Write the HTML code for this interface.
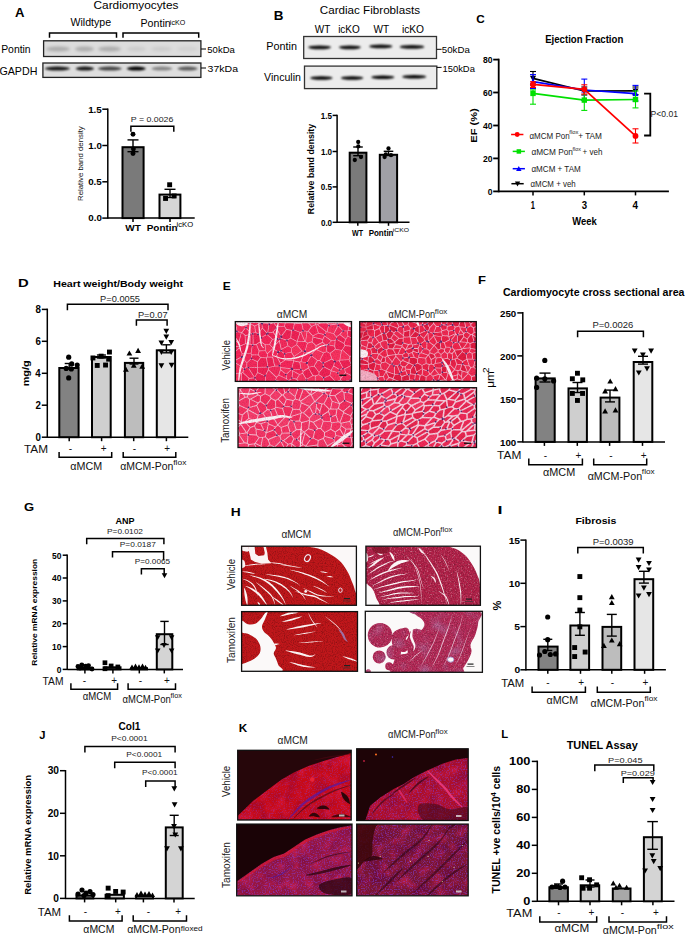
<!DOCTYPE html>
<html><head><meta charset="utf-8"><style>
html,body{margin:0;padding:0;background:#fff;}
svg{display:block;}
text{font-family:"Liberation Sans", sans-serif;}
</style></head><body>
<svg width="685" height="936" viewBox="0 0 685 936">
<defs>
<filter id="blur1" x="-20%" y="-50%" width="140%" height="200%"><feGaussianBlur stdDeviation="0.9"/></filter>
<filter id="blur2" x="-20%" y="-50%" width="140%" height="200%"><feGaussianBlur stdDeviation="1.4"/></filter>
</defs>
<rect width="685" height="936" fill="#fff"/>

<text x="15.07" y="17.0" font-size="12.5" font-weight="bold" fill="#000" textLength="9.47" lengthAdjust="spacingAndGlyphs" >A</text>
<text x="93.50" y="9.1" font-size="10.6" font-weight="normal" fill="#000" textLength="84.93" lengthAdjust="spacingAndGlyphs" >Cardiomyocytes</text>
<text x="70.45" y="26.3" font-size="10" font-weight="normal" fill="#000" textLength="40.62" lengthAdjust="spacingAndGlyphs" >Wildtype</text>
<text x="140.53" y="27.3" font-size="10" font-weight="normal" fill="#000" textLength="30.16" lengthAdjust="spacingAndGlyphs" >Pontin</text>
<text x="169.82" y="24.5" font-size="6.3" font-weight="normal" fill="#000" textLength="15.42" lengthAdjust="spacingAndGlyphs" >icKO</text>
<polyline points="49.5,37.8 49.5,33.1 116.5,33.1 116.5,37.8" fill="none" stroke="#000" stroke-width="1.5"/>
<polyline points="123.0,37.8 123.0,33.1 198.7,33.1 198.7,37.8" fill="none" stroke="#000" stroke-width="1.5"/>
<rect x="43.6" y="40.8" width="157.3" height="15.7" fill="#dcdcdc" stroke="#222" stroke-width="1.3"/>
<g filter="url(#blur2)">
<ellipse cx="58.0" cy="49" rx="12.0" ry="2.6" fill="#000" opacity="0.22"/>
<ellipse cx="84.5" cy="49" rx="9.5" ry="2.6" fill="#000" opacity="0.22"/>
<ellipse cx="109.5" cy="49" rx="11.5" ry="2.6" fill="#000" opacity="0.22"/>
<ellipse cx="136.5" cy="49" rx="9.5" ry="2.6" fill="#000" opacity="0.07"/>
<ellipse cx="161.5" cy="49" rx="10.5" ry="2.6" fill="#000" opacity="0.07"/>
<ellipse cx="187.5" cy="49" rx="10.5" ry="2.6" fill="#000" opacity="0.05"/>
</g>
<rect x="42.9" y="63.0" width="158.0" height="14.4" fill="#dedede" stroke="#222" stroke-width="1.3"/>
<g filter="url(#blur1)">
<ellipse cx="57.4" cy="68.6" rx="12.6" ry="2.0" fill="#000" opacity="0.9"/>
<ellipse cx="84.9" cy="68.6" rx="9.3" ry="2.0" fill="#000" opacity="0.9"/>
<ellipse cx="109.8" cy="68.6" rx="12.1" ry="2.0" fill="#000" opacity="0.7"/>
<ellipse cx="136.3" cy="68.6" rx="9.6" ry="2.0" fill="#000" opacity="1.0"/>
<ellipse cx="161.9" cy="68.6" rx="10.6" ry="2.0" fill="#000" opacity="0.4"/>
<ellipse cx="187.6" cy="68.6" rx="10.2" ry="2.0" fill="#000" opacity="0.6"/>
</g>
<text x="1.15" y="52.6" font-size="10" font-weight="normal" fill="#000" textLength="29.53" lengthAdjust="spacingAndGlyphs" >Pontin</text>
<text x="-0.54" y="74.5" font-size="10.5" font-weight="normal" fill="#000" textLength="37.91" lengthAdjust="spacingAndGlyphs" >GAPDH</text>
<line x1="201.0" y1="49.0" x2="206.0" y2="49.0" stroke="#000" stroke-width="1"/>
<text x="207.32" y="52.5" font-size="9.5" font-weight="normal" fill="#000" textLength="27.58" lengthAdjust="spacingAndGlyphs" >50kDa</text>
<line x1="201.0" y1="68.0" x2="206.0" y2="68.0" stroke="#000" stroke-width="1"/>
<text x="207.60" y="71.5" font-size="9.5" font-weight="normal" fill="#000" textLength="30.40" lengthAdjust="spacingAndGlyphs" >37kDa</text>
<line x1="107.8" y1="108.5" x2="107.8" y2="218.8" stroke="#000" stroke-width="1.5"/>
<line x1="102.3" y1="109.2" x2="107.8" y2="109.2" stroke="#000" stroke-width="1.5"/>
<text x="88.18" y="112.5" font-size="8.6" font-weight="bold" fill="#000" textLength="13.59" lengthAdjust="spacingAndGlyphs" >1.5</text>
<line x1="102.3" y1="145.5" x2="107.8" y2="145.5" stroke="#000" stroke-width="1.5"/>
<text x="88.31" y="148.8" font-size="8.6" font-weight="bold" fill="#000" textLength="13.59" lengthAdjust="spacingAndGlyphs" >1.0</text>
<line x1="102.3" y1="181.8" x2="107.8" y2="181.8" stroke="#000" stroke-width="1.5"/>
<text x="88.18" y="185.1" font-size="8.6" font-weight="bold" fill="#000" textLength="13.59" lengthAdjust="spacingAndGlyphs" >0.5</text>
<line x1="102.3" y1="218.1" x2="107.8" y2="218.1" stroke="#000" stroke-width="1.5"/>
<text x="88.31" y="221.4" font-size="8.6" font-weight="bold" fill="#000" textLength="13.59" lengthAdjust="spacingAndGlyphs" >0.0</text>
<line x1="107.8" y1="218.1" x2="194.7" y2="218.1" stroke="#000" stroke-width="1.5"/>
<line x1="133.0" y1="218.1" x2="133.0" y2="222.1" stroke="#000" stroke-width="1.5"/>
<line x1="170.0" y1="218.1" x2="170.0" y2="222.1" stroke="#000" stroke-width="1.5"/>
<rect x="122.5" y="147.2" width="21.1" height="70.9" fill="#7a7a7a" stroke="#000" stroke-width="2"/>
<rect x="159.5" y="194.6" width="20.9" height="23.5" fill="#d6d6d6" stroke="#000" stroke-width="2"/>
<line x1="133.0" y1="139.9" x2="133.0" y2="151.7" stroke="#000" stroke-width="1.4"/>
<line x1="127.5" y1="139.9" x2="138.5" y2="139.9" stroke="#000" stroke-width="1.4"/>
<line x1="127.5" y1="151.7" x2="138.5" y2="151.7" stroke="#000" stroke-width="1.4"/>
<line x1="170.0" y1="189.3" x2="170.0" y2="197.5" stroke="#000" stroke-width="1.4"/>
<line x1="164.5" y1="189.3" x2="175.5" y2="189.3" stroke="#000" stroke-width="1.4"/>
<line x1="164.5" y1="197.5" x2="175.5" y2="197.5" stroke="#000" stroke-width="1.4"/>
<circle cx="133.0" cy="134.3" r="2.4640000000000004" fill="#000"/>
<circle cx="133.4" cy="149.0" r="2.4640000000000004" fill="#000"/>
<circle cx="133.0" cy="153.5" r="2.4640000000000004" fill="#000"/>
<rect x="167.2" y="182.3" width="4.9" height="4.9" fill="#000"/>
<rect x="163.1" y="196.0" width="4.9" height="4.9" fill="#000"/>
<rect x="171.7" y="193.5" width="4.9" height="4.9" fill="#000"/>
<polyline points="130.9,131.7 130.9,126.2 173.8,126.2 173.8,131.7" fill="none" stroke="#000" stroke-width="1.5"/>
<text x="130.78" y="121.9" font-size="7.5" font-weight="normal" fill="#222" textLength="42.60" lengthAdjust="spacingAndGlyphs" >P = 0.0026</text>
<text transform="translate(83.2,200.94) rotate(-90)" x="0" y="0" font-size="8.1" font-weight="normal" fill="#111" textLength="74.66" lengthAdjust="spacingAndGlyphs">Relative band density</text>
<text x="125.39" y="231.1" font-size="9.3" font-weight="bold" fill="#000" textLength="15.62" lengthAdjust="spacingAndGlyphs" >WT</text>
<text x="146.73" y="231.1" font-size="9.3" font-weight="bold" fill="#000" textLength="30.98" lengthAdjust="spacingAndGlyphs" >Pontin</text>
<text x="176.59" y="227.0" font-size="6.5" font-weight="normal" fill="#000" textLength="16.58" lengthAdjust="spacingAndGlyphs" >icKO</text>
<text x="273.80" y="20.0" font-size="12.8" font-weight="bold" fill="#000" textLength="9.71" lengthAdjust="spacingAndGlyphs" >B</text>
<text x="319.81" y="14.3" font-size="11.4" font-weight="normal" fill="#000" textLength="100.21" lengthAdjust="spacingAndGlyphs" >Cardiac Fibroblasts</text>
<text x="314.86" y="32.7" font-size="10.9" font-weight="normal" fill="#000" textLength="15.57" lengthAdjust="spacingAndGlyphs" >WT</text>
<text x="338.13" y="32.7" font-size="10.9" font-weight="normal" fill="#000" textLength="21.65" lengthAdjust="spacingAndGlyphs" >icKO</text>
<text x="373.56" y="32.7" font-size="10.9" font-weight="normal" fill="#000" textLength="15.57" lengthAdjust="spacingAndGlyphs" >WT</text>
<text x="401.92" y="32.7" font-size="10.9" font-weight="normal" fill="#000" textLength="22.17" lengthAdjust="spacingAndGlyphs" >icKO</text>
<rect x="303.7" y="36.5" width="132.8" height="22.0" fill="#ececec" stroke="#333" stroke-width="1.3"/>
<rect x="304.5" y="66.1" width="132.3" height="22.5" fill="#ececec" stroke="#333" stroke-width="1.3"/>
<g filter="url(#blur1)">
<ellipse cx="319.6" cy="47.3" rx="11.5" ry="1.9" fill="#000" opacity="0.95"/>
<ellipse cx="349.9" cy="47.3" rx="11.0" ry="1.9" fill="#000" opacity="0.95"/>
<ellipse cx="380.8" cy="46.4" rx="11.6" ry="1.9" fill="#000" opacity="0.95"/>
<ellipse cx="412.0" cy="46.9" rx="12.3" ry="1.9" fill="#000" opacity="0.95"/>
<ellipse cx="321.4" cy="78" rx="11.2" ry="1.8" fill="#000" opacity="1"/>
<ellipse cx="352.1" cy="78" rx="11.2" ry="1.8" fill="#000" opacity="1"/>
<ellipse cx="382.8" cy="77.2" rx="11.6" ry="1.8" fill="#000" opacity="1"/>
<ellipse cx="414.2" cy="76.8" rx="12.1" ry="1.8" fill="#000" opacity="1"/>
</g>
<text x="266.32" y="50.2" font-size="10.5" font-weight="normal" fill="#000" textLength="30.59" lengthAdjust="spacingAndGlyphs" >Pontin</text>
<text x="264.05" y="81.0" font-size="10.5" font-weight="normal" fill="#000" textLength="36.93" lengthAdjust="spacingAndGlyphs" >Vinculin</text>
<line x1="436.8" y1="49.3" x2="441.6" y2="49.3" stroke="#000" stroke-width="1"/>
<text x="441.81" y="52.8" font-size="9.6" font-weight="normal" fill="#000" textLength="27.99" lengthAdjust="spacingAndGlyphs" >50kDa</text>
<line x1="436.8" y1="67.4" x2="441.6" y2="67.4" stroke="#000" stroke-width="1"/>
<text x="442.48" y="72.0" font-size="9.6" font-weight="normal" fill="#000" textLength="32.42" lengthAdjust="spacingAndGlyphs" >150kDa</text>
<line x1="337.1" y1="114.7" x2="337.1" y2="223.1" stroke="#000" stroke-width="1.5"/>
<line x1="332.6" y1="115.4" x2="337.1" y2="115.4" stroke="#000" stroke-width="1.5"/>
<text x="320.79" y="118.6" font-size="8.3" font-weight="bold" fill="#000" textLength="11.23" lengthAdjust="spacingAndGlyphs" >1.5</text>
<line x1="332.6" y1="151.5" x2="337.1" y2="151.5" stroke="#000" stroke-width="1.5"/>
<text x="320.90" y="154.7" font-size="8.3" font-weight="bold" fill="#000" textLength="11.23" lengthAdjust="spacingAndGlyphs" >1.0</text>
<line x1="332.6" y1="186.9" x2="337.1" y2="186.9" stroke="#000" stroke-width="1.5"/>
<text x="320.79" y="190.1" font-size="8.3" font-weight="bold" fill="#000" textLength="11.23" lengthAdjust="spacingAndGlyphs" >0.5</text>
<line x1="332.6" y1="222.3" x2="337.1" y2="222.3" stroke="#000" stroke-width="1.5"/>
<text x="320.90" y="225.5" font-size="8.3" font-weight="bold" fill="#000" textLength="11.23" lengthAdjust="spacingAndGlyphs" >0.0</text>
<line x1="337.1" y1="222.3" x2="409.5" y2="222.3" stroke="#000" stroke-width="1.5"/>
<line x1="357.8" y1="222.3" x2="357.8" y2="225.8" stroke="#000" stroke-width="1.5"/>
<line x1="388.5" y1="222.3" x2="388.5" y2="225.8" stroke="#000" stroke-width="1.5"/>
<rect x="349.7" y="152.7" width="16.7" height="69.6" fill="#7a7a7a" stroke="#000" stroke-width="2"/>
<rect x="379.8" y="154.8" width="17.3" height="67.5" fill="#a0a0a6" stroke="#000" stroke-width="2"/>
<line x1="358.0" y1="147.0" x2="358.0" y2="155.7" stroke="#000" stroke-width="1.4"/>
<line x1="353.2" y1="147.0" x2="362.8" y2="147.0" stroke="#000" stroke-width="1.4"/>
<line x1="353.2" y1="155.7" x2="362.8" y2="155.7" stroke="#000" stroke-width="1.4"/>
<line x1="388.5" y1="151.3" x2="388.5" y2="155.5" stroke="#000" stroke-width="1.4"/>
<line x1="383.7" y1="151.3" x2="393.3" y2="151.3" stroke="#000" stroke-width="1.4"/>
<line x1="383.7" y1="155.5" x2="393.3" y2="155.5" stroke="#000" stroke-width="1.4"/>
<circle cx="358.2" cy="142.0" r="2.128" fill="#000"/>
<circle cx="358.3" cy="146.4" r="2.128" fill="#000"/>
<circle cx="361.0" cy="157.0" r="2.128" fill="#000"/>
<circle cx="354.8" cy="160.0" r="2.128" fill="#000"/>
<circle cx="388.5" cy="148.5" r="2.128" fill="#000"/>
<circle cx="385.8" cy="154.3" r="2.128" fill="#000"/>
<circle cx="391.0" cy="155.2" r="2.128" fill="#000"/>
<circle cx="384.6" cy="157.0" r="2.128" fill="#000"/>
<text transform="translate(314.4,214.19) rotate(-90)" x="0" y="0" font-size="9" font-weight="bold" fill="#000" textLength="90.33" lengthAdjust="spacingAndGlyphs">Relative band density</text>
<text x="351.99" y="235.8" font-size="8.3" font-weight="bold" fill="#000" textLength="11.08" lengthAdjust="spacingAndGlyphs" >WT</text>
<text x="368.67" y="235.8" font-size="8.3" font-weight="bold" fill="#000" textLength="24.83" lengthAdjust="spacingAndGlyphs" >Pontin</text>
<text x="392.75" y="231.5" font-size="6" font-weight="normal" fill="#000" textLength="16.18" lengthAdjust="spacingAndGlyphs" >iCKO</text>
<text x="476.32" y="22.9" font-size="11.8" font-weight="bold" fill="#000" textLength="8.51" lengthAdjust="spacingAndGlyphs" >C</text>
<text x="545.16" y="42.8" font-size="10.6" font-weight="bold" fill="#000" textLength="78.14" lengthAdjust="spacingAndGlyphs" >Ejection Fraction</text>
<line x1="498.7" y1="58.7" x2="498.7" y2="192.3" stroke="#000" stroke-width="1.8"/>
<line x1="493.2" y1="59.6" x2="498.7" y2="59.6" stroke="#000" stroke-width="1.8"/>
<text x="483.03" y="63.3" font-size="9.9" font-weight="bold" fill="#000" textLength="9.52" lengthAdjust="spacingAndGlyphs" >80</text>
<line x1="493.2" y1="92.5" x2="498.7" y2="92.5" stroke="#000" stroke-width="1.8"/>
<text x="483.03" y="96.3" font-size="9.9" font-weight="bold" fill="#000" textLength="9.52" lengthAdjust="spacingAndGlyphs" >60</text>
<line x1="493.2" y1="125.5" x2="498.7" y2="125.5" stroke="#000" stroke-width="1.8"/>
<text x="483.03" y="129.2" font-size="9.9" font-weight="bold" fill="#000" textLength="9.52" lengthAdjust="spacingAndGlyphs" >40</text>
<line x1="493.2" y1="158.4" x2="498.7" y2="158.4" stroke="#000" stroke-width="1.8"/>
<text x="483.03" y="162.2" font-size="9.9" font-weight="bold" fill="#000" textLength="9.52" lengthAdjust="spacingAndGlyphs" >20</text>
<line x1="493.2" y1="191.4" x2="498.7" y2="191.4" stroke="#000" stroke-width="1.8"/>
<text x="487.79" y="195.1" font-size="9.9" font-weight="bold" fill="#000" textLength="4.76" lengthAdjust="spacingAndGlyphs" >0</text>
<line x1="498.7" y1="191.4" x2="668.9" y2="191.4" stroke="#000" stroke-width="1.8"/>
<line x1="533.0" y1="191.4" x2="533.0" y2="195.4" stroke="#000" stroke-width="1.5"/>
<line x1="584.3" y1="191.4" x2="584.3" y2="195.4" stroke="#000" stroke-width="1.5"/>
<line x1="635.5" y1="191.4" x2="635.5" y2="195.4" stroke="#000" stroke-width="1.5"/>
<text x="530.63" y="208.7" font-size="10.8" font-weight="bold" fill="#000" textLength="4.18" lengthAdjust="spacingAndGlyphs" >1</text>
<text x="581.68" y="208.7" font-size="10.8" font-weight="bold" fill="#000" textLength="5.37" lengthAdjust="spacingAndGlyphs" >3</text>
<text x="632.55" y="208.7" font-size="10.8" font-weight="bold" fill="#000" textLength="5.50" lengthAdjust="spacingAndGlyphs" >4</text>
<text x="572.29" y="224.8" font-size="11.3" font-weight="bold" fill="#000" textLength="24.50" lengthAdjust="spacingAndGlyphs" >Week</text>
<text transform="translate(476.6,142.64) rotate(-90)" x="0" y="0" font-size="9.8" font-weight="bold" fill="#000" textLength="34.39" lengthAdjust="spacingAndGlyphs">EF (%)</text>
<line x1="533.0" y1="71.5" x2="533.0" y2="85.0" stroke="#000" stroke-width="1.1"/>
<line x1="530.0" y1="71.5" x2="536.0" y2="71.5" stroke="#000" stroke-width="1.1"/>
<line x1="530.0" y1="85.0" x2="536.0" y2="85.0" stroke="#000" stroke-width="1.1"/>
<line x1="584.3" y1="87.0" x2="584.3" y2="95.0" stroke="#000" stroke-width="1.1"/>
<line x1="581.3" y1="87.0" x2="587.3" y2="87.0" stroke="#000" stroke-width="1.1"/>
<line x1="581.3" y1="95.0" x2="587.3" y2="95.0" stroke="#000" stroke-width="1.1"/>
<line x1="635.5" y1="87.0" x2="635.5" y2="94.5" stroke="#000" stroke-width="1.1"/>
<line x1="632.5" y1="87.0" x2="638.5" y2="87.0" stroke="#000" stroke-width="1.1"/>
<line x1="632.5" y1="94.5" x2="638.5" y2="94.5" stroke="#000" stroke-width="1.1"/>
<polyline points="533.0,78.3 584.3,91.0 635.5,90.9" fill="none" stroke="#000" stroke-width="1.7"/>
<polygon points="533.0,81.4 536.1,75.8 529.9,75.8" fill="#000"/>
<polygon points="584.3,94.1 587.4,88.5 581.2,88.5" fill="#000"/>
<polygon points="635.5,94.0 638.6,88.4 632.4,88.4" fill="#000"/>
<line x1="533.0" y1="74.6" x2="533.0" y2="88.5" stroke="#0000ff" stroke-width="1.1"/>
<line x1="530.0" y1="74.6" x2="536.0" y2="74.6" stroke="#0000ff" stroke-width="1.1"/>
<line x1="530.0" y1="88.5" x2="536.0" y2="88.5" stroke="#0000ff" stroke-width="1.1"/>
<line x1="584.3" y1="79.1" x2="584.3" y2="100.5" stroke="#0000ff" stroke-width="1.1"/>
<line x1="581.3" y1="79.1" x2="587.3" y2="79.1" stroke="#0000ff" stroke-width="1.1"/>
<line x1="581.3" y1="100.5" x2="587.3" y2="100.5" stroke="#0000ff" stroke-width="1.1"/>
<line x1="635.5" y1="85.4" x2="635.5" y2="101.0" stroke="#0000ff" stroke-width="1.1"/>
<line x1="632.5" y1="85.4" x2="638.5" y2="85.4" stroke="#0000ff" stroke-width="1.1"/>
<line x1="632.5" y1="101.0" x2="638.5" y2="101.0" stroke="#0000ff" stroke-width="1.1"/>
<polyline points="533.0,81.7 584.3,90.0 635.5,93.6" fill="none" stroke="#0000ff" stroke-width="1.7"/>
<polygon points="533.0,78.6 536.1,84.2 529.9,84.2" fill="#0000ff"/>
<polygon points="584.3,86.9 587.4,92.5 581.2,92.5" fill="#0000ff"/>
<polygon points="635.5,90.5 638.6,96.1 632.4,96.1" fill="#0000ff"/>
<line x1="533.0" y1="89.9" x2="533.0" y2="104.2" stroke="#00e000" stroke-width="1.1"/>
<line x1="530.0" y1="89.9" x2="536.0" y2="89.9" stroke="#00e000" stroke-width="1.1"/>
<line x1="530.0" y1="104.2" x2="536.0" y2="104.2" stroke="#00e000" stroke-width="1.1"/>
<line x1="584.3" y1="89.8" x2="584.3" y2="110.4" stroke="#00e000" stroke-width="1.1"/>
<line x1="581.3" y1="89.8" x2="587.3" y2="89.8" stroke="#00e000" stroke-width="1.1"/>
<line x1="581.3" y1="110.4" x2="587.3" y2="110.4" stroke="#00e000" stroke-width="1.1"/>
<line x1="635.5" y1="91.0" x2="635.5" y2="107.9" stroke="#00e000" stroke-width="1.1"/>
<line x1="632.5" y1="91.0" x2="638.5" y2="91.0" stroke="#00e000" stroke-width="1.1"/>
<line x1="632.5" y1="107.9" x2="638.5" y2="107.9" stroke="#00e000" stroke-width="1.1"/>
<polyline points="533.0,93.4 584.3,100.1 635.5,99.5" fill="none" stroke="#00e000" stroke-width="1.7"/>
<rect x="530.3" y="90.7" width="5.4" height="5.4" fill="#00e000"/>
<rect x="581.6" y="97.4" width="5.4" height="5.4" fill="#00e000"/>
<rect x="632.8" y="96.8" width="5.4" height="5.4" fill="#00e000"/>
<line x1="533.0" y1="81.7" x2="533.0" y2="87.5" stroke="#ff0000" stroke-width="1.1"/>
<line x1="530.0" y1="81.7" x2="536.0" y2="81.7" stroke="#ff0000" stroke-width="1.1"/>
<line x1="530.0" y1="87.5" x2="536.0" y2="87.5" stroke="#ff0000" stroke-width="1.1"/>
<line x1="584.3" y1="84.8" x2="584.3" y2="94.0" stroke="#ff0000" stroke-width="1.1"/>
<line x1="581.3" y1="84.8" x2="587.3" y2="84.8" stroke="#ff0000" stroke-width="1.1"/>
<line x1="581.3" y1="94.0" x2="587.3" y2="94.0" stroke="#ff0000" stroke-width="1.1"/>
<line x1="635.5" y1="128.8" x2="635.5" y2="143.0" stroke="#ff0000" stroke-width="1.1"/>
<line x1="632.5" y1="128.8" x2="638.5" y2="128.8" stroke="#ff0000" stroke-width="1.1"/>
<line x1="632.5" y1="143.0" x2="638.5" y2="143.0" stroke="#ff0000" stroke-width="1.1"/>
<polyline points="533.0,84.4 584.3,89.3 635.5,135.9" fill="none" stroke="#ff0000" stroke-width="1.7"/>
<circle cx="533.0" cy="84.4" r="2.9120000000000004" fill="#ff0000"/>
<circle cx="584.3" cy="89.3" r="2.9120000000000004" fill="#ff0000"/>
<circle cx="635.5" cy="135.9" r="2.9120000000000004" fill="#ff0000"/>
<polyline points="644.1,93.6 650.3,93.6 650.3,135.5 644.1,135.5" fill="none" stroke="#000" stroke-width="1.8"/>
<text x="650.60" y="117.0" font-size="8.2" font-weight="normal" fill="#222" textLength="27.32" lengthAdjust="spacingAndGlyphs" >P&lt;0.01</text>
<line x1="511.1" y1="134.5" x2="523.4" y2="134.5" stroke="#ff0000" stroke-width="1.5"/>
<circle cx="517.2" cy="134.5" r="2.4640000000000004" fill="#ff0000"/>
<line x1="512.7" y1="151.4" x2="524.9" y2="151.4" stroke="#00e000" stroke-width="1.5"/>
<rect x="516.6" y="149.2" width="4.5" height="4.5" fill="#00e000"/>
<line x1="512.7" y1="168.7" x2="524.9" y2="168.7" stroke="#0000ff" stroke-width="1.5"/>
<polygon points="518.8,166.0 521.5,170.9 516.1,170.9" fill="#0000ff"/>
<line x1="511.4" y1="183.7" x2="523.7" y2="183.7" stroke="#000" stroke-width="1.5"/>
<polygon points="517.5,186.4 520.2,181.5 514.9,181.5" fill="#000"/>
<text x="529.46" y="138.5" font-size="8.5" font-weight="normal" fill="#222" textLength="40.15" lengthAdjust="spacingAndGlyphs" >&#945;MCM Pon</text>
<text x="569.32" y="134.2" font-size="5.5" font-weight="normal" fill="#222" textLength="9.04" lengthAdjust="spacingAndGlyphs" >flox</text>
<text x="578.21" y="138.5" font-size="8.5" font-weight="normal" fill="#222" textLength="23.75" lengthAdjust="spacingAndGlyphs" >+ TAM</text>
<text x="531.45" y="154.9" font-size="8.5" font-weight="normal" fill="#222" textLength="41.48" lengthAdjust="spacingAndGlyphs" >&#945;MCM Pon</text>
<text x="572.62" y="150.6" font-size="5.5" font-weight="normal" fill="#222" textLength="8.33" lengthAdjust="spacingAndGlyphs" >flox</text>
<text x="582.51" y="154.9" font-size="8.5" font-weight="normal" fill="#222" textLength="19.92" lengthAdjust="spacingAndGlyphs" >+ veh</text>
<text x="531.47" y="171.8" font-size="8.5" font-weight="normal" fill="#222" textLength="49.28" lengthAdjust="spacingAndGlyphs" >&#945;MCM + TAM</text>
<text x="530.47" y="187.1" font-size="8.5" font-weight="normal" fill="#222" textLength="45.25" lengthAdjust="spacingAndGlyphs" >&#945;MCM + veh</text>
<text x="17.91" y="287.2" font-size="11.7" font-weight="bold" fill="#000" textLength="10.72" lengthAdjust="spacingAndGlyphs" >D</text>
<text x="53.29" y="287.0" font-size="9.8" font-weight="bold" fill="#000" textLength="129.74" lengthAdjust="spacingAndGlyphs" >Heart weight/Body weight</text>
<line x1="47.3" y1="308.6" x2="47.3" y2="437.9" stroke="#000" stroke-width="1.5"/>
<line x1="41.8" y1="309.4" x2="47.3" y2="309.4" stroke="#000" stroke-width="1.5"/>
<text x="35.39" y="313.2" font-size="10.2" font-weight="bold" fill="#000" textLength="5.41" lengthAdjust="spacingAndGlyphs" >8</text>
<line x1="41.8" y1="341.3" x2="47.3" y2="341.3" stroke="#000" stroke-width="1.5"/>
<text x="35.44" y="345.2" font-size="10.2" font-weight="bold" fill="#000" textLength="5.41" lengthAdjust="spacingAndGlyphs" >6</text>
<line x1="41.8" y1="373.3" x2="47.3" y2="373.3" stroke="#000" stroke-width="1.5"/>
<text x="35.14" y="377.1" font-size="10.2" font-weight="bold" fill="#000" textLength="5.41" lengthAdjust="spacingAndGlyphs" >4</text>
<line x1="41.8" y1="405.2" x2="47.3" y2="405.2" stroke="#000" stroke-width="1.5"/>
<text x="35.48" y="409.1" font-size="10.2" font-weight="bold" fill="#000" textLength="5.41" lengthAdjust="spacingAndGlyphs" >2</text>
<line x1="41.8" y1="437.2" x2="47.3" y2="437.2" stroke="#000" stroke-width="1.5"/>
<text x="35.49" y="441.0" font-size="10.2" font-weight="bold" fill="#000" textLength="5.41" lengthAdjust="spacingAndGlyphs" >0</text>
<line x1="47.3" y1="437.2" x2="188.3" y2="437.2" stroke="#000" stroke-width="1.5"/>
<line x1="69.2" y1="437.2" x2="69.2" y2="441.2" stroke="#000" stroke-width="1.5"/>
<line x1="101.6" y1="437.2" x2="101.6" y2="441.2" stroke="#000" stroke-width="1.5"/>
<line x1="133.7" y1="437.2" x2="133.7" y2="441.2" stroke="#000" stroke-width="1.5"/>
<line x1="166.4" y1="437.2" x2="166.4" y2="441.2" stroke="#000" stroke-width="1.5"/>
<rect x="59.3" y="368.0" width="19.3" height="69.2" fill="#828282" stroke="#000" stroke-width="2"/>
<rect x="92.0" y="357.0" width="18.7" height="80.2" fill="#cfcfcf" stroke="#000" stroke-width="2"/>
<rect x="124.9" y="362.9" width="18.3" height="74.3" fill="#bdbdbd" stroke="#000" stroke-width="2"/>
<rect x="156.8" y="350.3" width="18.3" height="86.9" fill="#e6e6e6" stroke="#000" stroke-width="2"/>
<line x1="69.2" y1="363.5" x2="69.2" y2="369.0" stroke="#000" stroke-width="1.4"/>
<line x1="64.7" y1="363.5" x2="73.7" y2="363.5" stroke="#000" stroke-width="1.4"/>
<line x1="64.7" y1="369.0" x2="73.7" y2="369.0" stroke="#000" stroke-width="1.4"/>
<line x1="101.4" y1="355.0" x2="101.4" y2="358.0" stroke="#000" stroke-width="1.4"/>
<line x1="96.9" y1="355.0" x2="105.9" y2="355.0" stroke="#000" stroke-width="1.4"/>
<line x1="96.9" y1="358.0" x2="105.9" y2="358.0" stroke="#000" stroke-width="1.4"/>
<line x1="134.0" y1="358.2" x2="134.0" y2="364.0" stroke="#000" stroke-width="1.4"/>
<line x1="129.5" y1="358.2" x2="138.5" y2="358.2" stroke="#000" stroke-width="1.4"/>
<line x1="129.5" y1="364.0" x2="138.5" y2="364.0" stroke="#000" stroke-width="1.4"/>
<line x1="166.4" y1="344.8" x2="166.4" y2="352.8" stroke="#000" stroke-width="1.4"/>
<line x1="162.2" y1="344.8" x2="170.6" y2="344.8" stroke="#000" stroke-width="1.4"/>
<line x1="162.2" y1="352.8" x2="170.6" y2="352.8" stroke="#000" stroke-width="1.4"/>
<circle cx="68.7" cy="357.2" r="2.576" fill="#000"/>
<circle cx="71.7" cy="363.9" r="2.576" fill="#000"/>
<circle cx="77.2" cy="365.1" r="2.576" fill="#000"/>
<circle cx="66.2" cy="368.4" r="2.576" fill="#000"/>
<circle cx="71.3" cy="369.0" r="2.576" fill="#000"/>
<circle cx="68.7" cy="377.9" r="2.576" fill="#000"/>
<rect x="107.0" y="349.6" width="4.9" height="4.9" fill="#000"/>
<rect x="90.5" y="355.5" width="4.9" height="4.9" fill="#000"/>
<rect x="98.7" y="353.7" width="4.9" height="4.9" fill="#000"/>
<rect x="106.2" y="356.7" width="4.9" height="4.9" fill="#000"/>
<rect x="94.8" y="363.0" width="4.9" height="4.9" fill="#000"/>
<rect x="103.1" y="362.6" width="4.9" height="4.9" fill="#000"/>
<polygon points="129.4,350.4 132.3,355.6 126.5,355.6" fill="#000"/>
<polygon points="138.1,347.8 141.0,353.0 135.2,353.0" fill="#000"/>
<polygon points="133.8,362.6 136.7,367.8 130.9,367.8" fill="#000"/>
<polygon points="125.9,366.5 128.8,371.7 123.0,371.7" fill="#000"/>
<polygon points="142.2,363.6 145.1,368.8 139.3,368.8" fill="#000"/>
<polygon points="166.3,333.9 169.2,328.7 163.4,328.7" fill="#000"/>
<polygon points="166.3,339.8 169.2,334.6 163.4,334.6" fill="#000"/>
<polygon points="161.4,345.7 164.3,340.5 158.5,340.5" fill="#000"/>
<polygon points="171.2,345.3 174.1,340.1 168.3,340.1" fill="#000"/>
<polygon points="161.4,354.9 164.3,349.7 158.5,349.7" fill="#000"/>
<polygon points="171.2,354.9 174.1,349.7 168.3,349.7" fill="#000"/>
<polygon points="161.4,368.4 164.3,363.2 158.5,363.2" fill="#000"/>
<polygon points="171.6,368.0 174.5,362.8 168.7,362.8" fill="#000"/>
<polyline points="67.4,310.3 67.4,304.2 168.0,304.2 168.0,310.3" fill="none" stroke="#000" stroke-width="1.5"/>
<text x="100.14" y="302.0" font-size="8.5" font-weight="normal" fill="#222" textLength="39.85" lengthAdjust="spacingAndGlyphs" >P=0.0055</text>
<polyline points="136.4,325.7 136.4,319.9 167.1,319.9 167.1,325.7" fill="none" stroke="#000" stroke-width="1.5"/>
<text x="137.94" y="318.2" font-size="8.5" font-weight="normal" fill="#222" textLength="29.63" lengthAdjust="spacingAndGlyphs" >P=0.07</text>
<text transform="translate(29.4,386.32) rotate(-90)" x="0" y="0" font-size="9.8" font-weight="bold" fill="#000" textLength="26.05" lengthAdjust="spacingAndGlyphs">mg/g</text>
<text x="23.94" y="452.9" font-size="10.5" font-weight="normal" fill="#111" textLength="24.09" lengthAdjust="spacingAndGlyphs" >TAM</text>
<text x="70.5" y="452.1" font-size="10.0" text-anchor="middle" fill="#111">-</text>
<text x="103.6" y="452.1" font-size="10.0" text-anchor="middle" fill="#111">+</text>
<text x="134.3" y="452.1" font-size="10.0" text-anchor="middle" fill="#111">-</text>
<text x="167.2" y="452.1" font-size="10.0" text-anchor="middle" fill="#111">+</text>
<polyline points="59.1,452.1 59.1,457.3 111.7,457.3 111.7,452.1" fill="none" stroke="#000" stroke-width="1.5"/>
<polyline points="123.2,452.1 123.2,457.3 175.8,457.3 175.8,452.1" fill="none" stroke="#000" stroke-width="1.5"/>
<text x="70.25" y="469.7" font-size="10.5" font-weight="normal" fill="#111" textLength="31.83" lengthAdjust="spacingAndGlyphs" >&#945;MCM</text>
<text x="120.16" y="469.7" font-size="10.5" font-weight="normal" fill="#111" textLength="53.12" lengthAdjust="spacingAndGlyphs" >&#945;MCM-Pon</text>
<text x="173.28" y="464.7" font-size="7.5" font-weight="normal" fill="#111" textLength="13.11" lengthAdjust="spacingAndGlyphs" >flox</text>
<text x="477.93" y="283.9" font-size="11.7" font-weight="bold" fill="#000" textLength="7.95" lengthAdjust="spacingAndGlyphs" >F</text>
<text x="502.97" y="296.0" font-size="10" font-weight="bold" fill="#000" textLength="181.47" lengthAdjust="spacingAndGlyphs" >Cardiomyocyte cross sectional area</text>
<line x1="522.8" y1="312.1" x2="522.8" y2="442.6" stroke="#000" stroke-width="1.5"/>
<line x1="517.3" y1="312.9" x2="522.8" y2="312.9" stroke="#000" stroke-width="1.5"/>
<text x="500.06" y="316.5" font-size="9.5" font-weight="bold" fill="#000" textLength="16.24" lengthAdjust="spacingAndGlyphs" >250</text>
<line x1="517.3" y1="355.9" x2="522.8" y2="355.9" stroke="#000" stroke-width="1.5"/>
<text x="500.06" y="359.5" font-size="9.5" font-weight="bold" fill="#000" textLength="16.24" lengthAdjust="spacingAndGlyphs" >200</text>
<line x1="517.3" y1="398.9" x2="522.8" y2="398.9" stroke="#000" stroke-width="1.5"/>
<text x="500.06" y="402.5" font-size="9.5" font-weight="bold" fill="#000" textLength="16.24" lengthAdjust="spacingAndGlyphs" >150</text>
<line x1="517.3" y1="441.9" x2="522.8" y2="441.9" stroke="#000" stroke-width="1.5"/>
<text x="500.06" y="445.5" font-size="9.5" font-weight="bold" fill="#000" textLength="16.24" lengthAdjust="spacingAndGlyphs" >100</text>
<line x1="522.8" y1="441.9" x2="665.0" y2="441.9" stroke="#000" stroke-width="1.5"/>
<line x1="544.4" y1="441.9" x2="544.4" y2="445.9" stroke="#000" stroke-width="1.5"/>
<line x1="577.3" y1="441.9" x2="577.3" y2="445.9" stroke="#000" stroke-width="1.5"/>
<line x1="609.6" y1="441.9" x2="609.6" y2="445.9" stroke="#000" stroke-width="1.5"/>
<line x1="642.5" y1="441.9" x2="642.5" y2="445.9" stroke="#000" stroke-width="1.5"/>
<rect x="535.6" y="378.4" width="19.1" height="63.5" fill="#828282" stroke="#000" stroke-width="2"/>
<rect x="568.5" y="388.4" width="18.4" height="53.5" fill="#cfcfcf" stroke="#000" stroke-width="2"/>
<rect x="600.6" y="397.6" width="18.8" height="44.3" fill="#bdbdbd" stroke="#000" stroke-width="2"/>
<rect x="633.7" y="362.0" width="18.6" height="79.9" fill="#e6e6e6" stroke="#000" stroke-width="2"/>
<line x1="545.0" y1="373.1" x2="545.0" y2="382.0" stroke="#000" stroke-width="1.4"/>
<line x1="539.5" y1="373.1" x2="550.5" y2="373.1" stroke="#000" stroke-width="1.4"/>
<line x1="539.5" y1="382.0" x2="550.5" y2="382.0" stroke="#000" stroke-width="1.4"/>
<line x1="577.5" y1="382.5" x2="577.5" y2="392.5" stroke="#000" stroke-width="1.4"/>
<line x1="572.5" y1="382.5" x2="582.5" y2="382.5" stroke="#000" stroke-width="1.4"/>
<line x1="572.5" y1="392.5" x2="582.5" y2="392.5" stroke="#000" stroke-width="1.4"/>
<line x1="610.0" y1="390.1" x2="610.0" y2="401.9" stroke="#000" stroke-width="1.4"/>
<line x1="605.0" y1="390.1" x2="615.0" y2="390.1" stroke="#000" stroke-width="1.4"/>
<line x1="605.0" y1="401.9" x2="615.0" y2="401.9" stroke="#000" stroke-width="1.4"/>
<line x1="643.0" y1="356.3" x2="643.0" y2="364.1" stroke="#000" stroke-width="1.4"/>
<line x1="638.0" y1="356.3" x2="648.0" y2="356.3" stroke="#000" stroke-width="1.4"/>
<line x1="638.0" y1="364.1" x2="648.0" y2="364.1" stroke="#000" stroke-width="1.4"/>
<circle cx="544.8" cy="360.4" r="2.576" fill="#000"/>
<circle cx="536.6" cy="378.2" r="2.576" fill="#000"/>
<circle cx="544.8" cy="378.8" r="2.576" fill="#000"/>
<circle cx="553.6" cy="380.9" r="2.576" fill="#000"/>
<circle cx="536.6" cy="387.4" r="2.576" fill="#000"/>
<rect x="575.0" y="370.8" width="4.9" height="4.9" fill="#000"/>
<rect x="569.9" y="376.3" width="4.9" height="4.9" fill="#000"/>
<rect x="580.3" y="377.4" width="4.9" height="4.9" fill="#000"/>
<rect x="569.9" y="391.0" width="4.9" height="4.9" fill="#000"/>
<rect x="580.1" y="391.0" width="4.9" height="4.9" fill="#000"/>
<rect x="575.0" y="398.0" width="4.9" height="4.9" fill="#000"/>
<polygon points="610.2,378.4 613.1,383.6 607.3,383.6" fill="#000"/>
<polygon points="605.1,388.2 608.0,393.4 602.2,393.4" fill="#000"/>
<polygon points="615.5,386.1 618.4,391.3 612.6,391.3" fill="#000"/>
<polygon points="605.1,408.2 608.0,413.4 602.2,413.4" fill="#000"/>
<polygon points="615.5,407.2 618.4,412.4 612.6,412.4" fill="#000"/>
<polygon points="634.7,353.7 637.6,348.5 631.8,348.5" fill="#000"/>
<polygon points="642.9,357.8 645.8,352.6 640.0,352.6" fill="#000"/>
<polygon points="651.1,353.7 654.0,348.5 648.2,348.5" fill="#000"/>
<polygon points="647.0,371.5 649.9,366.3 644.1,366.3" fill="#000"/>
<polygon points="638.8,375.6 641.7,370.4 635.9,370.4" fill="#000"/>
<polyline points="577.6,337.3 577.6,331.2 643.4,331.2 643.4,337.3" fill="none" stroke="#000" stroke-width="1.5"/>
<text x="592.42" y="327.7" font-size="8.5" font-weight="normal" fill="#222" textLength="40.90" lengthAdjust="spacingAndGlyphs" >P=0.0026</text>
<text transform="translate(494.1,387.69) rotate(-90)" x="0" y="0" font-size="11" font-weight="normal" fill="#000" textLength="16.57" lengthAdjust="spacingAndGlyphs">&#956;m</text>
<text transform="translate(489.2,372.91) rotate(-90)" x="0" y="0" font-size="9.5" font-weight="normal" fill="#000" textLength="5.62" lengthAdjust="spacingAndGlyphs">2</text>
<text x="497.14" y="459.3" font-size="10.5" font-weight="normal" fill="#111" textLength="24.20" lengthAdjust="spacingAndGlyphs" >TAM</text>
<text x="545.5" y="458.5" font-size="10.0" text-anchor="middle" fill="#111">-</text>
<text x="578.5" y="458.5" font-size="10.0" text-anchor="middle" fill="#111">+</text>
<text x="610.8" y="458.5" font-size="10.0" text-anchor="middle" fill="#111">-</text>
<text x="643.6" y="458.5" font-size="10.0" text-anchor="middle" fill="#111">+</text>
<polyline points="528.8,458.4 528.8,464.7 582.4,464.7 582.4,458.4" fill="none" stroke="#000" stroke-width="1.5"/>
<polyline points="593.7,458.4 593.7,464.7 646.7,464.7 646.7,458.4" fill="none" stroke="#000" stroke-width="1.5"/>
<text x="543.04" y="476.4" font-size="10.5" font-weight="normal" fill="#111" textLength="32.14" lengthAdjust="spacingAndGlyphs" >&#945;MCM</text>
<text x="587.65" y="479.8" font-size="10.5" font-weight="normal" fill="#111" textLength="54.45" lengthAdjust="spacingAndGlyphs" >&#945;MCM-Pon</text>
<text x="641.88" y="474.4" font-size="7.5" font-weight="normal" fill="#111" textLength="12.70" lengthAdjust="spacingAndGlyphs" >flox</text>
<text x="23.97" y="510.7" font-size="11.7" font-weight="bold" fill="#000" textLength="10.14" lengthAdjust="spacingAndGlyphs" >G</text>
<text x="115.48" y="523.8" font-size="9.5" font-weight="bold" fill="#000" textLength="19.03" lengthAdjust="spacingAndGlyphs" >ANP</text>
<line x1="67.2" y1="554.5" x2="67.2" y2="670.1" stroke="#000" stroke-width="1.5"/>
<line x1="62.7" y1="555.2" x2="67.2" y2="555.2" stroke="#000" stroke-width="1.5"/>
<text x="52.04" y="558.5" font-size="8.8" font-weight="bold" fill="#000" textLength="9.41" lengthAdjust="spacingAndGlyphs" >50</text>
<line x1="62.7" y1="578.0" x2="67.2" y2="578.0" stroke="#000" stroke-width="1.5"/>
<text x="52.04" y="581.4" font-size="8.8" font-weight="bold" fill="#000" textLength="9.41" lengthAdjust="spacingAndGlyphs" >40</text>
<line x1="62.7" y1="600.9" x2="67.2" y2="600.9" stroke="#000" stroke-width="1.5"/>
<text x="52.04" y="604.2" font-size="8.8" font-weight="bold" fill="#000" textLength="9.41" lengthAdjust="spacingAndGlyphs" >30</text>
<line x1="62.7" y1="623.7" x2="67.2" y2="623.7" stroke="#000" stroke-width="1.5"/>
<text x="52.04" y="627.0" font-size="8.8" font-weight="bold" fill="#000" textLength="9.41" lengthAdjust="spacingAndGlyphs" >20</text>
<line x1="62.7" y1="646.6" x2="67.2" y2="646.6" stroke="#000" stroke-width="1.5"/>
<text x="52.04" y="649.9" font-size="8.8" font-weight="bold" fill="#000" textLength="9.41" lengthAdjust="spacingAndGlyphs" >10</text>
<line x1="62.7" y1="669.4" x2="67.2" y2="669.4" stroke="#000" stroke-width="1.5"/>
<text x="56.74" y="672.7" font-size="8.8" font-weight="bold" fill="#000" textLength="4.70" lengthAdjust="spacingAndGlyphs" >0</text>
<line x1="67.2" y1="669.4" x2="183.0" y2="669.4" stroke="#000" stroke-width="1.5"/>
<line x1="84.9" y1="669.4" x2="84.9" y2="673.4" stroke="#000" stroke-width="1.5"/>
<line x1="112.9" y1="669.4" x2="112.9" y2="673.4" stroke="#000" stroke-width="1.5"/>
<line x1="139.3" y1="669.4" x2="139.3" y2="673.4" stroke="#000" stroke-width="1.5"/>
<line x1="164.3" y1="669.4" x2="164.3" y2="673.4" stroke="#000" stroke-width="1.5"/>
<rect x="77.7" y="667.8" width="13.8" height="1.6" fill="#787878" stroke="#000" stroke-width="2"/>
<rect x="104.5" y="667.3" width="16.0" height="2.1" fill="#cfcfcf" stroke="#000" stroke-width="2"/>
<rect x="131.5" y="668.2" width="15.5" height="1.2" fill="#bdbdbd" stroke="#000" stroke-width="2"/>
<rect x="156.8" y="634.2" width="15.5" height="35.2" fill="#d4d4d4" stroke="#000" stroke-width="2"/>
<line x1="164.5" y1="621.4" x2="164.5" y2="644.5" stroke="#000" stroke-width="1.4"/>
<line x1="160.3" y1="621.4" x2="168.7" y2="621.4" stroke="#000" stroke-width="1.4"/>
<line x1="160.3" y1="644.5" x2="168.7" y2="644.5" stroke="#000" stroke-width="1.4"/>
<circle cx="78.0" cy="666.5" r="2.4640000000000004" fill="#000"/>
<circle cx="81.8" cy="665.0" r="2.4640000000000004" fill="#000"/>
<circle cx="85.6" cy="666.1" r="2.4640000000000004" fill="#000"/>
<circle cx="88.5" cy="665.6" r="2.4640000000000004" fill="#000"/>
<circle cx="92.0" cy="669.0" r="2.4640000000000004" fill="#000"/>
<circle cx="80.0" cy="668.0" r="2.4640000000000004" fill="#000"/>
<rect x="102.6" y="660.4" width="4.7" height="4.7" fill="#000"/>
<rect x="102.6" y="666.4" width="4.7" height="4.7" fill="#000"/>
<rect x="108.8" y="663.6" width="4.7" height="4.7" fill="#000"/>
<rect x="115.5" y="664.6" width="4.7" height="4.7" fill="#000"/>
<polygon points="132.0,664.4 134.6,669.1 129.4,669.1" fill="#000"/>
<polygon points="135.5,663.6 138.1,668.3 132.9,668.3" fill="#000"/>
<polygon points="139.0,664.2 141.6,668.9 136.4,668.9" fill="#000"/>
<polygon points="142.5,663.4 145.1,668.1 139.9,668.1" fill="#000"/>
<polygon points="145.5,664.7 148.1,669.4 142.9,669.4" fill="#000"/>
<polygon points="164.5,578.3 167.3,573.3 161.7,573.3" fill="#000"/>
<polygon points="164.0,647.9 166.8,642.9 161.2,642.9" fill="#000"/>
<polygon points="157.7,640.3 160.5,635.3 154.9,635.3" fill="#000"/>
<polygon points="171.6,640.3 174.4,635.3 168.8,635.3" fill="#000"/>
<polygon points="157.7,653.6 160.5,648.6 154.9,648.6" fill="#000"/>
<polygon points="171.6,653.6 174.4,648.6 168.8,648.6" fill="#000"/>
<polyline points="86.7,544.2 86.7,538.5 163.9,538.5 163.9,544.2" fill="none" stroke="#000" stroke-width="1.5"/>
<text x="107.02" y="533.7" font-size="8" font-weight="normal" fill="#222" textLength="35.90" lengthAdjust="spacingAndGlyphs" >P=0.0102</text>
<polyline points="112.5,557.5 112.5,551.7 163.6,551.7 163.6,560.0" fill="none" stroke="#000" stroke-width="1.5"/>
<text x="119.81" y="546.9" font-size="8" font-weight="normal" fill="#222" textLength="36.01" lengthAdjust="spacingAndGlyphs" >P=0.0187</text>
<polyline points="141.4,574.4 141.4,568.7 164.2,568.7 164.2,574.0" fill="none" stroke="#000" stroke-width="1.5"/>
<text x="134.73" y="563.9" font-size="8" font-weight="normal" fill="#222" textLength="35.42" lengthAdjust="spacingAndGlyphs" >P=0.0065</text>
<text transform="translate(37.1,665.66) rotate(-90)" x="0" y="0" font-size="7.5" font-weight="bold" fill="#000" textLength="106.88" lengthAdjust="spacingAndGlyphs">Relative mRNA expression</text>
<text x="42.58" y="684.6" font-size="10.5" font-weight="normal" fill="#111" textLength="20.94" lengthAdjust="spacingAndGlyphs" >TAM</text>
<text x="84.4" y="683.8" font-size="10.0" text-anchor="middle" fill="#111">-</text>
<text x="114.1" y="683.8" font-size="10.0" text-anchor="middle" fill="#111">+</text>
<text x="140.5" y="683.8" font-size="10.0" text-anchor="middle" fill="#111">-</text>
<text x="167.0" y="683.8" font-size="10.0" text-anchor="middle" fill="#111">+</text>
<polyline points="70.9,683.3 70.9,689.3 117.6,689.3 117.6,683.3" fill="none" stroke="#000" stroke-width="1.5"/>
<polyline points="128.1,683.3 128.1,689.3 175.5,689.3 175.5,683.3" fill="none" stroke="#000" stroke-width="1.5"/>
<text x="82.80" y="700.0" font-size="10.5" font-weight="normal" fill="#111" textLength="28.39" lengthAdjust="spacingAndGlyphs" >&#945;MCM</text>
<text x="122.50" y="702.8" font-size="10" font-weight="normal" fill="#111" textLength="48.22" lengthAdjust="spacingAndGlyphs" >&#945;MCM-Pon</text>
<text x="170.50" y="697.7" font-size="6.5" font-weight="normal" fill="#111" textLength="11.38" lengthAdjust="spacingAndGlyphs" >flox</text>
<text x="497.49" y="513.5" font-size="11.7" font-weight="bold" fill="#000" textLength="5.01" lengthAdjust="spacingAndGlyphs" >I</text>
<text x="575.40" y="524.1" font-size="9.5" font-weight="bold" fill="#000" textLength="40.94" lengthAdjust="spacingAndGlyphs" >Fibrosis</text>
<line x1="525.9" y1="539.4" x2="525.9" y2="670.5" stroke="#000" stroke-width="1.5"/>
<line x1="520.4" y1="540.1" x2="525.9" y2="540.1" stroke="#000" stroke-width="1.5"/>
<text x="508.65" y="543.6" font-size="9.2" font-weight="bold" fill="#000" textLength="11.43" lengthAdjust="spacingAndGlyphs" >15</text>
<line x1="520.4" y1="583.3" x2="525.9" y2="583.3" stroke="#000" stroke-width="1.5"/>
<text x="508.79" y="586.8" font-size="9.2" font-weight="bold" fill="#000" textLength="11.43" lengthAdjust="spacingAndGlyphs" >10</text>
<line x1="520.4" y1="626.6" x2="525.9" y2="626.6" stroke="#000" stroke-width="1.5"/>
<text x="514.37" y="630.0" font-size="9.2" font-weight="bold" fill="#000" textLength="5.72" lengthAdjust="spacingAndGlyphs" >5</text>
<line x1="520.4" y1="669.8" x2="525.9" y2="669.8" stroke="#000" stroke-width="1.5"/>
<text x="514.50" y="673.3" font-size="9.2" font-weight="bold" fill="#000" textLength="5.72" lengthAdjust="spacingAndGlyphs" >0</text>
<line x1="525.9" y1="669.8" x2="665.9" y2="669.8" stroke="#000" stroke-width="1.5"/>
<line x1="547.8" y1="669.8" x2="547.8" y2="673.8" stroke="#000" stroke-width="1.5"/>
<line x1="580.5" y1="669.8" x2="580.5" y2="673.8" stroke="#000" stroke-width="1.5"/>
<line x1="611.8" y1="669.8" x2="611.8" y2="673.8" stroke="#000" stroke-width="1.5"/>
<line x1="644.6" y1="669.8" x2="644.6" y2="673.8" stroke="#000" stroke-width="1.5"/>
<rect x="538.5" y="646.6" width="19.1" height="23.2" fill="#828282" stroke="#000" stroke-width="2"/>
<rect x="570.4" y="625.5" width="18.7" height="44.3" fill="#cfcfcf" stroke="#000" stroke-width="2"/>
<rect x="602.5" y="626.9" width="18.7" height="42.9" fill="#bdbdbd" stroke="#000" stroke-width="2"/>
<rect x="634.5" y="579.2" width="18.7" height="90.6" fill="#e6e6e6" stroke="#000" stroke-width="2"/>
<line x1="547.8" y1="639.3" x2="547.8" y2="650.5" stroke="#000" stroke-width="1.4"/>
<line x1="543.3" y1="639.3" x2="552.3" y2="639.3" stroke="#000" stroke-width="1.4"/>
<line x1="543.3" y1="650.5" x2="552.3" y2="650.5" stroke="#000" stroke-width="1.4"/>
<line x1="579.9" y1="612.5" x2="579.9" y2="635.3" stroke="#000" stroke-width="1.4"/>
<line x1="574.9" y1="612.5" x2="584.9" y2="612.5" stroke="#000" stroke-width="1.4"/>
<line x1="574.9" y1="635.3" x2="584.9" y2="635.3" stroke="#000" stroke-width="1.4"/>
<line x1="611.8" y1="614.4" x2="611.8" y2="636.1" stroke="#000" stroke-width="1.4"/>
<line x1="606.8" y1="614.4" x2="616.8" y2="614.4" stroke="#000" stroke-width="1.4"/>
<line x1="606.8" y1="636.1" x2="616.8" y2="636.1" stroke="#000" stroke-width="1.4"/>
<line x1="643.9" y1="571.3" x2="643.9" y2="583.1" stroke="#000" stroke-width="1.4"/>
<line x1="638.9" y1="571.3" x2="648.9" y2="571.3" stroke="#000" stroke-width="1.4"/>
<line x1="638.9" y1="583.1" x2="648.9" y2="583.1" stroke="#000" stroke-width="1.4"/>
<circle cx="547.7" cy="617.0" r="2.576" fill="#000"/>
<circle cx="547.7" cy="639.7" r="2.576" fill="#000"/>
<circle cx="544.8" cy="651.5" r="2.576" fill="#000"/>
<circle cx="539.5" cy="655.0" r="2.576" fill="#000"/>
<circle cx="550.3" cy="654.5" r="2.576" fill="#000"/>
<circle cx="555.6" cy="653.9" r="2.576" fill="#000"/>
<rect x="577.4" y="574.1" width="4.9" height="4.9" fill="#000"/>
<rect x="577.4" y="595.2" width="4.9" height="4.9" fill="#000"/>
<rect x="577.4" y="607.6" width="4.9" height="4.9" fill="#000"/>
<rect x="577.4" y="624.4" width="4.9" height="4.9" fill="#000"/>
<rect x="572.2" y="645.1" width="4.9" height="4.9" fill="#000"/>
<rect x="582.7" y="649.6" width="4.9" height="4.9" fill="#000"/>
<rect x="572.2" y="654.1" width="4.9" height="4.9" fill="#000"/>
<polygon points="611.8,594.0 614.7,599.2 608.9,599.2" fill="#000"/>
<polygon points="611.8,599.9 614.7,605.1 608.9,605.1" fill="#000"/>
<polygon points="611.8,637.4 614.7,642.6 608.9,642.6" fill="#000"/>
<polygon points="603.9,642.7 606.8,647.9 601.0,647.9" fill="#000"/>
<polygon points="619.7,641.1 622.6,646.3 616.8,646.3" fill="#000"/>
<polygon points="638.6,562.8 641.5,557.6 635.7,557.6" fill="#000"/>
<polygon points="649.0,566.1 651.9,560.9 646.1,560.9" fill="#000"/>
<polygon points="638.6,570.2 641.5,565.0 635.7,565.0" fill="#000"/>
<polygon points="649.0,572.6 651.9,567.4 646.1,567.4" fill="#000"/>
<polygon points="643.9,590.7 646.8,585.5 641.0,585.5" fill="#000"/>
<polygon points="638.6,598.6 641.5,593.4 635.7,593.4" fill="#000"/>
<polygon points="649.0,597.2 651.9,592.0 646.1,592.0" fill="#000"/>
<polyline points="577.8,553.5 577.8,547.4 643.3,547.4 643.3,553.5" fill="none" stroke="#000" stroke-width="1.5"/>
<text x="592.72" y="544.6" font-size="8.5" font-weight="normal" fill="#222" textLength="40.93" lengthAdjust="spacingAndGlyphs" >P=0.0039</text>
<text transform="translate(501.2,610.58) rotate(-90)" x="0" y="0" font-size="10" font-weight="bold" fill="#000" textLength="9.87" lengthAdjust="spacingAndGlyphs">%</text>
<text x="501.15" y="687.1" font-size="10.5" font-weight="normal" fill="#111" textLength="23.04" lengthAdjust="spacingAndGlyphs" >TAM</text>
<text x="548.0" y="686.3" font-size="10.0" text-anchor="middle" fill="#111">-</text>
<text x="581.2" y="686.3" font-size="10.0" text-anchor="middle" fill="#111">+</text>
<text x="612.5" y="686.3" font-size="10.0" text-anchor="middle" fill="#111">-</text>
<text x="645.4" y="686.3" font-size="10.0" text-anchor="middle" fill="#111">+</text>
<polyline points="532.1,686.5 532.1,692.2 585.4,692.2 585.4,686.5" fill="none" stroke="#000" stroke-width="1.5"/>
<polyline points="597.3,686.5 597.3,692.2 650.3,692.2 650.3,686.5" fill="none" stroke="#000" stroke-width="1.5"/>
<text x="546.45" y="704.2" font-size="10.5" font-weight="normal" fill="#111" textLength="31.83" lengthAdjust="spacingAndGlyphs" >&#945;MCM</text>
<text x="590.55" y="707.0" font-size="10.5" font-weight="normal" fill="#111" textLength="53.83" lengthAdjust="spacingAndGlyphs" >&#945;MCM-Pon</text>
<text x="644.48" y="701.3" font-size="7.5" font-weight="normal" fill="#111" textLength="13.01" lengthAdjust="spacingAndGlyphs" >flox</text>
<text x="39.23" y="739.1" font-size="11.7" font-weight="bold" fill="#000" textLength="6.24" lengthAdjust="spacingAndGlyphs" >J</text>
<text x="118.49" y="729.6" font-size="10" font-weight="bold" fill="#000" textLength="21.90" lengthAdjust="spacingAndGlyphs" >Col1</text>
<line x1="65.5" y1="770.0" x2="65.5" y2="899.1" stroke="#000" stroke-width="1.5"/>
<line x1="60.0" y1="770.7" x2="65.5" y2="770.7" stroke="#000" stroke-width="1.5"/>
<text x="47.67" y="774.4" font-size="10" font-weight="bold" fill="#000" textLength="11.35" lengthAdjust="spacingAndGlyphs" >30</text>
<line x1="60.0" y1="813.3" x2="65.5" y2="813.3" stroke="#000" stroke-width="1.5"/>
<text x="47.67" y="817.0" font-size="10" font-weight="bold" fill="#000" textLength="11.35" lengthAdjust="spacingAndGlyphs" >20</text>
<line x1="60.0" y1="855.8" x2="65.5" y2="855.8" stroke="#000" stroke-width="1.5"/>
<text x="47.67" y="859.6" font-size="10" font-weight="bold" fill="#000" textLength="11.35" lengthAdjust="spacingAndGlyphs" >10</text>
<line x1="60.0" y1="898.4" x2="65.5" y2="898.4" stroke="#000" stroke-width="1.5"/>
<text x="53.34" y="902.1" font-size="10" font-weight="bold" fill="#000" textLength="5.68" lengthAdjust="spacingAndGlyphs" >0</text>
<line x1="65.5" y1="898.6" x2="194.7" y2="898.6" stroke="#000" stroke-width="1.5"/>
<line x1="84.6" y1="898.4" x2="84.6" y2="902.4" stroke="#000" stroke-width="1.5"/>
<line x1="115.7" y1="898.4" x2="115.7" y2="902.4" stroke="#000" stroke-width="1.5"/>
<line x1="143.4" y1="898.4" x2="143.4" y2="902.4" stroke="#000" stroke-width="1.5"/>
<line x1="174.0" y1="898.4" x2="174.0" y2="902.4" stroke="#000" stroke-width="1.5"/>
<rect x="76.5" y="895.5" width="16.8" height="2.9" fill="#787878" stroke="#000" stroke-width="2"/>
<rect x="105.6" y="894.8" width="18.3" height="3.6" fill="#cfcfcf" stroke="#000" stroke-width="2"/>
<rect x="136.1" y="896.0" width="16.9" height="2.4" fill="#bdbdbd" stroke="#000" stroke-width="2"/>
<rect x="165.8" y="827.4" width="16.9" height="71.0" fill="#d4d4d4" stroke="#000" stroke-width="2"/>
<line x1="174.2" y1="815.3" x2="174.2" y2="835.5" stroke="#000" stroke-width="1.4"/>
<line x1="169.7" y1="815.3" x2="178.7" y2="815.3" stroke="#000" stroke-width="1.4"/>
<line x1="169.7" y1="835.5" x2="178.7" y2="835.5" stroke="#000" stroke-width="1.4"/>
<circle cx="78.0" cy="894.0" r="2.576" fill="#000"/>
<circle cx="82.0" cy="890.0" r="2.576" fill="#000"/>
<circle cx="86.0" cy="893.0" r="2.576" fill="#000"/>
<circle cx="90.0" cy="891.5" r="2.576" fill="#000"/>
<circle cx="93.0" cy="894.5" r="2.576" fill="#000"/>
<circle cx="84.0" cy="895.5" r="2.576" fill="#000"/>
<rect x="105.7" y="885.7" width="4.9" height="4.9" fill="#000"/>
<rect x="105.7" y="893.2" width="4.9" height="4.9" fill="#000"/>
<rect x="113.2" y="889.0" width="4.9" height="4.9" fill="#000"/>
<rect x="120.7" y="889.6" width="4.9" height="4.9" fill="#000"/>
<polygon points="137.0,891.9 139.6,896.6 134.4,896.6" fill="#000"/>
<polygon points="141.0,890.4 143.6,895.1 138.4,895.1" fill="#000"/>
<polygon points="145.0,891.4 147.6,896.1 142.4,896.1" fill="#000"/>
<polygon points="149.0,890.9 151.6,895.6 146.4,895.6" fill="#000"/>
<polygon points="152.5,892.4 155.1,897.1 149.9,897.1" fill="#000"/>
<polygon points="174.3,791.4 177.2,786.2 171.4,786.2" fill="#000"/>
<polygon points="174.6,807.5 177.5,802.3 171.7,802.3" fill="#000"/>
<polygon points="174.0,829.3 176.9,824.1 171.1,824.1" fill="#000"/>
<polygon points="175.3,837.6 178.2,832.4 172.4,832.4" fill="#000"/>
<polygon points="167.0,851.4 169.9,846.2 164.1,846.2" fill="#000"/>
<polygon points="180.9,851.4 183.8,846.2 178.0,846.2" fill="#000"/>
<polyline points="84.9,752.6 84.9,746.4 175.1,746.4 175.1,752.6" fill="none" stroke="#000" stroke-width="1.5"/>
<text x="111.20" y="741.0" font-size="8" font-weight="normal" fill="#222" textLength="36.61" lengthAdjust="spacingAndGlyphs" >P&lt;0.0001</text>
<polyline points="114.7,768.3 114.7,762.2 175.1,762.2 175.1,768.3" fill="none" stroke="#000" stroke-width="1.5"/>
<text x="126.32" y="757.0" font-size="8" font-weight="normal" fill="#222" textLength="35.89" lengthAdjust="spacingAndGlyphs" >P&lt;0.0001</text>
<polyline points="145.7,787.1 145.7,781.0 175.1,781.0 175.1,787.1" fill="none" stroke="#000" stroke-width="1.5"/>
<text x="142.02" y="775.3" font-size="8" font-weight="normal" fill="#222" textLength="35.58" lengthAdjust="spacingAndGlyphs" >P&lt;0.0001</text>
<text transform="translate(31.3,894.73) rotate(-90)" x="0" y="0" font-size="8.2" font-weight="bold" fill="#000" textLength="119.81" lengthAdjust="spacingAndGlyphs">Relative mRNA expression</text>
<text x="37.75" y="916.0" font-size="10.5" font-weight="normal" fill="#111" textLength="23.36" lengthAdjust="spacingAndGlyphs" >TAM</text>
<text x="85.5" y="915.2" font-size="10.0" text-anchor="middle" fill="#111">-</text>
<text x="117.8" y="915.2" font-size="10.0" text-anchor="middle" fill="#111">+</text>
<text x="148.4" y="915.2" font-size="10.0" text-anchor="middle" fill="#111">-</text>
<text x="178.2" y="915.2" font-size="10.0" text-anchor="middle" fill="#111">+</text>
<polyline points="69.4,915.3 69.4,920.9 122.1,920.9 122.1,915.3" fill="none" stroke="#000" stroke-width="1.5"/>
<polyline points="133.2,915.3 133.2,920.9 186.5,920.9 186.5,915.3" fill="none" stroke="#000" stroke-width="1.5"/>
<text x="83.36" y="932.6" font-size="10.5" font-weight="normal" fill="#111" textLength="31.00" lengthAdjust="spacingAndGlyphs" >&#945;MCM</text>
<text x="127.16" y="933.3" font-size="10.5" font-weight="normal" fill="#111" textLength="53.42" lengthAdjust="spacingAndGlyphs" >&#945;MCM-Pon</text>
<text x="180.78" y="930.6" font-size="7.5" font-weight="normal" fill="#111" textLength="21.84" lengthAdjust="spacingAndGlyphs" >floxed</text>
<text x="501.14" y="737.9" font-size="11.7" font-weight="bold" fill="#000" textLength="6.90" lengthAdjust="spacingAndGlyphs" >L</text>
<text x="566.68" y="749.4" font-size="10" font-weight="bold" fill="#000" textLength="71.08" lengthAdjust="spacingAndGlyphs" >TUNEL Assay</text>
<line x1="537.3" y1="760.6" x2="537.3" y2="902.0" stroke="#000" stroke-width="1.5"/>
<line x1="531.8" y1="761.4" x2="537.3" y2="761.4" stroke="#000" stroke-width="1.5"/>
<text x="509.09" y="765.4" font-size="10.7" font-weight="bold" fill="#000" textLength="21.33" lengthAdjust="spacingAndGlyphs" >100</text>
<line x1="531.8" y1="789.4" x2="537.3" y2="789.4" stroke="#000" stroke-width="1.5"/>
<text x="516.20" y="793.4" font-size="10.7" font-weight="bold" fill="#000" textLength="14.22" lengthAdjust="spacingAndGlyphs" >80</text>
<line x1="531.8" y1="817.4" x2="537.3" y2="817.4" stroke="#000" stroke-width="1.5"/>
<text x="516.20" y="821.3" font-size="10.7" font-weight="bold" fill="#000" textLength="14.22" lengthAdjust="spacingAndGlyphs" >60</text>
<line x1="531.8" y1="845.3" x2="537.3" y2="845.3" stroke="#000" stroke-width="1.5"/>
<text x="516.20" y="849.3" font-size="10.7" font-weight="bold" fill="#000" textLength="14.22" lengthAdjust="spacingAndGlyphs" >40</text>
<line x1="531.8" y1="873.3" x2="537.3" y2="873.3" stroke="#000" stroke-width="1.5"/>
<text x="516.20" y="877.3" font-size="10.7" font-weight="bold" fill="#000" textLength="14.22" lengthAdjust="spacingAndGlyphs" >20</text>
<line x1="531.8" y1="901.3" x2="537.3" y2="901.3" stroke="#000" stroke-width="1.5"/>
<text x="523.31" y="905.3" font-size="10.7" font-weight="bold" fill="#000" textLength="7.11" lengthAdjust="spacingAndGlyphs" >0</text>
<line x1="537.3" y1="901.3" x2="674.5" y2="901.3" stroke="#000" stroke-width="1.5"/>
<line x1="558.5" y1="901.3" x2="558.5" y2="905.3" stroke="#000" stroke-width="1.5"/>
<line x1="590.0" y1="901.3" x2="590.0" y2="905.3" stroke="#000" stroke-width="1.5"/>
<line x1="621.6" y1="901.3" x2="621.6" y2="905.3" stroke="#000" stroke-width="1.5"/>
<line x1="652.9" y1="901.3" x2="652.9" y2="905.3" stroke="#000" stroke-width="1.5"/>
<rect x="549.4" y="887.3" width="18.5" height="14.0" fill="#828282" stroke="#000" stroke-width="2"/>
<rect x="580.7" y="885.3" width="18.5" height="16.0" fill="#cfcfcf" stroke="#000" stroke-width="2"/>
<rect x="612.8" y="888.5" width="17.7" height="12.8" fill="#a8a8a8" stroke="#000" stroke-width="2"/>
<rect x="643.9" y="837.2" width="17.9" height="64.1" fill="#d4d4d4" stroke="#000" stroke-width="2"/>
<line x1="652.6" y1="821.6" x2="652.6" y2="849.3" stroke="#000" stroke-width="1.4"/>
<line x1="647.3" y1="821.6" x2="657.9" y2="821.6" stroke="#000" stroke-width="1.4"/>
<line x1="647.3" y1="849.3" x2="657.9" y2="849.3" stroke="#000" stroke-width="1.4"/>
<line x1="558.5" y1="884.0" x2="558.5" y2="888.0" stroke="#000" stroke-width="1.4"/>
<line x1="554.0" y1="884.0" x2="563.0" y2="884.0" stroke="#000" stroke-width="1.4"/>
<line x1="554.0" y1="888.0" x2="563.0" y2="888.0" stroke="#000" stroke-width="1.4"/>
<line x1="590.0" y1="880.0" x2="590.0" y2="887.0" stroke="#000" stroke-width="1.4"/>
<line x1="585.5" y1="880.0" x2="594.5" y2="880.0" stroke="#000" stroke-width="1.4"/>
<line x1="585.5" y1="887.0" x2="594.5" y2="887.0" stroke="#000" stroke-width="1.4"/>
<circle cx="552.0" cy="887.0" r="2.576" fill="#000"/>
<circle cx="556.0" cy="886.5" r="2.576" fill="#000"/>
<circle cx="562.6" cy="881.2" r="2.576" fill="#000"/>
<circle cx="560.0" cy="887.5" r="2.576" fill="#000"/>
<circle cx="565.0" cy="887.0" r="2.576" fill="#000"/>
<rect x="579.2" y="875.3" width="4.9" height="4.9" fill="#000"/>
<rect x="587.1" y="877.3" width="4.9" height="4.9" fill="#000"/>
<rect x="594.2" y="882.4" width="4.9" height="4.9" fill="#000"/>
<rect x="580.6" y="885.8" width="4.9" height="4.9" fill="#000"/>
<rect x="587.1" y="885.8" width="4.9" height="4.9" fill="#000"/>
<polygon points="613.3,880.4 616.1,885.4 610.5,885.4" fill="#000"/>
<polygon points="619.5,882.7 622.3,887.7 616.7,887.7" fill="#000"/>
<polygon points="626.6,884.7 629.4,889.7 623.8,889.7" fill="#000"/>
<polygon points="616.0,884.7 618.8,889.7 613.2,889.7" fill="#000"/>
<polygon points="652.6,785.1 655.5,779.9 649.7,779.9" fill="#000"/>
<polygon points="652.6,802.1 655.5,796.9 649.7,796.9" fill="#000"/>
<polygon points="652.6,813.1 655.5,807.9 649.7,807.9" fill="#000"/>
<polygon points="652.3,858.5 655.2,853.3 649.4,853.3" fill="#000"/>
<polygon points="653.7,864.2 656.6,859.0 650.8,859.0" fill="#000"/>
<polygon points="645.1,873.6 648.0,868.4 642.2,868.4" fill="#000"/>
<polygon points="660.2,871.3 663.1,866.1 657.3,866.1" fill="#000"/>
<polyline points="594.8,771.3 594.8,765.0 653.8,765.0 653.8,771.3" fill="none" stroke="#000" stroke-width="1.5"/>
<text x="608.05" y="762.6" font-size="8" font-weight="normal" fill="#222" textLength="34.44" lengthAdjust="spacingAndGlyphs" >P=0.045</text>
<polyline points="623.3,783.0 623.3,777.8 653.1,777.8 653.1,783.0" fill="none" stroke="#000" stroke-width="1.5"/>
<text x="620.66" y="775.7" font-size="8" font-weight="normal" fill="#222" textLength="34.07" lengthAdjust="spacingAndGlyphs" >P=0.029</text>
<text transform="translate(500.4,893.5) rotate(-90)" x="0" y="0" font-size="11" font-weight="bold" fill="#000" textLength="127.7" lengthAdjust="spacingAndGlyphs">TUNEL +ve cells/10<tspan dy="-4.5" font-size="7.8">4</tspan><tspan dy="4.5"> cells</tspan></text>
<text x="506.22" y="916.8" font-size="10.5" font-weight="normal" fill="#111" textLength="26.09" lengthAdjust="spacingAndGlyphs" >TAM</text>
<text x="559.0" y="916.0" font-size="10.0" text-anchor="middle" fill="#111">-</text>
<text x="591.5" y="916.0" font-size="10.0" text-anchor="middle" fill="#111">+</text>
<text x="622.5" y="916.0" font-size="10.0" text-anchor="middle" fill="#111">-</text>
<text x="656.0" y="916.0" font-size="10.0" text-anchor="middle" fill="#111">+</text>
<polyline points="539.8,916.3 539.8,921.9 596.7,921.9 596.7,916.3" fill="none" stroke="#000" stroke-width="1.5"/>
<polyline points="609.0,916.3 609.0,921.9 666.5,921.9 666.5,916.3" fill="none" stroke="#000" stroke-width="1.5"/>
<text x="554.41" y="932.4" font-size="10.5" font-weight="normal" fill="#111" textLength="34.75" lengthAdjust="spacingAndGlyphs" >&#945;MCM</text>
<text x="602.85" y="934.0" font-size="10.5" font-weight="normal" fill="#111" textLength="53.83" lengthAdjust="spacingAndGlyphs" >&#945;MCM-Pon</text>
<text x="656.85" y="929.0" font-size="7.5" font-weight="normal" fill="#111" textLength="16.87" lengthAdjust="spacingAndGlyphs" >flox</text>
<defs>
<filter id="nz1" x="0" y="0" width="100%" height="100%"><feTurbulence type="fractalNoise" baseFrequency="0.9" numOctaves="2" seed="4"/><feColorMatrix type="matrix" values="0 0 0 0 0  0 0 0 0 0  0 0 0 0 0  0 0 0 -2.2 1.25"/></filter>
<filter id="nzw" x="0" y="0" width="100%" height="100%"><feTurbulence type="fractalNoise" baseFrequency="0.7" numOctaves="2" seed="9"/><feColorMatrix type="matrix" values="0 0 0 0 1  0 0 0 0 1  0 0 0 0 1  0 0 0 3.2 -1.75"/></filter>
<filter id="nzb" x="0" y="0" width="100%" height="100%"><feTurbulence type="fractalNoise" baseFrequency="0.75" numOctaves="2" seed="7"/><feColorMatrix type="matrix" values="0 0 0 0 0.22  0 0 0 0 0.06  0 0 0 0 0.85  0 0 0 4 -1.9"/></filter>
<filter id="nzr" x="0" y="0" width="100%" height="100%"><feTurbulence type="fractalNoise" baseFrequency="0.5" numOctaves="2" seed="11"/><feColorMatrix type="matrix" values="0 0 0 0 1  0 0 0 0 0.1  0 0 0 0 0.2  0 0 0 3 -1.6"/></filter>
<filter id="nzB" x="0" y="0" width="100%" height="100%"><feTurbulence type="fractalNoise" baseFrequency="0.06" numOctaves="2" seed="2"/><feColorMatrix type="matrix" values="0 0 0 0 0.45  0 0 0 0 0.45  0 0 0 0 0.85  0 0 0 3 -1.5"/></filter>
<filter id="nzR" x="0" y="0" width="100%" height="100%"><feTurbulence type="fractalNoise" baseFrequency="0.09" numOctaves="3" seed="5"/><feColorMatrix type="matrix" values="0 0 0 0 0.85  0 0 0 0 0.02  0 0 0 0 0.1  0 0 0 2.6 -1.15"/></filter>
<filter id="nzD" x="0" y="0" width="100%" height="100%"><feTurbulence type="fractalNoise" baseFrequency="0.07" numOctaves="3" seed="8"/><feColorMatrix type="matrix" values="0 0 0 0 0.1  0 0 0 0 0  0 0 0 0 0.05  0 0 0 2.6 -1.2"/></filter>
</defs>
<text x="222.80" y="290.0" font-size="11.7" font-weight="bold" fill="#000" textLength="7.97" lengthAdjust="spacingAndGlyphs" >E</text>
<text x="276.87" y="318.0" font-size="10.5" font-weight="normal" fill="#222" textLength="30.37" lengthAdjust="spacingAndGlyphs" >&#945;MCM</text>
<text x="388.62" y="317.6" font-size="10.5" font-weight="normal" fill="#222" textLength="46.48" lengthAdjust="spacingAndGlyphs" >&#945;MCM-Pon</text>
<text x="434.89" y="313.5" font-size="6.5" font-weight="normal" fill="#222" textLength="12.50" lengthAdjust="spacingAndGlyphs" >flox</text>
<text transform="translate(229.8,370.54) rotate(-90)" x="0" y="0" font-size="10.5" font-weight="normal" fill="#222" textLength="30.45" lengthAdjust="spacingAndGlyphs">Vehicle</text>
<text transform="translate(229.2,442.82) rotate(-90)" x="0" y="0" font-size="10.5" font-weight="normal" fill="#222" textLength="44.84" lengthAdjust="spacingAndGlyphs">Tamoxifen</text>
<defs><filter id="soft" x="-2%" y="-2%" width="104%" height="104%"><feGaussianBlur stdDeviation="0.5"/></filter></defs>
<clipPath id="c1"><rect x="235.3" y="321.6" width="116.2" height="59.8"/></clipPath>
<g clip-path="url(#c1)"><rect x="235.3" y="321.6" width="116.2" height="59.8" fill="#f3b4ca"/>
<g filter="url(#soft)">
<path fill="#f7305f" d="M241.2 318.6 233.3 318.6 233.2 318.6 233.1 318.6 233.0 318.6 232.9 318.7 232.8 318.7 232.7 318.8 232.7 318.8 232.6 318.9 232.5 319.0 233.1 322.7 235.4 323.3 241.1 320.4ZM266.1 322.7 266.2 318.6 260.0 318.6 261.0 322.6 262.0 323.0ZM269.0 323.7 273.5 322.6 275.1 318.6 266.9 318.6 266.8 322.8ZM337.9 323.0 342.8 320.4 342.1 318.6 336.0 318.6ZM241.8 332.1 245.3 327.6 246.2 324.7 241.4 321.0 235.8 323.8 237.5 331.2 241.4 332.2ZM250.2 324.1 246.8 324.9 246.0 327.7 251.4 333.4 252.9 333.1 255.1 332.0 254.4 326.3ZM329.0 325.5 327.4 331.4 333.5 333.4 337.8 325.6 337.4 324.2ZM303.5 331.2 301.3 332.3 305.1 341.2 305.3 341.3 306.7 331.6ZM324.9 334.7 324.8 335.7 331.6 340.5 335.1 340.0 336.0 339.1 336.0 337.1 333.5 334.1 327.0 331.9 326.7 332.1ZM345.7 338.7 347.6 336.0 347.1 331.3 343.1 331.1 340.4 334.5ZM307.4 331.6 305.9 341.5 307.4 342.7 311.8 341.6 312.7 337.1 312.5 336.0 308.2 331.5ZM334.9 340.7 331.6 341.1 328.4 344.5 334.3 345.7ZM272.6 348.5 272.4 347.8 269.4 344.6 265.5 344.8 265.7 350.7 267.4 353.3ZM296.6 345.1 291.8 348.2 291.6 352.1 294.1 355.9 301.6 350.9ZM305.3 351.3 311.0 354.2 315.5 349.2 315.7 345.8 312.0 342.2 307.6 343.4ZM325.7 345.8 322.4 342.7 316.4 345.9 316.2 349.2 323.7 352.5 326.5 351.5ZM354.5 353.6 354.5 346.0 353.7 346.6 353.7 353.7ZM317.6 360.2 319.5 360.3 323.2 353.0 315.9 349.8 311.5 354.7 311.6 355.2ZM330.4 353.4 332.2 358.8 334.9 360.9 339.0 360.4 339.5 359.9 341.1 350.5 335.5 349.6ZM341.8 350.4 340.2 359.7 348.7 359.4 349.6 356.8 342.3 350.1ZM350.3 356.9 349.3 359.7 351.9 364.8 352.5 365.1 354.5 362.2 354.5 355.3 353.4 354.3 353.4 354.3ZM306.6 363.1 300.9 362.0 300.1 362.3 301.4 369.0 303.2 370.8 308.2 367.7 308.4 367.4ZM233.7 372.9 234.0 373.6 241.2 372.9 242.4 372.2 243.9 369.1 235.0 362.8 234.7 363.0ZM286.1 373.9 291.5 369.0 291.5 369.0 280.9 368.0 280.9 369.5ZM333.7 366.4 331.4 370.5 331.4 370.5 338.0 372.4 339.6 370.0ZM344.5 369.1 343.0 368.5 340.3 370.2 338.5 372.8 340.8 377.9 345.0 372.5ZM354.5 367.2 353.7 375.1 354.5 375.4 354.5 367.2ZM241.0 373.6 233.9 374.2 232.3 376.2 232.3 381.1 234.6 384.0 235.3 384.2 240.6 384.4 241.0 384.1ZM302.5 384.4 302.9 384.4 305.8 380.0 306.0 379.4 302.6 373.8 299.8 374.8 297.0 379.1 300.7 383.6ZM314.8 383.4 315.1 376.2 312.9 375.9 306.6 379.6 306.5 380.0 314.1 383.9ZM317.9 384.4 321.8 384.4 323.3 382.2 323.3 378.2 318.7 375.0 315.8 376.2 315.4 383.4ZM340.4 378.6 337.9 373.1 331.4 371.2 330.1 375.3 335.8 381.4 340.2 379.8ZM232.3 382.2 232.3 383.4 232.3 383.5 232.3 383.6 232.3 383.7 232.4 383.8 232.4 383.9 232.5 384.0 232.5 384.0 232.6 384.1 232.7 384.2 232.7 384.2 232.8 384.3 232.9 384.3 233.0 384.4 233.1 384.4 233.2 384.4 233.3 384.4 234.0 384.4 234.0 384.3ZM256.2 384.4 263.2 384.4 264.8 381.5 257.5 382.0ZM274.8 381.6 268.2 383.0 268.2 383.1 269.1 384.4 276.2 384.4ZM313.6 384.4 306.2 380.6 303.7 384.4 313.6 384.4Z"/><path fill="#f5265a" d="M241.8 320.4 246.7 324.2 249.9 323.4 251.2 318.6 241.9 318.6ZM259.3 318.6 251.9 318.6 250.6 323.5 254.7 325.7 260.4 322.7ZM283.7 318.6 275.8 318.6 274.1 322.8 276.7 326.0 284.2 326.0 285.2 321.8ZM306.0 320.0 306.9 318.6 301.4 318.6 302.8 320.7ZM315.0 324.6 314.2 318.6 307.7 318.6 306.6 320.3 311.7 326.0ZM235.2 323.9 232.8 323.3 232.3 323.5 232.3 333.7 232.9 334.2 236.9 331.4ZM301.4 323.6 294.5 324.2 293.5 329.5 300.1 332.1 300.8 331.8 303.0 330.7ZM317.3 325.1 316.3 325.2 318.6 332.8 324.4 334.2 326.0 332.0ZM326.7 331.4 328.4 325.2 325.4 320.3 318.0 324.8 326.5 331.5ZM338.4 325.5 343.1 330.5 347.3 330.7 347.8 330.2 349.0 322.7 347.1 320.9 343.2 320.9 338.0 323.7 337.9 323.9ZM276.4 328.4 273.5 332.0 277.7 338.2 279.5 338.5 280.4 337.9 280.6 336.8ZM315.6 325.2 315.3 325.1 311.9 326.7 308.7 331.1 312.9 335.5 318.0 332.9ZM318.4 333.4 313.2 336.0 313.3 336.8 322.6 339.1 324.1 335.7 324.2 334.9ZM238.3 343.8 232.3 337.3 232.3 337.4 232.3 346.3 239.3 346.4 239.4 346.2ZM245.9 343.5 249.8 343.7 249.9 335.2 245.4 335.8ZM261.5 337.8 261.0 341.3 265.2 344.2 269.4 344.0 272.1 339.3 266.9 334.7ZM354.2 345.4 352.3 338.8 348.0 336.6 346.0 339.3 344.4 343.4 345.2 345.3 353.3 346.1ZM239.2 347.5 239.2 347.1 232.3 346.9 232.3 354.1ZM251.4 353.2 252.1 354.5 258.1 354.5 258.7 351.0 256.2 344.8 253.2 345.2 252.7 345.3ZM284.4 353.2 290.9 351.9 291.2 348.2 288.0 346.3 281.5 349.7 281.1 350.7ZM297.1 344.6 302.3 350.7 304.5 351.2 304.7 351.1 307.0 343.2 305.4 342.0 304.9 341.9 297.5 342.1ZM241.4 356.6 241.7 353.3 239.4 348.2 232.6 354.7 236.1 359.5ZM265.2 351.1 259.4 351.3 258.7 354.7 260.8 357.3 266.4 357.6 266.9 357.0 267.0 353.9ZM267.6 356.7 272.5 356.7 276.4 355.7 277.8 352.1 273.0 349.0 267.6 353.9ZM293.4 360.4 293.6 356.5 291.1 352.6 284.7 353.8 285.5 359.6ZM306.7 362.4 311.0 355.3 310.8 354.8 304.9 351.8 304.7 351.8 301.3 361.4ZM326.9 352.1 323.9 353.1 320.1 360.5 323.1 362.9 331.5 358.8 329.7 353.5ZM232.3 363.1 232.3 371.5 233.1 372.3 234.0 363.1ZM291.5 368.3 293.3 361.1 285.3 360.3 280.7 363.5 280.0 366.0 280.8 367.3ZM342.6 368.0 338.9 361.0 335.1 361.6 333.9 365.7 340.1 369.5ZM232.3 372.4 232.3 375.2 233.4 373.8 233.1 373.2ZM254.2 377.6 247.7 367.6 246.9 367.3 244.6 369.2 243.1 372.3 249.2 378.1 254.2 377.6ZM300.9 369.5 292.7 369.8 292.9 370.5 299.6 374.2 302.4 373.1 302.8 371.4ZM249.3 378.8 247.2 384.4 255.5 384.4 256.9 381.7 254.3 378.2ZM286.1 378.2 285.8 374.5 280.7 370.2 279.1 374.9ZM323.8 382.8 322.6 384.4 327.2 384.4ZM336.0 382.0 335.1 383.7 335.4 384.4 343.7 384.4 343.1 382.0 340.5 380.4Z"/><path fill="#ee2254" d="M293.5 318.6 284.5 318.6 285.7 321.4 292.9 321.1ZM315.6 324.5 315.9 324.6 317.3 324.5 325.1 319.7 325.2 318.6 314.8 318.6ZM325.8 319.8 328.9 324.8 337.4 323.5 337.4 323.5 335.3 318.6 325.9 318.6ZM346.9 320.2 347.2 318.6 342.8 318.6 343.4 320.2ZM267.2 333.0 267.4 332.8 268.6 324.3 266.4 323.4 262.3 323.6 262.6 327.8ZM268.1 332.6 272.9 331.7 276.1 327.7 276.2 326.5 273.6 323.3 269.3 324.4ZM292.8 329.5 293.9 323.9 292.9 321.8 285.8 322.1 284.8 326.2 286.6 329.1 291.5 330.1ZM348.5 330.1 354.1 331.0 354.5 330.0 354.5 322.2 349.6 322.8ZM237.3 331.9 233.1 334.8 232.7 336.8 238.4 342.9 241.0 332.8ZM245.2 335.1 250.0 334.5 250.9 333.8 245.6 328.3 242.4 332.4ZM252.8 344.6 252.7 333.8 251.5 334.1 250.5 335.0 250.4 343.9 252.5 344.6ZM258.7 334.1 261.3 337.2 266.7 334.1 266.8 333.6 262.3 328.5ZM267.5 333.7 267.3 334.2 272.7 338.9 277.0 338.3 272.9 332.4 267.9 333.3ZM281.1 337.9 286.6 339.8 290.4 338.0 291.1 330.7 286.6 329.8 281.3 336.9ZM296.9 341.1 299.7 332.6 293.1 330.1 291.8 330.7 291.1 338.1ZM347.7 331.2 348.2 335.9 352.5 338.2 354.5 336.0 354.5 331.9 354.2 331.6 348.2 330.7ZM238.9 343.6 239.9 345.8 245.2 343.6 244.7 335.6 241.8 332.8 241.7 332.8ZM255.4 332.6 253.3 333.6 253.5 344.5 256.3 344.1 260.3 341.3 260.9 337.7 258.1 334.4ZM316.1 345.3 322.2 342.1 322.4 339.7 313.3 337.5 312.5 341.8ZM336.7 337.1 336.7 339.0 343.9 343.0 345.3 339.2 339.9 335.0ZM353.0 338.7 354.5 344.2 354.5 337.0ZM240.0 346.5 239.8 346.8 239.8 347.6 242.2 352.9 250.7 352.9 252.1 345.2 250.0 344.4 245.6 344.1ZM278.3 351.6 280.5 350.6 280.9 349.4 279.1 341.5 273.0 347.8 273.2 348.4ZM334.3 346.4 327.8 345.1 326.4 345.8 327.2 351.5 329.9 352.9 335.0 349.1ZM341.4 349.9 342.1 349.5 344.6 345.6 343.8 343.7 336.4 339.6 335.5 340.5 335.0 346.1 335.7 349.0ZM345.1 346.0 342.7 349.7 350.0 356.3 353.0 353.7 353.1 346.7ZM257.5 361.2 260.2 357.6 258.2 355.2 252.2 355.2 251.5 358.4ZM280.6 362.8 284.9 359.8 284.0 353.7 280.7 351.2 278.5 352.2 277.0 355.9ZM267.5 366.8 266.2 358.3 260.7 358.0 258.0 361.8 257.8 366.9ZM274.3 365.9 272.3 357.4 267.4 357.4 266.9 358.0 268.2 367.0 268.4 367.2ZM299.4 362.4 293.9 361.2 292.1 368.6 292.2 369.0 292.4 369.2 300.7 368.9ZM334.4 361.4 331.8 359.4 323.4 363.5 323.9 366.6 330.9 370.0 333.3 365.8ZM343.3 367.9 344.7 368.5 351.2 364.9 348.8 360.0 340.0 360.4 339.5 360.7ZM257.3 372.3 256.9 367.7 248.5 367.6 254.6 376.9ZM257.9 372.2 265.1 375.7 268.0 369.6 268.0 367.7 267.8 367.4 257.6 367.5ZM303.5 371.4 303.1 373.3 306.5 378.9 312.4 375.5 308.4 368.4ZM308.8 367.9 313.1 375.3 315.4 375.6 318.5 374.4 318.8 372.5 314.1 366.4 309.0 367.6ZM323.7 377.6 329.5 375.2 330.8 370.8 330.8 370.7 323.7 367.2 319.4 372.5 319.1 374.4ZM246.6 384.2 248.7 378.5 242.6 372.8 241.7 373.4 241.7 383.9ZM257.4 381.3 265.0 380.9 265.0 376.3 257.7 372.9 254.9 377.6 254.8 377.8ZM328.8 384.4 332.6 384.4 334.5 383.4 335.3 381.8 329.7 375.8 324.0 378.2 324.0 382.1ZM350.8 379.7 353.4 384.4 353.5 384.4 353.6 384.4 353.7 384.4 353.8 384.4 353.9 384.3 354.0 384.3 354.1 384.2 354.1 384.2 354.2 384.1 354.3 384.0 354.3 384.0 354.4 383.9 354.4 383.8 354.5 383.7 354.5 383.6 354.5 383.5 354.5 383.4 354.5 376.1 353.4 375.7 352.6 376.3ZM267.5 382.9 265.5 381.7 263.9 384.4 267.3 384.4 267.5 383.2ZM287.5 382.8 275.6 380.9 275.4 381.2 276.9 384.4 287.6 384.4ZM299.9 383.7 296.4 379.4 292.1 378.5 288.5 381.3 288.1 382.5 288.3 384.4 297.7 384.4ZM268.0 384.0 268.0 384.4 268.3 384.4Z"/><path fill="#f22a5c" d="M300.6 318.6 294.2 318.6 293.5 321.4 294.5 323.5 301.4 322.9 302.3 321.1ZM349.4 322.2 354.5 321.5 354.5 319.6 354.5 319.5 354.5 319.4 354.5 319.3 354.4 319.2 354.4 319.1 354.3 319.0 354.3 319.0 354.2 318.9 354.1 318.8 354.1 318.8 354.0 318.7 353.9 318.7 353.8 318.6 353.7 318.6 353.6 318.6 353.5 318.6 347.9 318.6 347.5 320.5ZM261.7 323.5 260.8 323.2 255.1 326.2 255.8 332.0 258.2 333.7 262.0 327.9ZM286.0 329.4 284.3 326.6 276.8 326.7 276.7 327.7 281.0 336.1ZM311.2 326.5 306.1 320.7 302.9 321.4 302.0 323.3 303.7 330.5 307.1 331.0 308.1 330.8ZM336.4 336.5 339.7 334.3 342.6 330.8 338.2 326.2 334.1 333.8ZM279.0 340.7 279.2 339.1 277.5 338.9 272.7 339.6 270.0 344.3 272.7 347.2ZM279.9 339.1 279.7 340.8 281.5 348.9 287.6 345.8 286.3 340.4 280.8 338.4ZM288.3 345.7 291.5 347.7 296.4 344.5 296.9 341.8 290.7 338.6 287.0 340.4ZM304.4 341.2 300.7 332.6 300.3 332.7 297.5 341.4ZM327.6 344.5 331.0 340.9 324.6 336.3 323.1 339.6 322.8 342.1 326.1 345.3ZM265.0 350.5 264.8 344.7 260.6 341.9 256.8 344.6 259.3 350.6ZM234.8 362.2 235.6 360.0 232.3 355.4 232.3 362.4 234.3 362.4ZM251.6 354.9 250.8 353.6 242.3 353.6 242.0 356.7 246.8 362.5 250.8 358.5ZM299.7 361.7 300.6 361.4 304.1 351.7 302.2 351.3 294.3 356.6 294.0 360.6ZM244.3 368.6 246.4 366.8 246.5 363.1 241.6 357.2 236.3 360.2 235.4 362.3ZM257.3 361.9 251.2 359.0 247.1 363.1 247.1 366.7 248.0 366.9 257.1 367.1 257.1 367.1ZM279.4 365.7 280.1 363.3 276.4 356.3 273.0 357.3 275.0 365.8ZM314.0 365.7 317.0 360.6 311.4 355.9 307.2 362.8 308.9 367.0ZM319.1 371.9 323.2 366.7 322.7 363.5 319.6 360.9 317.7 360.9 314.6 366.0ZM353.0 365.4 354.3 366.6 354.5 366.6 354.5 363.3ZM276.4 376.8 278.4 374.9 280.2 369.6 280.3 367.7 279.4 366.3 274.8 366.5 268.7 367.8 268.6 369.5ZM286.8 378.6 288.2 380.6 291.7 378.0 292.3 370.8 291.9 369.7 291.9 369.6 286.5 374.5ZM353.1 375.1 353.8 367.0 352.4 365.8 351.7 365.4 345.1 369.1 345.7 372.4 352.3 375.6ZM267.9 382.4 274.8 380.9 275.2 380.4 276.1 377.4 268.4 370.2 265.6 376.2 265.7 381.0ZM276.7 377.4 275.9 380.3 287.5 382.1 287.8 381.1 286.3 379.0 278.8 375.5ZM299.1 374.7 292.9 371.3 292.4 377.9 296.4 378.7ZM345.5 373.0 341.0 378.7 340.9 379.9 343.5 381.5 350.2 379.5 351.9 376.2ZM350.2 380.1 343.8 382.1 344.4 384.4 352.7 384.4Z"/><g fill="#5a2870"><circle cx="249.9" cy="323.4" r="0.85"/><circle cx="285.2" cy="321.8" r="0.85"/><circle cx="337.4" cy="323.5" r="0.85"/><circle cx="236.9" cy="331.4" r="0.85"/><circle cx="246.0" cy="327.7" r="0.85"/><circle cx="261.7" cy="323.5" r="0.85"/><circle cx="262.3" cy="323.6" r="0.85"/><circle cx="269.3" cy="324.4" r="0.85"/><circle cx="281.0" cy="336.1" r="0.85"/><circle cx="303.0" cy="330.7" r="0.85"/><circle cx="329.0" cy="325.5" r="0.85"/><circle cx="338.4" cy="325.5" r="0.85"/><circle cx="250.0" cy="334.5" r="0.85"/><circle cx="252.7" cy="333.8" r="0.85"/><circle cx="266.7" cy="334.1" r="0.85"/><circle cx="267.9" cy="333.3" r="0.85"/><circle cx="276.4" cy="328.4" r="0.85"/><circle cx="281.3" cy="336.9" r="0.85"/><circle cx="293.1" cy="330.1" r="0.85"/><circle cx="324.9" cy="334.7" r="0.85"/><circle cx="343.1" cy="331.1" r="0.85"/><circle cx="258.1" cy="334.4" r="0.85"/><circle cx="261.5" cy="337.8" r="0.85"/><circle cx="277.5" cy="338.9" r="0.85"/><circle cx="279.9" cy="339.1" r="0.85"/><circle cx="287.0" cy="340.4" r="0.85"/><circle cx="328.4" cy="344.5" r="0.85"/><circle cx="336.7" cy="339.0" r="0.85"/><circle cx="239.8" cy="346.8" r="0.85"/><circle cx="252.7" cy="345.3" r="0.85"/><circle cx="281.1" cy="350.7" r="0.85"/><circle cx="304.5" cy="351.2" r="0.85"/><circle cx="305.3" cy="351.3" r="0.85"/><circle cx="325.7" cy="345.8" r="0.85"/><circle cx="234.3" cy="362.4" r="0.85"/><circle cx="242.0" cy="356.7" r="0.85"/><circle cx="251.5" cy="358.4" r="0.85"/><circle cx="277.8" cy="352.1" r="0.85"/><circle cx="278.5" cy="352.2" r="0.85"/><circle cx="284.7" cy="353.8" r="0.85"/><circle cx="311.0" cy="355.3" r="0.85"/><circle cx="311.6" cy="355.2" r="0.85"/><circle cx="323.1" cy="362.9" r="0.85"/><circle cx="352.5" cy="365.1" r="0.85"/><circle cx="234.0" cy="363.1" r="0.85"/><circle cx="241.6" cy="357.2" r="0.85"/><circle cx="267.5" cy="366.8" r="0.85"/><circle cx="279.4" cy="365.7" r="0.85"/><circle cx="291.5" cy="368.3" r="0.85"/><circle cx="292.4" cy="369.2" r="0.85"/><circle cx="306.6" cy="363.1" r="0.85"/><circle cx="307.2" cy="362.8" r="0.85"/><circle cx="323.2" cy="366.7" r="0.85"/><circle cx="334.4" cy="361.4" r="0.85"/><circle cx="335.1" cy="361.6" r="0.85"/><circle cx="244.6" cy="369.2" r="0.85"/><circle cx="248.5" cy="367.6" r="0.85"/><circle cx="265.1" cy="375.7" r="0.85"/><circle cx="291.5" cy="369.0" r="0.85"/><circle cx="291.7" cy="378.0" r="0.85"/><circle cx="300.9" cy="369.5" r="0.85"/><circle cx="323.7" cy="377.6" r="0.85"/><circle cx="339.6" cy="370.0" r="0.85"/><circle cx="343.0" cy="368.5" r="0.85"/><circle cx="254.8" cy="377.8" r="0.85"/><circle cx="287.8" cy="381.1" r="0.85"/><circle cx="285.8" cy="374.5" r="0.85"/><circle cx="306.5" cy="380.0" r="0.85"/><circle cx="323.3" cy="382.2" r="0.85"/><circle cx="337.9" cy="373.1" r="0.85"/><circle cx="275.4" cy="381.2" r="0.85"/><circle cx="336.0" cy="382.0" r="0.85"/><circle cx="350.2" cy="380.1" r="0.85"/></g>
<path d="M236.0 322.2 C245.0 322.2 270.8 322.3 290.0 322.4 C309.2 322.5 340.8 322.6 351.0 322.6" fill="none" stroke="#f7e0e8" stroke-width="1.6" stroke-linecap="round" opacity="1"/>
<path d="M236.0 323.5 L236.3 324.0 L236.7 324.3 L237.2 324.7 L237.7 325.0 L238.4 325.4 L239.0 325.7 L239.8 325.9 L240.5 326.1 L241.3 326.2 L242.0 326.2 L242.8 326.2 L243.7 326.1 L244.5 325.8 L245.3 325.5 L246.0 325.2 L246.7 324.8 L247.2 324.4 L247.7 324.0 L248.0 323.5 L248.0 323.5 L247.5 323.1 L246.9 323.0 L246.2 322.8 L245.5 322.8 L244.7 322.7 L244.0 322.7 L243.2 322.7 L242.6 322.7 L242.0 322.8 L241.5 322.7 L240.9 322.7 L240.3 322.7 L239.6 322.7 L238.9 322.8 L238.2 322.8 L237.6 322.9 L237.0 323.0 L236.4 323.2 L236.0 323.5Z" fill="#fbeef3" opacity="1"/>
<path d="M343.0 322.0 L343.1 322.5 L343.4 323.0 L343.7 323.5 L344.2 323.9 L344.6 324.4 L345.1 324.8 L345.7 325.2 L346.2 325.5 L346.7 325.8 L347.2 326.0 L347.7 326.3 L348.2 326.5 L348.8 326.7 L349.3 326.9 L349.9 327.0 L350.5 327.1 L351.0 327.2 L351.5 327.2 L352.0 327.0 L352.0 327.0 L352.0 326.5 L351.8 326.0 L351.5 325.6 L351.2 325.1 L350.8 324.6 L350.4 324.2 L349.9 323.7 L349.4 323.3 L348.8 323.0 L348.3 322.7 L347.8 322.4 L347.2 322.2 L346.5 322.0 L345.9 321.8 L345.2 321.7 L344.6 321.7 L344.0 321.7 L343.5 321.7 L343.0 322.0Z" fill="#fbeef3" opacity="1"/>
<path d="M250.3 321.0 L249.8 321.7 L249.7 322.6 L249.5 323.7 L249.4 324.9 L249.2 326.2 L249.1 327.5 L249.0 328.9 L248.8 330.3 L248.6 331.7 L248.5 333.0 L248.3 334.3 L248.1 335.6 L247.9 336.9 L247.7 338.2 L247.5 339.6 L247.3 340.9 L247.0 342.3 L246.8 343.6 L246.5 344.8 L246.2 346.1 L245.9 347.2 L245.6 348.4 L245.3 349.5 L245.0 350.7 L244.6 351.8 L244.2 352.9 L243.9 354.0 L243.5 355.1 L243.1 356.2 L242.8 357.4 L242.4 358.5 L242.1 359.6 L241.7 360.7 L241.3 361.8 L241.0 362.9 L240.6 364.0 L240.3 365.2 L239.9 366.4 L239.6 367.6 L239.4 368.8 L239.1 370.3 L238.9 371.9 L238.7 373.6 L238.5 375.3 L238.4 376.9 L238.3 378.5 L238.2 379.9 L238.2 381.1 L238.5 382.0 L238.5 382.0 L239.0 381.2 L239.3 380.0 L239.5 378.6 L239.8 377.1 L240.1 375.5 L240.3 373.8 L240.6 372.2 L240.9 370.6 L241.2 369.2 L241.5 368.0 L241.8 366.9 L242.2 365.8 L242.6 364.7 L242.9 363.6 L243.3 362.5 L243.7 361.4 L244.1 360.3 L244.5 359.2 L244.8 358.0 L245.2 356.9 L245.6 355.8 L245.9 354.7 L246.3 353.6 L246.7 352.5 L247.0 351.3 L247.4 350.2 L247.7 349.0 L248.1 347.8 L248.4 346.5 L248.6 345.3 L248.9 344.0 L249.1 342.6 L249.3 341.3 L249.5 339.9 L249.7 338.5 L249.9 337.2 L250.0 335.8 L250.2 334.5 L250.3 333.2 L250.4 331.9 L250.5 330.5 L250.6 329.1 L250.7 327.7 L250.7 326.3 L250.7 325.0 L250.7 323.7 L250.7 322.7 L250.7 321.7 L250.3 321.0Z" fill="#fbeef3" opacity="1"/>
<path d="M258.6 321.0 L258.4 321.6 L258.4 322.3 L258.4 323.2 L258.4 324.2 L258.4 325.2 L258.4 326.3 L258.5 327.5 L258.6 328.7 L258.7 329.9 L258.8 331.1 L258.9 332.3 L259.0 333.7 L259.2 335.2 L259.4 336.7 L259.6 338.2 L259.8 339.7 L260.0 341.2 L260.2 342.5 L260.5 343.7 L260.8 344.6 L261.1 345.5 L261.5 346.2 L261.9 346.8 L262.3 347.2 L262.7 347.5 L263.1 347.7 L263.4 347.9 L263.7 348.0 L264.0 348.0 L264.0 348.0 L263.9 347.7 L263.7 347.4 L263.4 347.2 L263.1 347.0 L262.9 346.7 L262.6 346.3 L262.3 345.8 L262.1 345.2 L261.8 344.4 L261.7 343.4 L261.5 342.3 L261.3 341.0 L261.2 339.6 L261.0 338.1 L260.9 336.5 L260.7 335.0 L260.5 333.6 L260.4 332.2 L260.2 330.9 L260.1 329.7 L259.9 328.6 L259.8 327.4 L259.6 326.2 L259.5 325.1 L259.3 324.1 L259.2 323.1 L259.1 322.3 L258.9 321.6 L258.6 321.0Z" fill="#fbeef3" opacity="1"/>
<path d="M278.4 321.0 L277.9 321.7 L277.7 322.7 L277.4 323.9 L277.1 325.2 L276.8 326.7 L276.5 328.2 L276.3 329.7 L276.0 331.2 L275.8 332.6 L275.5 333.9 L275.3 335.1 L275.1 336.2 L275.0 337.4 L274.8 338.6 L274.6 339.7 L274.4 340.8 L274.2 341.9 L274.1 343.0 L273.9 344.1 L273.7 345.2 L273.5 346.5 L273.2 347.8 L273.0 349.2 L272.7 350.6 L272.5 351.9 L272.3 353.2 L272.1 354.3 L272.0 355.2 L272.2 356.0 L272.2 356.0 L272.7 355.4 L273.0 354.5 L273.4 353.4 L273.8 352.2 L274.1 350.9 L274.5 349.6 L274.9 348.2 L275.2 346.9 L275.5 345.6 L275.7 344.5 L276.0 343.4 L276.2 342.3 L276.4 341.1 L276.6 340.0 L276.8 338.9 L276.9 337.7 L277.1 336.5 L277.3 335.4 L277.5 334.1 L277.6 332.8 L277.8 331.4 L278.0 329.9 L278.2 328.4 L278.3 326.9 L278.4 325.4 L278.6 324.1 L278.6 322.9 L278.6 321.8 L278.4 321.0Z" fill="#fbeef3" opacity="1"/>
<path d="M272.2 355.0 L272.7 355.4 L273.4 355.8 L274.3 356.2 L275.3 356.7 L276.3 357.2 L277.4 357.6 L278.6 358.1 L279.7 358.5 L280.8 358.8 L281.9 359.1 L282.9 359.3 L283.9 359.4 L284.9 359.5 L285.9 359.6 L287.0 359.6 L288.0 359.6 L289.0 359.5 L290.0 359.5 L291.1 359.4 L292.1 359.3 L293.2 359.1 L294.3 358.9 L295.4 358.7 L296.5 358.5 L297.6 358.2 L298.7 357.9 L299.8 357.6 L300.9 357.3 L301.8 357.0 L302.8 356.7 L303.6 356.3 L304.4 356.0 L305.2 355.6 L305.9 355.3 L306.6 354.9 L307.3 354.5 L307.9 354.2 L308.5 353.8 L309.2 353.4 L309.8 353.1 L310.5 352.7 L311.3 352.4 L312.0 352.0 L312.7 351.6 L313.5 351.2 L314.2 350.9 L314.9 350.5 L315.6 350.2 L316.2 349.8 L316.8 349.5 L317.4 349.2 L317.8 348.9 L318.3 348.6 L318.6 348.3 L319.0 348.0 L319.3 347.7 L319.7 347.5 L320.1 347.3 L320.6 347.1 L321.1 346.8 L321.8 346.6 L322.7 346.3 L323.7 346.0 L324.7 345.8 L325.7 345.5 L326.7 345.3 L327.6 345.0 L328.3 344.8 L328.8 344.5 L328.8 344.5 L328.2 344.4 L327.5 344.5 L326.6 344.6 L325.6 344.7 L324.5 344.9 L323.5 345.1 L322.4 345.3 L321.5 345.5 L320.7 345.8 L320.1 346.0 L319.6 346.2 L319.1 346.5 L318.7 346.7 L318.3 347.0 L317.9 347.2 L317.5 347.5 L317.1 347.8 L316.7 348.0 L316.2 348.3 L315.6 348.6 L315.0 348.9 L314.3 349.3 L313.6 349.6 L312.8 349.9 L312.1 350.3 L311.4 350.7 L310.6 351.0 L309.9 351.4 L309.2 351.7 L308.5 352.1 L307.8 352.4 L307.1 352.8 L306.5 353.2 L305.8 353.5 L305.2 353.9 L304.5 354.2 L303.8 354.5 L303.0 354.8 L302.2 355.1 L301.3 355.4 L300.4 355.8 L299.4 356.1 L298.3 356.4 L297.2 356.7 L296.2 356.9 L295.1 357.2 L294.0 357.4 L292.9 357.6 L291.9 357.7 L290.9 357.9 L289.9 358.0 L288.9 358.1 L287.9 358.1 L286.9 358.2 L286.0 358.2 L285.0 358.2 L284.0 358.1 L283.1 358.0 L282.1 357.9 L281.1 357.7 L280.0 357.4 L278.9 357.1 L277.8 356.7 L276.6 356.3 L275.6 355.9 L274.5 355.6 L273.6 355.3 L272.9 355.0 L272.2 355.0Z" fill="#fbeef3" opacity="1"/>
<path d="M236.0 338.0 L236.0 338.4 L236.2 338.9 L236.4 339.5 L236.7 340.1 L236.9 340.7 L237.2 341.4 L237.5 342.1 L237.8 342.8 L238.1 343.5 L238.3 344.2 L238.6 345.0 L238.9 346.0 L239.2 347.0 L239.5 348.0 L239.8 349.0 L240.1 349.9 L240.4 350.8 L240.7 351.5 L241.0 352.0 L241.0 352.0 L241.1 351.4 L241.0 350.7 L240.9 349.8 L240.8 348.8 L240.7 347.7 L240.5 346.7 L240.2 345.6 L239.9 344.6 L239.7 343.8 L239.4 343.0 L239.0 342.3 L238.6 341.6 L238.2 340.9 L237.8 340.3 L237.4 339.7 L237.0 339.1 L236.6 338.7 L236.3 338.3 L236.0 338.0Z" fill="#fbeef3" opacity="1"/>
</g>
<rect x="339.3" y="374.6" width="7" height="1.3" fill="#111"/>
<rect x="235.3" y="321.6" width="116.2" height="59.8" filter="url(#nz1)" opacity="0.12"/>
</g>
<rect x="235.3" y="321.6" width="116.2" height="59.8" fill="none" stroke="#111" stroke-width="1.3"/>
<clipPath id="c2"><rect x="359.7" y="321.6" width="116.6" height="59.8"/></clipPath>
<g clip-path="url(#c2)"><rect x="359.7" y="321.6" width="116.6" height="59.8" fill="#f2b2c8"/>
<g filter="url(#soft)">
<path fill="#f0264e" d="M358.5 319.2 359.1 321.4 361.6 321.7 364.7 318.6 358.8 318.6ZM422.2 318.6 418.4 318.6 418.4 323.5 419.1 324.8 419.2 324.8 421.7 324.6 422.6 321.6ZM441.2 318.9 441.5 318.6 436.8 318.6 436.9 319.3ZM478.8 319.5 479.3 319.4 479.3 319.3 479.2 319.2 479.2 319.1 479.1 319.0 479.1 319.0 479.0 318.9 478.9 318.8 478.9 318.8 478.8 318.7 478.7 318.7 478.6 318.6 478.5 318.6 478.4 318.6 478.3 318.6 476.9 318.6ZM359.0 322.2 358.8 323.0 360.9 326.4 365.5 326.8 365.5 324.7 361.6 322.5ZM433.8 321.7 434.0 323.2 436.4 326.1 440.0 326.3 441.2 324.3 441.0 319.8 436.7 320.1ZM447.0 321.1 443.8 318.6 442.6 318.6 441.8 319.5 442.0 324.1 446.2 324.8ZM452.4 324.5 451.5 321.4 447.8 321.4 446.9 325.2 447.5 326.1ZM373.9 329.4 374.8 330.0 379.1 328.1 379.9 326.6 373.4 324.2 373.3 324.6ZM425.5 330.3 422.5 325.7 421.9 325.4 419.5 325.6 419.7 333.2ZM447.3 329.4 448.9 330.8 453.8 329.7 454.8 327.1 452.8 325.2 447.7 326.8ZM459.4 327.1 458.6 326.5 455.6 327.4 454.5 330.1 455.8 333.5 456.1 333.8 457.5 334.8 457.8 334.7 460.0 329.4ZM367.0 330.5 368.5 334.5 370.3 336.4 373.6 336.7 374.0 336.6 374.3 330.7 373.4 330.0 367.0 330.3ZM433.3 335.7 433.3 335.7 432.8 333.7 428.7 332.0 428.3 332.9 428.8 340.4ZM449.1 331.6 448.6 335.9 448.9 336.3 455.0 333.5 453.8 330.5ZM476.0 333.1 474.3 332.8 472.8 334.4 479.3 338.6 479.3 336.3ZM403.6 338.3 403.5 342.6 408.5 344.1 411.0 343.6 410.0 337.6 409.8 337.4 409.6 337.3 404.3 337.6ZM434.0 345.1 436.5 342.4 433.5 336.6 429.0 341.3ZM359.4 350.1 361.1 345.3 360.5 344.3 356.7 345.9 356.7 350.7ZM402.5 346.4 405.6 349.1 407.9 344.8 403.4 343.4 402.3 345.8ZM423.6 348.4 426.3 348.4 426.6 341.9 424.6 341.3 420.6 344.3ZM428.3 341.8 427.4 342.0 427.1 348.6 429.7 350.3 433.4 345.7ZM444.7 342.8 446.1 346.8 451.3 347.0 451.5 346.9 453.0 343.2 450.4 340.8 449.5 340.2ZM453.8 343.4 452.3 347.1 454.6 349.8 461.2 349.1 458.0 342.7 457.3 342.4ZM463.7 348.0 469.8 347.5 469.6 343.6 467.8 342.8ZM364.6 354.2 368.4 356.2 370.2 355.4 371.6 353.3 370.3 349.1 367.4 348.5ZM401.0 348.5 398.7 353.7 402.2 354.4 405.5 351.8 405.3 349.9 402.1 347.2ZM362.2 358.8 367.6 361.1 368.0 356.9 364.2 354.9ZM382.9 356.5 385.2 357.0 387.1 355.5 387.1 355.5 386.2 350.1 384.4 350.0 379.8 354.1ZM413.6 357.0 411.9 352.9 409.0 354.1 409.3 357.0 409.5 357.3ZM418.3 357.3 418.7 354.0 418.4 353.6 413.3 351.7 412.6 352.5 414.5 357.0 417.5 358.4ZM427.4 355.3 421.1 353.2 419.5 354.1 419.1 357.1 425.6 357.8ZM456.7 357.8 456.9 357.1 454.3 351.5 452.6 353.7 453.0 358.9 454.9 358.7ZM465.1 365.3 468.7 365.4 466.7 359.8 463.0 361.8 462.7 363.8ZM360.5 370.3 358.8 365.5 358.4 365.6 356.7 367.0 356.7 371.4 360.2 370.9ZM378.7 370.0 380.8 368.9 380.1 365.3 376.3 364.3 374.7 370.2ZM405.5 369.1 404.8 367.4 403.0 367.2 401.6 371.2 405.2 370.3ZM410.4 369.1 412.8 365.3 408.9 363.4 408.8 363.4 405.5 367.1 406.2 368.7ZM428.4 370.8 430.2 373.8 430.2 373.8 434.4 368.7 434.5 367.8 433.3 365.0 431.3 364.5 429.6 364.8ZM450.1 365.3 447.6 366.7 447.1 372.2 448.2 373.0 451.0 372.9 454.1 369.7ZM377.8 377.4 378.8 376.6 378.4 370.8 374.3 371.1 374.2 371.1 374.2 373.3ZM410.2 373.6 410.2 369.9 406.2 369.5 405.9 370.6 407.5 374.3 408.8 374.6ZM422.5 374.7 426.1 376.4 429.4 374.1 427.8 371.3 423.1 370.0ZM478.2 371.1 476.5 375.3 478.3 376.6 479.3 376.5 479.3 370.7ZM383.9 376.3 385.2 380.9 388.4 377.4 385.9 372.3ZM433.3 376.5 434.1 379.1 437.1 381.4 437.9 380.6 439.6 374.9 438.9 374.7ZM456.8 378.5 457.1 375.4 452.7 376.5 453.3 379.5 454.0 379.6ZM467.5 383.7 471.0 379.8 471.3 376.7 468.2 374.1 462.7 380.0 462.6 380.2ZM478.6 377.4 479.3 382.4 479.3 377.3ZM359.0 380.9 356.7 381.0 356.7 383.4 356.7 383.5 356.7 383.6 356.7 383.7 356.8 383.8 356.8 383.9 356.9 384.0 356.9 384.0 357.0 384.1 357.1 384.2 357.1 384.2 357.2 384.3 357.3 384.3 357.4 384.4 357.5 384.4 357.6 384.4 357.7 384.4 358.4 384.4ZM433.7 379.9 429.4 383.1 430.3 384.4 436.4 384.4 436.9 383.5 436.8 382.2ZM365.1 384.4 369.1 384.4 368.9 383.1 365.7 383.6Z"/><path fill="#e01a42" d="M367.6 320.1 370.8 319.7 370.7 318.6 366.2 318.6ZM371.6 319.7 372.7 320.2 375.7 318.6 371.5 318.6ZM381.4 322.7 384.4 318.6 378.7 318.6ZM410.0 319.6 411.6 318.6 409.9 318.6ZM451.5 320.6 452.2 319.3 452.0 318.6 445.1 318.6 447.6 320.6ZM467.0 318.6 460.3 318.6 460.5 320.6 460.5 320.7 464.2 320.3 467.0 318.7 467.0 318.6ZM467.7 318.9 470.8 323.8 475.9 318.8 475.8 318.6 468.2 318.6 467.7 318.9ZM417.6 323.1 417.6 318.6 413.1 318.6 409.9 320.6 409.8 320.6ZM429.7 327.1 433.2 323.3 433.0 321.8 430.4 320.2 427.7 323.6ZM453.6 319.6 452.9 319.7 452.2 321.0 453.2 324.5 455.4 326.6 458.4 325.7 459.8 321.1 459.8 321.1ZM459.2 325.9 459.9 326.5 465.2 326.9 464.0 321.1 460.5 321.4ZM473.4 327.2 477.7 325.4 478.3 320.2 476.5 319.3 471.2 324.6 471.2 325.6ZM367.0 329.5 373.1 329.2 372.5 325.1 366.4 327.5ZM385.7 333.5 389.6 330.1 388.2 326.0 387.5 325.9 385.1 326.0 384.9 333.3ZM396.4 330.4 397.2 328.4 389.5 325.5 389.0 325.8 390.4 329.9 393.8 332.3ZM414.2 328.5 415.3 331.0 418.9 332.9 418.7 325.6ZM423.3 325.6 426.3 330.1 428.1 330.8 429.2 327.8 427.1 324.1ZM361.7 337.6 363.1 332.4 357.6 332.4 357.0 334.4 360.8 338.7ZM367.6 334.5 366.3 331.1 364.0 332.3 362.7 337.0ZM383.4 340.4 386.5 340.1 387.5 338.8 385.5 334.3 384.5 334.0 382.0 334.1ZM390.1 330.7 386.3 334.1 388.2 338.4 390.5 337.9 393.4 333.7 393.4 333.0ZM404.4 336.8 409.3 336.6 409.5 330.7 404.3 332.1 404.0 335.6ZM416.2 337.2 419.0 334.5 419.0 333.9 419.0 333.8 415.1 331.8 410.6 337.0ZM360.4 339.5 356.7 335.3 356.7 340.9 360.4 341.1 360.6 340.4ZM367.4 339.8 369.6 336.8 368.0 335.2 362.3 338.1 361.2 339.4 361.3 340.1ZM388.3 343.7 394.4 342.3 390.6 338.7 388.1 339.3 387.1 340.5ZM399.1 338.7 395.2 342.3 395.2 342.5 395.7 344.1 401.7 345.3 402.7 342.8 402.8 338.6ZM458.2 335.4 457.9 335.6 457.7 341.7 458.3 342.0 459.7 341.4 463.4 336.6 462.9 335.1ZM467.6 339.2 468.0 342.1 470.0 342.9 473.7 341.7 471.8 334.9 470.9 335.0ZM474.5 341.6 477.0 342.2 479.0 339.4 472.8 335.4ZM360.3 341.9 356.7 341.7 356.7 345.0 360.3 343.6ZM368.6 343.0 367.2 347.4 367.4 347.7 370.5 348.3 373.1 346.5 371.4 343.4ZM394.9 344.4 394.5 343.1 388.4 344.5 388.6 348.2 392.7 348.6ZM438.3 349.5 440.5 348.4 439.7 342.5 437.2 342.8 434.7 345.5ZM470.6 347.8 470.7 348.0 476.0 348.9 477.3 343.8 476.9 343.0 474.2 342.4 470.4 343.7ZM359.5 350.9 356.7 351.5 356.7 355.2 361.8 353.4ZM383.7 349.5 381.5 347.0 377.4 349.9 378.4 353.5 378.8 353.8 379.0 353.8ZM417.7 348.9 413.4 348.9 413.6 350.9 418.1 352.6ZM454.8 350.6 454.8 350.6 457.5 356.4 461.9 351.5 461.4 349.9ZM434.9 356.9 433.9 354.7 430.2 353.4 429.0 354.9 431.2 359.1ZM462.7 361.1 466.5 359.0 465.7 354.3 462.4 352.1 457.7 357.3 457.5 357.9ZM360.2 360.5 360.2 363.6 368.1 364.3 368.2 364.2 367.6 361.9 361.6 359.4ZM370.4 356.2 368.8 357.0 368.3 361.6 368.9 363.7 374.0 361.6 374.5 360.1ZM381.8 362.4 385.0 361.6 384.9 357.7 382.9 357.3 381.3 361.4ZM409.4 362.7 413.5 364.7 414.1 364.7 417.0 362.8 417.2 359.1 414.1 357.7 409.7 358.1ZM450.3 360.4 447.5 358.8 443.1 359.6 442.0 362.7 443.0 365.5 447.1 366.1 449.8 364.6ZM369.3 368.6 373.8 370.4 373.8 370.4 375.6 363.9 374.2 362.4 368.9 364.5 368.8 364.8ZM421.5 365.6 417.4 363.5 414.7 365.2 416.7 371.4 421.9 368.4ZM446.8 366.8 443.0 366.3 441.7 368.3 442.4 372.2 446.4 372.0ZM462.1 365.1 460.7 369.8 462.3 370.6 467.0 372.0 464.6 365.9 462.3 364.6ZM373.4 373.4 373.4 371.1 369.0 369.4 368.9 369.5 367.3 374.7 370.6 377.7ZM389.2 377.1 392.9 378.1 394.3 374.6 386.6 371.9ZM415.9 373.6 416.1 372.0 413.9 365.5 413.6 365.5 411.0 369.6 411.0 373.5 415.2 374.0ZM461.7 371.2 460.1 370.4 458.3 371.0 458.3 373.3 461.1 376.0ZM361.9 377.3 361.4 376.9 357.9 377.1 356.7 378.8 356.7 380.2 359.4 380.1 361.9 377.9ZM372.0 381.4 377.3 378.0 373.9 374.1 371.1 378.5 371.5 381.3ZM399.4 374.6 395.0 374.8 393.6 378.6 393.7 378.9 400.6 381.4 401.4 380.8 401.3 376.8ZM408.6 375.4 407.2 375.0 402.1 376.9 402.2 380.7 402.8 380.9 408.9 379.9 409.2 379.6ZM420.6 375.8 419.6 380.4 423.7 383.0 425.5 381.7 425.7 377.1 422.1 375.3ZM472.1 376.9 471.8 379.8 476.1 383.4 478.5 382.4 477.8 377.3 475.9 375.9ZM359.9 380.7 359.2 384.4 361.5 384.4 364.4 384.0 364.9 383.2 362.2 378.7ZM391.7 382.8 385.3 382.9 385.1 384.4 392.4 384.4ZM409.7 380.1 409.5 380.4 409.9 384.4 414.2 384.4 414.9 383.5 415.2 381.6 414.4 380.8ZM453.8 380.4 453.0 380.2 449.2 382.4 449.4 384.4 455.8 384.4ZM461.6 380.6 457.2 379.2 454.6 380.3 456.7 384.4 459.4 384.4ZM475.5 384.0 471.4 380.5 468.0 384.4 468.0 384.4 475.4 384.4Z"/><path fill="#ea2048" d="M387.9 325.2 388.4 325.3 389.2 324.7 391.1 322.6 389.4 318.6 386.8 318.6ZM409.1 320.4 409.2 320.2 409.1 318.6 406.2 318.6ZM430.2 318.8 430.5 319.4 433.4 321.0 436.1 319.5 436.0 318.6 430.1 318.6ZM459.5 318.6 454.9 318.6 454.4 319.0 459.6 320.3ZM381.8 323.5 382.2 324.8 384.7 325.3 387.1 325.1 385.9 318.6 385.4 318.6ZM397.6 327.7 398.6 326.6 396.0 321.6 391.7 323.0 390.1 324.9ZM408.3 324.6 410.7 327.4 413.6 327.9 418.3 325.0 417.7 324.0 409.5 321.4ZM429.8 319.7 429.7 319.5 423.4 321.9 422.5 324.8 422.7 324.9 427.0 323.2ZM384.1 333.2 384.3 326.0 382.0 325.5 380.8 326.6 379.8 328.5 381.8 333.3ZM446.2 325.7 441.9 324.9 440.7 326.8 442.3 330.1 446.5 329.2 446.9 326.6ZM470.8 334.2 472.0 334.1 473.7 332.3 473.0 327.9 470.7 326.3 467.1 328.2 466.9 331.5ZM379.2 329.0 375.1 330.7 374.8 336.7 375.4 336.9 381.1 333.6ZM414.5 331.2 413.4 328.7 410.8 328.2 410.3 330.3 410.1 336.4ZM419.8 334.0 419.8 334.5 423.7 337.7 427.6 332.6 428.1 331.6 426.1 330.9ZM433.8 333.3 433.6 333.5 434.0 335.3 441.5 336.4 442.0 335.6 441.2 332.3ZM449.3 337.1 449.9 339.5 450.6 340.0 455.2 334.3ZM463.6 334.8 464.2 336.4 467.1 338.5 470.1 334.7 466.4 332.2 464.1 333.9ZM424.1 340.7 423.5 338.5 419.4 335.2 416.8 337.7 419.0 343.2 420.0 343.7ZM427.6 333.9 424.2 338.4 424.9 340.6 427.0 341.2 428.0 341.1ZM437.3 342.0 439.9 341.7 440.9 341.2 441.3 337.1 434.2 336.1ZM448.4 337.0 448.0 336.4 442.6 336.1 442.1 336.9 441.7 341.2 444.2 342.2 449.1 339.6ZM460.8 341.4 467.2 341.9 466.8 339.3 464.0 337.2ZM411.3 344.3 408.8 344.9 406.5 349.0 412.1 347.1 412.2 345.3ZM440.5 342.3 441.3 348.3 444.2 348.8 445.4 347.2 443.9 342.9 441.3 341.9ZM460.0 342.2 458.9 342.6 461.9 348.7 462.5 348.2 466.9 342.7ZM371.0 348.9 372.3 353.0 377.5 353.3 376.6 350.0 373.9 347.0 373.8 347.0ZM387.9 355.1 395.3 354.3 392.6 349.4 388.3 349.0 387.0 349.9ZM396.1 354.2 397.8 353.7 400.0 348.7 393.4 349.3ZM406.3 351.7 408.6 353.4 411.9 352.1 412.8 351.0 412.5 348.6 412.2 347.9 406.1 350.0ZM444.2 351.3 444.0 349.6 441.0 349.1 438.6 350.2 438.4 351.5 441.0 353.9ZM451.7 347.7 451.7 347.7 449.6 352.3 452.0 353.1 454.0 350.6 454.0 350.4ZM462.7 351.4 466.1 353.6 469.0 351.8 470.0 348.4 469.9 348.3 462.9 348.9 462.1 349.5ZM478.4 352.5 479.3 352.1 479.3 344.9 478.0 344.4 476.8 349.4 477.5 351.6ZM392.1 361.2 395.4 356.1 395.5 355.1 388.0 355.9ZM408.2 354.1 405.9 352.5 402.7 354.9 403.7 357.6 408.5 356.8ZM452.2 359.1 451.8 353.9 449.1 352.9 447.7 354.0 448.0 358.2 450.8 359.8ZM475.2 359.7 477.7 358.7 477.9 353.1 477.1 352.3 472.5 353.6 473.1 358.9ZM478.7 353.2 478.5 358.7 479.3 359.1 479.3 353.0ZM358.8 364.7 359.4 363.8 359.4 360.5 356.7 358.6 356.7 364.1 358.2 364.8ZM407.9 363.2 402.9 361.0 401.2 362.0 400.2 364.4 402.9 366.3 404.9 366.6ZM408.7 357.5 403.7 358.4 403.3 360.3 408.6 362.6 408.6 362.6 408.9 357.8ZM430.9 363.8 430.7 359.8 428.4 355.4 428.3 355.4 426.2 358.3 426.6 363.3 429.3 364.1ZM431.7 363.8 433.5 364.3 434.7 363.2 435.8 358.0 435.4 357.5 431.5 359.9ZM441.3 362.3 442.4 359.4 441.0 358.0 436.6 358.2 435.6 362.9ZM452.7 359.7 451.1 360.5 450.6 364.7 454.4 368.7 456.3 364.0 454.7 359.5ZM457.0 363.7 461.5 364.4 461.8 363.9 462.2 361.8 457.0 358.6 455.5 359.3ZM361.2 369.9 368.4 368.9 368.5 368.8 368.0 365.1 360.0 364.4 359.5 365.1ZM399.6 365.0 397.6 365.8 400.2 372.0 400.7 371.6 402.2 366.9ZM426.2 364.0 422.3 365.6 422.7 368.4 423.0 369.1 427.7 370.4 428.8 364.8ZM435.2 367.4 441.0 367.8 442.3 365.8 441.3 363.1 435.2 363.8 434.1 364.8ZM479.3 369.8 479.3 366.1 474.0 366.3 473.8 366.7 478.0 370.3ZM383.2 375.9 385.6 371.3 381.3 369.6 379.2 370.6 379.6 376.3ZM399.3 373.8 399.7 372.7 396.9 366.0 394.8 366.0 395.0 374.0ZM401.2 372.2 400.4 372.9 400.0 374.1 401.8 376.1 406.7 374.4 405.3 371.1ZM422.1 369.1 416.8 372.2 416.7 373.6 420.3 375.0 421.7 374.6 422.3 369.5ZM447.6 373.5 446.6 372.8 442.3 373.0 441.2 374.4 445.7 379.6 445.7 379.6ZM452.5 375.7 457.2 374.6 457.5 373.4 457.5 371.0 454.7 370.2 451.7 373.4ZM365.6 382.8 369.1 382.3 370.7 381.4 370.3 378.6 366.8 375.3 362.7 377.4 362.7 377.9ZM414.9 374.8 410.7 374.3 409.4 375.2 409.9 379.4 414.2 380.0ZM415.7 381.1 418.8 380.3 419.8 375.7 416.3 374.3 415.7 374.7 415.0 380.3ZM444.6 379.6 440.6 374.9 440.5 374.9 438.8 380.3ZM452.5 379.6 451.8 376.3 450.9 373.7 448.4 373.8 446.4 380.1 446.6 380.4 448.8 381.7ZM461.9 379.8 462.0 379.7 461.1 377.1 458.1 374.2 457.9 375.0 457.6 378.4ZM400.1 382.1 393.5 379.7 392.4 382.3 393.3 384.4 399.0 384.4ZM402.5 381.7 401.8 381.4 401.0 382.1 399.9 384.4 404.5 384.4ZM408.7 380.8 403.5 381.6 405.5 384.4 409.1 384.4ZM415.7 383.5 417.1 384.4 423.0 384.4 423.2 383.7 419.0 381.0 415.9 381.8ZM448.4 382.4 446.4 381.2 442.8 384.4 448.6 384.4Z"/><path fill="#ee2a52" d="M395.9 320.8 396.2 320.2 396.0 318.6 390.3 318.6 391.7 322.2ZM401.0 319.6 402.3 318.6 396.8 318.6 397.0 319.9ZM423.4 321.1 429.3 318.8 429.3 318.6 423.0 318.6ZM358.1 322.9 358.3 321.7 357.8 319.6 356.7 319.7 356.7 323.7ZM362.4 322.0 365.7 323.8 367.0 320.7 365.5 319.0ZM372.6 324.2 372.8 323.7 372.4 320.9 371.2 320.4 367.8 320.9 366.3 324.5 366.3 326.7ZM377.8 318.6 377.4 318.6 373.2 320.9 373.6 323.4 380.4 325.9 381.4 325.0 381.0 323.6ZM400.9 320.4 396.9 320.7 396.7 321.1 399.3 326.2 403.3 326.3 403.8 325.9ZM408.7 321.1 404.7 318.6 403.6 318.6 401.7 320.1 404.5 325.5 407.6 324.4ZM464.8 320.9 466.1 327.1 466.7 327.5 470.4 325.6 470.4 324.6 467.2 319.5ZM479.3 326.2 479.3 320.2 479.1 320.3 478.5 325.5ZM357.2 330.8 360.2 326.8 358.3 323.7 356.7 324.6 356.7 330.3ZM360.8 327.2 357.6 331.5 357.7 331.6 363.6 331.6 366.2 330.2 366.3 330.0 365.6 327.6ZM403.5 331.8 403.1 327.1 399.3 327.0 398.1 328.4 397.2 330.5 403.3 334.9ZM410.0 327.9 407.8 325.1 404.6 326.4 403.9 326.9 404.3 331.3 409.6 329.9ZM433.0 332.9 433.3 332.7 435.7 326.6 433.6 324.0 430.0 328.0 428.8 331.2ZM441.6 330.6 440.0 327.1 436.4 326.9 434.2 332.4 441.2 331.5ZM466.0 331.5 466.3 328.2 465.6 327.8 460.3 327.3 460.8 329.3 463.9 333.1ZM479.3 330.0 479.3 327.2 478.0 326.1 473.8 327.9 474.5 332.1 476.1 332.4ZM396.7 331.1 394.2 333.0 394.2 333.7 399.1 337.9 403.1 337.8 403.7 337.1 403.3 335.9ZM446.7 330.0 442.3 330.9 441.9 331.9 442.7 335.3 447.8 335.6 448.3 331.4ZM460.5 330.2 458.7 334.6 462.9 334.3 463.3 333.7ZM476.8 332.8 479.3 335.2 479.3 331.0ZM373.1 337.4 370.3 337.2 368.0 340.3 368.6 342.2 371.4 342.6ZM373.9 346.2 373.9 346.2 378.4 342.2 375.2 337.7 374.4 337.3 374.0 337.4 372.1 343.0ZM376.0 337.5 379.1 342.0 379.8 342.1 382.6 340.6 381.3 334.4ZM391.3 338.2 394.8 341.6 398.4 338.3 393.8 334.4ZM418.1 343.2 416.1 338.0 410.8 337.8 411.8 343.7 412.8 344.8ZM451.2 340.5 453.6 342.6 456.9 341.7 457.1 335.5 455.9 334.7ZM367.9 342.6 367.3 340.6 361.3 340.9 361.1 341.5 361.1 343.7 361.8 344.9 366.5 347.0ZM381.0 346.4 379.5 342.9 379.0 342.7 374.6 346.6 377.0 349.2ZM380.3 342.7 381.9 346.3 384.5 349.2 386.5 349.3 387.8 348.4 387.6 344.3 386.4 340.9 383.2 341.2ZM395.6 344.9 393.7 348.5 400.5 347.9 401.7 346.5 401.6 346.1ZM412.9 347.4 413.2 348.1 417.8 348.1 419.7 344.4 418.6 343.9 413.0 345.5ZM477.7 342.7 478.1 343.5 479.3 344.0 479.3 340.4ZM363.9 353.8 366.7 348.1 366.5 347.8 361.8 345.7 360.1 350.3 362.8 353.3ZM422.9 348.8 420.2 345.1 418.5 348.6 419.0 353.1 419.2 353.3 420.8 352.5ZM429.6 352.9 429.4 351.1 426.6 349.2 423.6 349.2 421.6 352.6 428.0 354.7 428.3 354.5ZM430.2 350.9 430.4 352.7 434.1 354.0 437.6 351.5 437.8 350.1 434.1 346.1ZM450.7 347.8 446.1 347.6 444.8 349.3 445.1 351.3 447.3 353.3 448.7 352.2ZM476.0 349.7 470.7 348.8 469.8 351.8 472.1 352.9 476.7 351.6ZM356.7 356.1 356.7 357.6 359.8 359.8 361.3 358.7 363.5 354.5 362.5 354.0ZM378.2 354.4 377.9 354.1 372.2 353.8 371.0 355.7 375.0 359.5 376.8 358.2ZM382.2 357.0 379.1 354.6 379.0 354.6 377.6 358.3 380.7 360.8ZM403.0 358.1 402.0 355.1 398.1 354.4 396.3 355.0 396.2 356.1 400.9 361.2 402.5 360.3ZM436.4 357.4 440.7 357.2 440.6 354.6 438.0 352.2 434.7 354.5 435.8 356.8ZM441.5 357.4 443.0 358.8 447.2 358.1 446.9 354.0 444.7 352.0 441.4 354.6ZM471.7 353.6 469.3 352.5 466.5 354.3 467.3 358.8 472.3 358.8ZM377.1 359.0 375.3 360.2 374.7 361.8 376.2 363.5 380.2 364.5 381.1 362.9 380.5 361.7ZM390.2 364.4 391.4 363.9 391.7 362.0 387.4 356.3 385.7 357.6 385.8 361.7ZM400.4 361.8 395.9 356.9 392.5 362.0 392.2 364.0 394.5 365.2 397.0 365.2 399.4 364.2ZM425.4 358.6 418.8 357.8 418.0 359.0 417.8 362.8 421.9 364.9 425.8 363.3ZM469.7 365.7 471.0 367.2 473.0 366.5 473.4 365.7 474.8 360.3 472.7 359.6 467.5 359.6ZM478.1 359.4 475.6 360.4 474.3 365.5 479.3 365.3 479.3 360.0ZM356.7 365.0 356.7 366.0 357.4 365.3ZM380.9 365.1 381.6 368.9 385.8 370.6 389.6 364.9 385.3 362.3 381.8 363.2ZM394.2 373.7 394.0 365.9 391.7 364.6 390.4 365.1 386.5 371.0ZM457.9 370.2 459.9 369.6 461.2 365.2 457.0 364.5 455.0 369.4ZM470.3 367.7 469.1 366.2 465.5 366.1 467.8 371.9ZM360.2 371.7 356.7 372.2 356.7 375.3 357.8 376.3 361.1 376.1ZM366.5 374.5 368.0 369.7 361.2 370.7 360.9 371.3 361.9 376.3 362.3 376.6ZM434.7 369.5 431.0 374.2 432.9 375.8 438.2 374.1ZM440.1 374.2 440.4 374.1 441.7 372.5 440.9 368.6 435.3 368.2 435.2 368.7 439.1 373.9ZM467.5 372.9 462.5 371.5 461.8 376.8 462.5 379.0 467.7 373.5 467.5 373.0ZM468.5 373.3 471.8 376.1 475.7 375.1 477.4 370.9 473.2 367.3 471.1 368.0 468.3 372.7ZM379.9 380.7 384.6 381.9 384.6 381.7 383.2 376.7 379.4 377.2 378.1 378.2ZM391.7 382.0 392.9 379.1 392.8 378.9 389.0 377.9 385.4 381.9 385.3 382.1ZM430.3 374.6 430.0 374.6 426.5 377.1 426.3 381.7 428.8 382.6 433.3 379.2 432.5 376.4ZM369.6 382.9 369.9 384.4 373.9 384.4 371.8 382.2 371.2 382.0ZM374.9 384.4 377.0 384.4 379.2 381.0 377.6 378.8 372.7 381.9ZM379.9 381.5 378.0 384.4 384.3 384.4 384.6 382.7ZM428.6 383.4 425.9 382.4 424.0 383.7 423.8 384.4 429.4 384.4ZM437.6 382.1 437.7 383.2 441.6 384.4 445.8 380.7 445.7 380.5 445.4 380.3 438.4 381.2ZM462.3 381.0 460.3 384.4 467.1 384.4ZM478.9 383.1 476.3 384.2 476.2 384.4 478.3 384.4 478.4 384.4 478.5 384.4 478.6 384.4 478.7 384.3 478.8 384.3 478.9 384.2 478.9 384.2 479.0 384.1 479.1 384.0 479.1 384.0 479.2 383.9 479.2 383.8 479.3 383.7 479.3 383.6 479.3 383.5 479.3 383.4 479.3 383.2Z"/><g fill="#5a2870"><circle cx="381.4" cy="322.7" r="0.85"/><circle cx="409.2" cy="320.2" r="0.85"/><circle cx="362.4" cy="322.0" r="0.85"/><circle cx="373.6" cy="323.4" r="0.85"/><circle cx="382.2" cy="324.8" r="0.85"/><circle cx="403.3" cy="326.3" r="0.85"/><circle cx="422.7" cy="324.9" r="0.85"/><circle cx="440.0" cy="326.3" r="0.85"/><circle cx="446.2" cy="324.8" r="0.85"/><circle cx="452.4" cy="324.5" r="0.85"/><circle cx="453.6" cy="319.6" r="0.85"/><circle cx="464.0" cy="321.1" r="0.85"/><circle cx="466.7" cy="327.5" r="0.85"/><circle cx="477.7" cy="325.4" r="0.85"/><circle cx="360.8" cy="327.2" r="0.85"/><circle cx="384.1" cy="333.2" r="0.85"/><circle cx="388.2" cy="326.0" r="0.85"/><circle cx="396.4" cy="330.4" r="0.85"/><circle cx="403.1" cy="327.1" r="0.85"/><circle cx="414.2" cy="328.5" r="0.85"/><circle cx="425.5" cy="330.3" r="0.85"/><circle cx="427.1" cy="324.1" r="0.85"/><circle cx="441.9" cy="324.9" r="0.85"/><circle cx="452.8" cy="325.2" r="0.85"/><circle cx="457.8" cy="334.7" r="0.85"/><circle cx="466.0" cy="331.5" r="0.85"/><circle cx="366.3" cy="331.1" r="0.85"/><circle cx="390.1" cy="330.7" r="0.85"/><circle cx="413.4" cy="328.7" r="0.85"/><circle cx="428.7" cy="332.0" r="0.85"/><circle cx="433.6" cy="333.5" r="0.85"/><circle cx="453.8" cy="330.5" r="0.85"/><circle cx="450.6" cy="340.0" r="0.85"/><circle cx="373.1" cy="337.4" r="0.85"/><circle cx="388.1" cy="339.3" r="0.85"/><circle cx="402.7" cy="342.8" r="0.85"/><circle cx="418.1" cy="343.2" r="0.85"/><circle cx="419.4" cy="335.2" r="0.85"/><circle cx="427.0" cy="341.2" r="0.85"/><circle cx="440.9" cy="341.2" r="0.85"/><circle cx="453.6" cy="342.6" r="0.85"/><circle cx="458.3" cy="342.0" r="0.85"/><circle cx="474.5" cy="341.6" r="0.85"/><circle cx="359.4" cy="350.1" r="0.85"/><circle cx="373.1" cy="346.5" r="0.85"/><circle cx="388.4" cy="344.5" r="0.85"/><circle cx="413.2" cy="348.1" r="0.85"/><circle cx="420.6" cy="344.3" r="0.85"/><circle cx="428.3" cy="341.8" r="0.85"/><circle cx="439.7" cy="342.5" r="0.85"/><circle cx="441.3" cy="341.9" r="0.85"/><circle cx="451.3" cy="347.0" r="0.85"/><circle cx="476.9" cy="343.0" r="0.85"/><circle cx="361.8" cy="353.4" r="0.85"/><circle cx="363.9" cy="353.8" r="0.85"/><circle cx="376.6" cy="350.0" r="0.85"/><circle cx="383.7" cy="349.5" r="0.85"/><circle cx="405.5" cy="351.8" r="0.85"/><circle cx="412.5" cy="348.6" r="0.85"/><circle cx="422.9" cy="348.8" r="0.85"/><circle cx="466.1" cy="353.6" r="0.85"/><circle cx="476.7" cy="351.6" r="0.85"/><circle cx="362.2" cy="358.8" r="0.85"/><circle cx="371.0" cy="355.7" r="0.85"/><circle cx="403.0" cy="358.1" r="0.85"/><circle cx="409.3" cy="357.0" r="0.85"/><circle cx="418.4" cy="353.6" r="0.85"/><circle cx="450.8" cy="359.8" r="0.85"/><circle cx="374.0" cy="361.6" r="0.85"/><circle cx="392.2" cy="364.0" r="0.85"/><circle cx="408.9" cy="357.8" r="0.85"/><circle cx="442.0" cy="362.7" r="0.85"/><circle cx="462.7" cy="363.8" r="0.85"/><circle cx="474.8" cy="360.3" r="0.85"/><circle cx="368.4" cy="368.9" r="0.85"/><circle cx="394.0" cy="365.9" r="0.85"/><circle cx="399.6" cy="365.0" r="0.85"/><circle cx="414.7" cy="365.2" r="0.85"/><circle cx="427.7" cy="370.4" r="0.85"/><circle cx="434.5" cy="367.8" r="0.85"/><circle cx="442.3" cy="365.8" r="0.85"/><circle cx="442.4" cy="372.2" r="0.85"/><circle cx="478.0" cy="370.3" r="0.85"/><circle cx="379.2" cy="370.6" r="0.85"/><circle cx="399.3" cy="373.8" r="0.85"/><circle cx="401.2" cy="372.2" r="0.85"/><circle cx="408.8" cy="374.6" r="0.85"/><circle cx="416.7" cy="373.6" r="0.85"/><circle cx="475.7" cy="375.1" r="0.85"/><circle cx="359.4" cy="380.1" r="0.85"/><circle cx="377.3" cy="378.0" r="0.85"/><circle cx="385.2" cy="380.9" r="0.85"/><circle cx="414.2" cy="380.0" r="0.85"/><circle cx="437.9" cy="380.6" r="0.85"/><circle cx="438.8" cy="380.3" r="0.85"/><circle cx="377.6" cy="378.8" r="0.85"/><circle cx="392.4" cy="382.3" r="0.85"/><circle cx="419.0" cy="381.0" r="0.85"/><circle cx="433.7" cy="379.9" r="0.85"/><circle cx="449.2" cy="382.4" r="0.85"/></g>
<path d="M359.5 349.8 C360.6 348.7 364.6 350.0 366.0 350.5 C367.4 351.0 367.9 351.9 368.0 353.0 C368.1 354.1 367.9 356.3 366.5 357.0 C365.1 357.7 360.7 358.2 359.5 357.0 C358.3 355.8 358.4 350.9 359.5 349.8Z" fill="#fbeef3" opacity="1"/>
<path d="M442.3 359.0 L442.2 359.8 L442.5 360.5 L442.9 361.4 L443.4 362.3 L443.9 363.3 L444.5 364.3 L445.1 365.4 L445.6 366.5 L446.2 367.6 L446.8 368.7 L447.4 370.1 L448.1 371.7 L448.9 373.4 L449.6 375.2 L450.5 376.9 L451.3 378.6 L452.0 380.1 L452.7 381.3 L453.7 382.0 L453.7 382.0 L453.9 380.8 L453.6 379.4 L453.2 377.8 L452.7 376.1 L452.0 374.2 L451.4 372.4 L450.7 370.6 L449.9 368.9 L449.2 367.5 L448.6 366.3 L447.9 365.2 L447.2 364.1 L446.4 363.0 L445.7 362.1 L445.0 361.2 L444.3 360.4 L443.6 359.8 L443.1 359.2 L442.3 359.0Z" fill="#fbeef3" opacity="1"/>
<path d="M417.0 321.0 L416.6 321.7 L416.5 322.4 L416.5 323.0 L416.6 323.5 L416.8 324.1 L417.0 324.6 L417.4 325.1 L417.8 325.6 L418.5 326.0 L418.5 326.0 L418.9 325.3 L419.0 324.6 L419.0 324.0 L418.9 323.5 L418.7 322.9 L418.5 322.4 L418.1 321.9 L417.7 321.4 L417.0 321.0Z" fill="#fbeef3" opacity="1"/>
<path d="M359.5 370.8 C361.2 369.2 367.2 371.1 370.0 372.0 C372.8 372.9 375.0 374.4 376.0 376.0 C377.0 377.6 378.8 380.6 376.0 381.5 C373.2 382.4 362.2 383.3 359.5 381.5 C356.8 379.7 357.8 372.4 359.5 370.8Z" fill="#f4b8cc" opacity="0.9"/>
<path d="M359.5 322.0 C361.6 319.0 370.2 319.8 372.0 322.0 C373.8 324.2 372.1 332.0 370.0 335.0 C367.9 338.0 361.2 342.2 359.5 340.0 C357.8 337.8 357.4 325.0 359.5 322.0Z" fill="#d81c3c" opacity="0.35"/>
</g>
<rect x="359.7" y="321.6" width="116.6" height="59.8" filter="url(#nz1)" opacity="0.12"/>
</g>
<rect x="359.7" y="321.6" width="116.6" height="59.8" fill="none" stroke="#111" stroke-width="1.3"/>
<clipPath id="c3"><rect x="238.0" y="387.7" width="115.4" height="59.8"/></clipPath>
<g clip-path="url(#c3)"><rect x="238.0" y="387.7" width="115.4" height="59.8" fill="#f4bcd0"/>
<g filter="url(#soft)">
<path fill="#f22e5e" d="M236.1 388.6 235.2 385.1 235.2 385.1 235.2 385.1 235.1 385.2 235.1 385.3 235.0 385.4 235.0 385.5 235.0 385.6 235.0 385.7 235.0 389.3ZM266.4 386.1 269.8 385.7 270.4 384.7 266.1 384.7ZM276.2 389.2 278.3 384.8 278.3 384.7 271.5 384.7 270.6 386.0 275.8 389.3ZM303.4 388.3 304.3 388.2 305.6 384.7 297.1 384.7 296.6 386.3 298.3 387.9ZM354.0 384.9 356.4 386.4 356.4 385.7 356.4 385.6 356.4 385.5 356.4 385.4 356.3 385.3 356.3 385.2 356.2 385.1 356.2 385.1 356.1 385.0 356.0 384.9 356.0 384.9 355.9 384.8 355.8 384.8 355.7 384.7 355.6 384.7 355.5 384.7 355.4 384.7 353.9 384.7ZM282.1 394.5 282.7 394.5 284.3 392.8 282.9 387.0 279.0 385.5 277.1 389.6ZM290.4 386.0 289.4 384.7 287.1 384.7 283.8 386.8 285.1 392.3 287.8 390.8ZM295.9 398.7 298.8 399.7 302.8 389.1 298.4 388.8 295.6 396.6ZM324.1 384.7 320.1 384.7 318.8 386.3 318.7 390.0 324.0 392.6 324.8 392.7 325.2 389.6ZM326.0 389.9 325.7 393.0 328.5 395.2 329.1 395.2 329.1 395.1 331.9 388.5 331.1 386.2ZM334.7 395.2 341.5 390.6 341.3 389.9 341.1 389.6 332.6 389.0 330.1 395.0ZM347.1 391.8 353.1 385.2 352.8 384.7 348.2 384.7 342.3 389.9 342.4 390.5 344.1 392.1ZM251.3 399.2 258.0 402.6 259.8 401.1 260.0 396.5 258.0 395.4ZM264.9 394.2 260.9 396.5 260.7 401.1 265.7 404.7 270.5 398.4 269.4 396.3ZM355.3 395.5 354.3 401.5 356.4 402.1 356.4 394.4ZM258.4 403.4 257.2 405.5 260.7 413.0 262.8 412.7 266.6 409.4 265.4 405.6 260.2 401.9ZM266.3 405.4 267.5 409.1 270.1 409.6 274.5 408.0 275.4 407.1 275.0 400.9 271.2 399.0ZM283.7 405.5 277.9 399.6 275.9 400.9 276.3 406.9 282.4 407.9 283.6 406.5ZM338.9 408.2 343.1 411.0 351.0 404.2 351.1 403.5 344.6 400.7 340.1 403.9ZM284.3 407.1 283.1 408.5 285.3 415.7 285.8 416.1 289.0 417.3 289.4 416.7 292.2 409.3 291.3 407.2ZM320.0 414.5 321.2 415.6 328.0 410.9 328.7 409.3 323.6 404.3 322.3 404.4 320.4 411.3ZM352.9 410.8 351.2 405.2 343.7 411.7 344.0 412.2 350.4 415.2ZM235.0 412.7 235.0 418.1 241.0 421.1 241.8 415.3 235.0 412.7ZM254.1 425.6 256.0 422.3 255.8 421.4 248.9 419.0 245.3 421.9 250.4 427.1ZM290.4 419.3 293.5 420.8 299.2 420.6 300.4 414.1 290.1 417.3 289.7 417.9ZM350.2 416.1 343.9 413.2 340.5 422.1 341.0 422.7 349.4 421.0 350.8 418.1ZM256.7 422.9 255.0 425.9 256.2 428.6 263.3 430.1 260.3 424.1ZM351.6 424.8 352.2 427.6 356.4 428.5 356.4 423.8ZM266.8 433.1 266.6 433.3 265.9 436.6 268.2 439.1 276.9 435.2 273.8 430.4ZM275.9 427.2 274.5 429.8 277.9 435.0 279.7 435.5 281.7 433.0 280.5 427.6 277.7 425.8ZM315.2 431.0 313.6 437.9 318.2 440.0 323.0 438.0 324.1 436.1 324.1 432.7 320.6 429.0 318.1 429.0ZM313.1 438.6 311.2 439.0 306.6 445.8 306.9 446.0 317.3 444.6 317.7 440.8ZM342.5 443.6 344.8 445.7 349.4 447.7 351.8 444.0 350.7 438.1 349.6 437.4 344.5 437.6ZM317.5 446.2 317.4 445.5 307.6 446.8 309.5 449.2 313.9 449.5ZM320.2 449.2 318.0 447.0 314.6 450.0 314.9 450.5 319.4 450.5ZM327.8 446.2 327.5 449.7 328.0 450.5 335.4 449.7 337.3 444.8 334.3 442.2Z"/><path fill="#f63c6c" d="M237.0 388.4 240.0 388.7 245.6 385.1 245.3 384.7 236.1 384.7ZM249.2 386.3 251.6 384.7 247.1 384.7 247.0 384.9ZM296.1 384.7 290.5 384.7 291.2 385.5 295.8 385.9ZM330.8 384.7 325.0 384.7 325.9 388.8 330.9 385.2ZM240.6 389.4 240.7 389.7 245.5 396.8 246.9 396.6 249.6 388.8 248.8 387.1 246.4 385.6ZM275.0 389.8 269.9 386.6 266.3 387.0 265.8 387.9 265.4 393.4 269.6 395.4ZM297.5 388.5 295.9 386.9 291.2 386.4 288.7 391.1 294.9 395.9ZM255.3 392.1 250.3 389.4 247.8 396.9 249.7 398.8 250.2 398.7 257.3 394.8ZM271.4 398.1 275.4 400.1 277.7 398.7 281.3 395.0 276.4 390.1 275.9 390.2 270.3 396.1ZM295.0 398.8 294.7 396.8 288.1 391.7 285.0 393.3 283.5 395.0 286.6 398.8 293.1 400.0ZM314.1 401.3 310.7 395.2 310.5 395.1 310.2 395.0 301.2 401.3 301.7 402.5 309.5 406.0ZM323.1 393.2 318.2 390.8 311.7 395.1 314.9 401.0ZM316.0 402.6 314.9 401.9 314.8 401.9 310.0 406.7 310.0 406.8 313.4 413.3 315.1 413.1 315.9 407.3ZM249.3 418.2 255.9 420.5 257.7 415.4 248.0 410.2 247.9 410.6ZM269.8 410.4 267.3 410.0 263.5 413.2 267.9 420.4 272.1 418.3ZM281.0 426.9 287.5 424.8 289.5 419.7 288.9 418.2 285.7 417.0 278.2 425.1ZM315.5 414.0 313.3 414.2 309.8 418.2 309.7 420.4 309.9 420.6 313.2 421.8 320.9 417.8 320.8 416.4 319.3 415.0ZM318.2 428.1 320.5 428.1 322.8 421.2 321.2 418.7 313.9 422.4ZM356.2 419.1 351.6 418.6 350.2 421.4 351.3 424.0 356.4 422.9 356.4 419.3ZM288.3 425.2 290.8 432.8 291.1 433.0 295.7 429.6 293.0 421.5 290.3 420.3ZM296.6 429.3 300.8 429.1 301.1 422.8 299.5 421.5 294.0 421.7ZM349.5 421.9 341.4 423.5 341.6 425.4 346.1 428.7 350.7 428.6 351.4 427.8 350.6 424.6ZM239.3 433.9 236.9 428.2 235.0 428.2 235.0 437.0 238.8 434.6ZM246.6 433.2 240.1 434.3 239.6 435.0 244.7 442.3 247.1 442.7 247.5 434.5 246.7 433.2ZM283.3 440.2 290.8 434.5 290.7 433.9 290.3 433.5 282.4 433.6 280.4 436.1 281.5 440.0ZM280.7 440.3 279.5 436.4 277.6 435.9 268.7 439.9 270.3 444.4 274.5 446.5 280.5 440.6ZM324.7 436.8 323.8 438.4 327.5 445.3 333.9 441.4 333.4 439.2ZM235.8 448.0 235.0 448.7 235.0 449.5 235.0 449.6 235.0 449.7 235.0 449.8 235.1 449.9 235.1 450.0 235.2 450.1 235.2 450.1 235.3 450.2 235.4 450.3 235.4 450.3 235.5 450.4 235.6 450.4 235.7 450.5 235.8 450.5 235.9 450.5 236.0 450.5 237.6 450.5ZM236.3 447.1 238.8 450.5 246.8 450.5 248.1 444.7 247.3 443.7 244.4 443.2 236.0 444.6ZM253.9 444.3 249.0 445.0 247.8 450.5 257.2 450.5ZM274.9 448.5 274.3 447.4 270.0 445.2 265.1 449.6 265.4 450.5 274.2 450.5ZM308.8 449.8 306.5 446.8 306.0 446.4 304.1 450.5 308.8 450.5Z"/><path fill="#f53264" d="M259.8 386.4 265.1 387.3 265.6 386.5 265.1 384.7 258.5 384.7ZM312.6 384.7 306.6 384.7 305.1 388.5 310.3 394.1ZM332.7 388.1 340.7 388.7 339.4 384.7 331.7 384.7 331.8 385.4ZM237.9 401.0 239.8 389.9 239.7 389.6 236.7 389.3 235.3 390.2 235.0 391.1 235.0 397.2 236.7 400.5ZM260.5 395.7 264.5 393.4 264.8 388.1 259.7 387.3 256.2 391.8 258.3 394.6ZM317.8 390.0 317.9 386.5 313.5 385.0 311.2 394.3ZM353.8 385.8 348.1 392.0 354.8 394.7 356.4 393.1 356.4 387.5ZM235.7 400.6 235.0 399.2 235.0 400.8ZM285.9 399.3 282.7 395.4 282.1 395.4 278.6 399.1 283.9 404.5ZM300.6 400.6 309.4 394.5 304.4 389.1 303.8 389.2 299.7 400.0ZM332.4 400.9 338.7 402.9 334.5 396.1 329.9 395.9ZM345.0 399.9 351.6 402.7 353.3 401.5 354.4 395.5 347.2 392.7 344.4 393.0ZM249.5 407.0 256.4 405.1 257.5 403.3 250.2 399.6 249.9 399.7ZM286.7 399.7 284.6 405.4 284.5 406.2 291.2 406.3 292.6 400.9ZM321.4 404.3 316.9 403.0 316.8 407.1 319.8 410.3ZM328.9 396.1 328.6 396.1 324.4 403.7 329.4 408.7 330.2 408.5 331.7 401.3ZM353.8 402.3 352.0 403.5 351.9 404.4 353.7 410.5 356.4 410.7 356.4 403.0ZM235.7 412.0 242.2 414.5 247.0 410.3 247.3 409.5 239.6 406.0ZM276.0 407.8 275.3 408.5 278.1 415.5 284.3 415.5 282.2 408.8ZM316.7 408.3 316.0 413.2 319.1 414.1 319.5 411.4ZM329.6 409.6 328.9 411.2 330.9 416.4 335.6 414.8 336.4 409.6 330.6 409.4ZM336.5 415.1 338.6 421.4 339.7 421.7 343.2 412.6 342.8 411.9 338.4 408.9 337.3 409.4ZM356.4 417.6 356.4 411.6 353.6 411.4 351.1 415.9 351.6 417.7 356.1 418.2ZM244.5 421.4 248.4 418.3 247.1 411.4 242.7 415.3 241.9 421.6ZM272.7 419.0 268.1 421.3 268.1 421.5 268.7 423.5 275.5 426.4 277.3 425.1 277.3 425.0 274.0 419.4ZM330.2 417.0 328.2 411.9 321.7 416.4 321.9 417.9 323.5 420.7 330.0 421.2ZM240.4 423.9 241.0 422.1 235.0 419.1 235.0 427.3 237.0 427.3ZM240.7 424.9 237.7 427.9 240.1 433.4 245.8 432.4ZM268.7 424.4 267.1 432.0 273.6 429.4 274.9 427.1ZM287.5 425.7 281.4 427.7 282.5 432.7 289.8 432.6ZM339.5 428.4 340.7 425.6 340.5 423.4 339.7 422.7 338.2 422.2 332.3 423.3 331.2 429.1 335.2 431.5ZM343.8 434.8 345.5 429.3 341.3 426.3 340.3 428.7ZM291.7 434.5 294.1 438.4 296.7 438.7 303.0 431.8 301.1 430.0 296.4 430.2 291.6 433.8ZM301.8 442.6 304.4 432.9 304.1 432.4 303.8 432.3 297.5 439.1ZM334.8 432.3 330.7 429.8 325.0 432.8 325.0 435.9 333.5 438.3 335.4 435.5ZM343.5 436.4 343.4 436.1 339.7 429.4 335.7 432.2 336.2 435.2ZM235.0 438.0 235.0 440.9 235.8 443.7 243.6 442.4 239.0 435.6ZM248.0 443.1 248.8 444.1 254.0 443.4 254.7 442.9 258.6 437.8 256.3 435.5 248.4 434.9ZM288.2 443.7 291.3 443.1 293.3 438.8 291.2 435.3 284.2 440.7ZM258.2 450.5 260.4 450.5 263.4 449.3 260.8 446.6 255.1 443.7 254.8 444.0ZM275.2 447.1 275.7 448.2 281.0 450.5 284.3 450.5 284.6 449.4 280.7 441.7ZM264.3 449.9 262.8 450.5 264.5 450.5ZM275.6 449.1 275.2 450.5 278.8 450.5ZM296.2 450.5 297.2 450.5 296.8 450.0ZM326.7 450.2 321.0 449.6 320.5 450.5 326.9 450.5Z"/><path fill="#f33466" d="M283.2 386.1 285.4 384.7 279.5 384.7ZM318.2 385.6 319.0 384.7 315.5 384.7ZM341.8 389.0 341.8 389.1 346.8 384.7 340.4 384.7ZM259.0 386.8 257.4 384.7 253.3 384.7 249.8 387.0 250.4 388.5 255.5 391.2ZM240.5 391.1 238.9 400.3 244.6 397.1ZM324.0 393.5 315.8 401.4 316.6 402.0 322.0 403.5 323.5 403.4 327.7 395.8 325.1 393.6ZM342.0 391.3 335.4 395.8 339.8 403.0 344.1 400.0 343.5 392.8ZM239.0 405.4 237.7 401.8 236.4 401.3 235.0 401.8 235.0 411.3ZM247.1 397.5 245.4 397.7 238.6 401.6 238.5 401.6 239.8 405.1 247.6 408.7 248.6 407.4 249.1 399.4ZM292.0 406.7 293.0 408.8 299.3 408.9 300.8 402.9 300.3 401.4 298.9 400.6 295.6 399.5 293.6 400.8ZM309.0 406.8 301.6 403.5 300.1 409.3 301.8 412.2 303.2 412.4ZM331.1 408.5 336.8 408.7 338.0 408.1 339.1 404.0 332.5 401.8ZM258.2 414.7 259.9 413.4 256.5 406.0 249.3 408.0 248.3 409.3ZM277.3 415.8 274.5 408.9 270.7 410.3 273.0 418.2 274.2 418.5ZM290.6 416.3 300.7 413.1 301.0 412.6 299.4 409.8 293.0 409.7ZM309.3 417.4 312.6 413.7 309.4 407.6 304.1 412.8ZM260.7 413.9 258.7 415.5 256.7 421.1 256.9 422.0 260.6 423.3 267.2 421.2 267.3 421.1 262.7 413.6ZM278.0 416.4 274.9 419.1 277.8 424.2 284.9 416.5 284.7 416.4ZM301.8 413.1 301.4 413.7 300.1 420.9 301.7 422.1 308.8 420.2 308.9 418.2 303.2 413.3ZM332.1 422.4 337.7 421.4 335.7 415.7 331.1 417.3 330.9 421.4ZM249.7 427.6 244.5 422.3 241.8 422.5 241.3 424.1 246.8 432.2ZM267.9 423.8 267.3 422.1 261.3 424.0 264.5 430.5 266.1 432.3ZM309.0 421.0 302.0 422.9 301.7 429.4 303.9 431.4 304.3 431.5 308.2 428.5 309.1 421.1ZM310.0 421.6 309.1 428.5 314.8 430.2 317.3 428.5 313.0 422.7ZM323.6 421.6 321.3 428.4 324.7 432.0 330.3 429.0 331.5 423.1 330.3 422.1ZM248.2 434.0 256.0 434.6 255.5 429.1 254.2 426.5 250.6 428.0 247.5 432.8ZM256.4 429.6 256.9 434.9 259.4 437.3 262.6 436.9 265.0 436.4 265.7 433.2 263.9 431.1ZM305.0 432.1 305.3 432.6 311.1 438.1 312.7 437.8 314.3 431.0 308.7 429.3ZM349.3 436.5 350.4 429.5 346.3 429.6 344.3 436.0 344.4 436.7ZM352.0 428.5 351.3 429.2 350.2 436.7 351.2 437.4 356.3 435.8 356.4 435.5 356.4 429.5ZM260.7 445.5 262.1 437.8 259.5 438.1 255.7 443.0ZM264.4 449.0 264.4 449.0 269.4 444.5 267.7 439.9 265.3 437.2 263.0 437.7 261.5 446.1ZM285.1 448.5 287.5 444.3 283.3 441.1 281.4 440.9 281.3 440.9ZM302.4 444.6 301.8 443.7 296.7 439.6 294.1 439.3 292.1 443.5 292.1 443.5 297.2 447.7ZM305.8 445.4 310.4 438.7 305.1 433.7 302.6 443.3 303.4 444.4ZM326.6 449.3 326.9 446.0 323.1 438.9 318.6 440.8 318.2 445.0 318.4 446.2 321.0 448.6ZM334.2 438.9 334.8 441.4 337.9 444.2 341.7 443.4 343.6 437.3 336.1 436.1ZM352.7 443.6 356.4 443.7 356.4 436.7 351.6 438.2ZM285.5 449.6 285.2 450.5 290.8 450.5 291.3 444.0 288.4 444.6ZM296.7 448.4 292.1 444.7 291.7 450.5 294.8 450.5 296.4 449.1ZM298.3 450.5 303.1 450.5 305.1 446.1 303.1 445.3 297.6 448.5 297.3 449.3ZM336.3 450.0 336.6 450.5 341.5 450.5 344.0 446.2 341.9 444.3 338.1 445.1ZM349.2 448.6 344.8 446.7 342.5 450.5 349.6 450.5ZM352.5 444.5 350.0 448.3 350.6 450.5 355.4 450.5 355.5 450.5 355.6 450.5 355.7 450.5 355.8 450.4 355.9 450.4 356.0 450.3 356.0 450.3 356.1 450.2 356.2 450.1 356.2 450.1 356.3 450.0 356.3 449.9 356.4 449.8 356.4 449.7 356.4 449.6 356.4 449.5 356.4 444.6Z"/><g fill="#5a2870"><circle cx="298.3" cy="387.9" r="0.85"/><circle cx="255.5" cy="391.2" r="0.85"/><circle cx="259.7" cy="387.3" r="0.85"/><circle cx="347.1" cy="391.8" r="0.85"/><circle cx="276.4" cy="390.1" r="0.85"/><circle cx="288.1" cy="391.7" r="0.85"/><circle cx="303.8" cy="389.2" r="0.85"/><circle cx="324.0" cy="393.5" r="0.85"/><circle cx="354.4" cy="395.5" r="0.85"/><circle cx="248.6" cy="407.4" r="0.85"/><circle cx="260.7" cy="413.0" r="0.85"/><circle cx="266.3" cy="405.4" r="0.85"/><circle cx="283.6" cy="406.5" r="0.85"/><circle cx="291.2" cy="406.3" r="0.85"/><circle cx="316.9" cy="403.0" r="0.85"/><circle cx="328.6" cy="396.1" r="0.85"/><circle cx="344.6" cy="400.7" r="0.85"/><circle cx="259.9" cy="413.4" r="0.85"/><circle cx="270.7" cy="410.3" r="0.85"/><circle cx="319.1" cy="414.1" r="0.85"/><circle cx="321.2" cy="415.6" r="0.85"/><circle cx="330.9" cy="416.4" r="0.85"/><circle cx="351.2" cy="405.2" r="0.85"/><circle cx="267.2" cy="421.2" r="0.85"/><circle cx="289.5" cy="419.7" r="0.85"/><circle cx="315.5" cy="414.0" r="0.85"/><circle cx="321.9" cy="417.9" r="0.85"/><circle cx="237.7" cy="427.9" r="0.85"/><circle cx="264.5" cy="430.5" r="0.85"/><circle cx="290.8" cy="432.8" r="0.85"/><circle cx="294.0" cy="421.7" r="0.85"/><circle cx="314.8" cy="430.2" r="0.85"/><circle cx="276.9" cy="435.2" r="0.85"/><circle cx="274.5" cy="429.8" r="0.85"/><circle cx="290.8" cy="434.5" r="0.85"/><circle cx="333.5" cy="438.3" r="0.85"/><circle cx="349.3" cy="436.5" r="0.85"/><circle cx="248.4" cy="434.9" r="0.85"/><circle cx="281.4" cy="440.9" r="0.85"/><circle cx="296.7" cy="439.6" r="0.85"/><circle cx="310.4" cy="438.7" r="0.85"/><circle cx="349.4" cy="447.7" r="0.85"/></g>
<path d="M237.0 424.0 L237.9 424.2 L238.9 424.2 L240.2 424.1 L241.6 424.0 L243.1 423.8 L244.6 423.6 L246.1 423.4 L247.6 423.2 L249.0 423.0 L250.3 422.9 L251.4 422.7 L252.4 422.6 L253.4 422.4 L254.3 422.3 L255.2 422.2 L256.1 422.0 L257.1 421.9 L258.1 421.8 L259.1 421.6 L260.3 421.4 L261.5 421.3 L262.8 421.0 L264.2 420.8 L265.7 420.6 L267.2 420.3 L268.6 420.1 L270.1 419.9 L271.4 419.6 L272.7 419.4 L273.9 419.2 L275.1 419.0 L276.1 418.7 L277.1 418.5 L278.0 418.3 L278.9 418.1 L279.7 418.0 L280.6 417.8 L281.4 417.7 L282.2 417.6 L283.1 417.5 L284.1 417.5 L285.3 417.5 L286.5 417.6 L287.7 417.6 L288.9 417.7 L290.0 417.8 L291.0 417.8 L291.9 417.8 L292.6 417.6 L292.6 417.6 L292.0 417.2 L291.2 416.9 L290.2 416.5 L289.2 416.2 L288.0 415.9 L286.7 415.6 L285.5 415.4 L284.3 415.2 L283.1 415.1 L282.1 415.1 L281.2 415.1 L280.2 415.1 L279.3 415.2 L278.4 415.3 L277.5 415.5 L276.6 415.6 L275.6 415.7 L274.6 415.9 L273.5 416.0 L272.2 416.2 L270.9 416.4 L269.5 416.6 L268.1 416.8 L266.6 417.0 L265.1 417.2 L263.7 417.5 L262.3 417.7 L261.0 417.9 L259.7 418.2 L258.6 418.4 L257.5 418.5 L256.6 418.7 L255.6 418.9 L254.7 419.1 L253.8 419.3 L252.8 419.5 L251.9 419.7 L250.9 419.9 L249.7 420.1 L248.5 420.4 L247.1 420.7 L245.7 421.1 L244.2 421.5 L242.7 421.9 L241.2 422.3 L239.9 422.7 L238.7 423.1 L237.7 423.5 L237.0 424.0Z" fill="#fbeef3" opacity="1"/>
<path d="M300.0 388.6 L300.9 389.1 L302.0 389.3 L303.4 389.6 L304.9 389.9 L306.6 390.1 L308.3 390.4 L310.1 390.6 L311.9 390.8 L313.6 391.0 L315.3 391.1 L317.2 391.2 L319.2 391.4 L321.4 391.4 L323.5 391.5 L325.6 391.5 L327.6 391.5 L329.4 391.5 L330.8 391.3 L332.0 391.0 L332.0 391.0 L330.9 390.5 L329.5 390.2 L327.7 389.9 L325.8 389.6 L323.7 389.3 L321.5 389.0 L319.4 388.8 L317.4 388.6 L315.5 388.5 L313.8 388.4 L312.1 388.3 L310.3 388.2 L308.5 388.2 L306.7 388.1 L305.1 388.1 L303.5 388.1 L302.1 388.2 L300.9 388.3 L300.0 388.6Z" fill="#fbeef3" opacity="1"/>
<path d="M330.0 448.0 L331.2 447.8 L332.5 447.2 L334.0 446.5 L335.6 445.5 L337.3 444.5 L339.0 443.3 L340.6 442.2 L342.2 441.0 L343.7 439.9 L345.0 438.9 L346.3 437.9 L347.6 436.8 L348.8 435.7 L350.0 434.7 L351.1 433.6 L352.1 432.6 L353.0 431.7 L353.7 430.9 L354.0 430.0 L354.0 430.0 L353.0 430.1 L352.0 430.5 L350.9 431.0 L349.7 431.7 L348.4 432.4 L347.0 433.3 L345.6 434.2 L344.2 435.1 L342.8 436.1 L341.5 437.0 L340.1 438.1 L338.5 439.4 L336.9 440.7 L335.4 442.0 L333.9 443.3 L332.6 444.6 L331.4 445.8 L330.5 446.9 L330.0 448.0Z" fill="#fbeef3" opacity="1"/>
<path d="M301.2 426.0 L300.6 428.4 L300.4 430.9 L300.2 433.3 L300.1 435.7 L300.0 438.2 L299.9 440.6 L299.9 443.1 L299.8 445.5 L300.2 448.0 L300.2 448.0 L300.8 445.6 L301.0 443.1 L301.2 440.7 L301.3 438.3 L301.4 435.8 L301.5 433.4 L301.5 430.9 L301.6 428.5 L301.2 426.0Z" fill="#fbeef3" opacity="1"/>
<path d="M238.0 393.0 L238.7 393.3 L239.6 393.5 L240.7 393.7 L241.9 394.0 L243.2 394.2 L244.6 394.4 L246.0 394.6 L247.4 394.7 L248.7 394.8 L250.0 394.7 L251.5 394.6 L253.0 394.4 L254.6 394.1 L256.1 393.8 L257.6 393.4 L259.0 393.1 L260.2 392.7 L261.2 392.3 L262.0 392.0 L262.0 392.0 L261.2 392.0 L260.1 392.1 L258.8 392.2 L257.4 392.4 L255.9 392.6 L254.3 392.8 L252.8 393.0 L251.3 393.2 L250.0 393.3 L248.8 393.3 L247.4 393.3 L246.1 393.2 L244.7 393.1 L243.3 393.1 L242.0 393.0 L240.8 392.9 L239.7 392.9 L238.7 392.9 L238.0 393.0Z" fill="#fbeef3" opacity="1"/>
</g>
<rect x="342.5" y="442.6" width="7" height="1.3" fill="#111"/>
<rect x="238.0" y="387.7" width="115.4" height="59.8" filter="url(#nz1)" opacity="0.12"/>
</g>
<rect x="238.0" y="387.7" width="115.4" height="59.8" fill="none" stroke="#111" stroke-width="1.3"/>
<clipPath id="c4"><rect x="360.3" y="387.7" width="116.2" height="59.8"/></clipPath>
<g clip-path="url(#c4)"><rect x="360.3" y="387.7" width="116.2" height="59.8" fill="#f5cadb"/>
<g filter="url(#soft)">
<path fill="#ea2c56" d="M358.2 393.8 362.3 386.7 356.3 386.0 356.3 394.4ZM366.5 391.6 369.6 389.9 369.7 389.8 370.0 385.5 367.7 384.9 364.0 386.6 360.1 393.5ZM361.6 399.0 365.7 397.3 366.0 393.3 360.0 395.1 361.2 398.9ZM371.6 396.7 372.2 396.8 377.4 393.7 377.3 389.9 370.9 390.8ZM398.2 383.7 390.9 383.7 389.4 384.6 391.0 387.6ZM362.6 406.6 366.3 408.5 368.3 408.5 372.9 404.2 371.6 399.5ZM372.8 398.3 374.3 403.4 374.8 403.2 380.7 395.7 380.5 394.8 378.4 394.8 372.9 398.1ZM374.2 405.1 369.5 409.5 369.6 409.7 373.2 410.1 383.5 405.2 383.2 403.4 375.4 404.6ZM386.5 399.3 386.1 400.3 395.2 398.1 396.5 396.3 393.9 394.5 393.5 394.5ZM405.5 389.5 403.3 388.0 395.4 393.8 397.7 395.3 401.7 394.1ZM367.3 414.5 366.9 416.2 372.3 417.9 374.9 414.5 372.9 411.6 369.4 411.2ZM356.3 430.3 357.9 429.2 361.6 425.0 360.1 422.8 358.1 422.7 356.3 424.0 356.3 430.3ZM423.6 393.8 423.9 393.1 421.7 389.4 421.3 389.3 414.9 393.6 411.5 397.2 411.5 397.4 420.0 397.4ZM369.6 428.4 369.1 423.8 362.9 425.7 359.9 429.2 368.1 430.0ZM396.3 413.8 401.6 406.9 402.4 405.5 401.6 405.5 391.3 411.6ZM421.1 400.9 423.7 401.8 427.1 399.4 428.7 397.1 424.4 395.1 421.1 398.5ZM438.9 387.9 441.3 385.4 434.3 386.5 434.1 389.2ZM371.2 435.0 368.0 433.0 363.7 436.0 364.4 439.6ZM432.5 395.8 430.4 397.3 429.0 399.2 435.8 399.2 439.0 395.3ZM357.5 449.4 356.3 448.4 356.3 450.5 356.3 450.6 356.3 450.7 356.3 450.8 356.4 450.9 356.4 451.0 356.5 451.1 356.5 451.1 356.6 451.2 356.6 451.2ZM406.2 415.3 404.2 421.1 411.9 417.1 411.6 414.8ZM369.0 447.4 365.5 446.4 359.0 449.7 358.1 451.5 360.0 451.5ZM371.5 446.6 373.6 443.0 371.9 440.8 366.7 444.0 366.3 445.1 371.3 446.6ZM405.9 425.4 414.6 419.7 412.6 418.4 403.3 423.2ZM439.2 404.9 443.4 401.4 436.5 401.2 434.3 404.8ZM460.8 392.9 463.5 392.7 470.3 388.9 469.6 386.3 461.1 389.0 459.0 391.4ZM371.5 448.2 371.5 448.1 371.2 448.1 363.7 451.5 367.9 451.5ZM385.6 440.6 381.7 444.4 388.5 445.4 390.1 443.6 389.1 440.7 387.4 439.9ZM399.3 432.6 392.8 431.9 388.5 438.8 389.7 439.3 398.9 434.6 399.3 434.1ZM447.4 400.4 448.2 406.7 452.0 406.0 454.6 401.9 454.4 401.0 448.2 400.0 447.4 400.3ZM471.4 390.0 464.6 393.8 465.4 397.5 473.8 391.2 474.2 390.2ZM376.2 448.4 377.6 450.1 386.4 448.7 387.5 446.8 380.3 445.7ZM400.7 440.3 405.5 435.5 400.4 435.1 400.0 435.5 398.5 441.1ZM439.4 418.6 442.3 418.1 443.3 410.1 440.5 410.5 436.7 413.4 435.0 416.7ZM424.9 429.6 415.0 435.8 417.0 436.9 427.1 431.3 427.1 431.0ZM443.9 418.9 445.2 421.4 446.1 421.3 451.2 416.7 447.4 416.6ZM459.6 408.7 460.8 409.9 471.0 404.8 466.5 401.9ZM478.2 398.3 477.3 397.5 475.5 397.1 468.1 401.1 472.7 404.1 473.9 404.0 478.1 400.3ZM399.9 449.1 397.7 449.1 392.9 451.5 398.5 451.5ZM407.6 442.7 407.3 444.4 412.9 444.4 416.6 442.7 417.2 442.0 416.3 438.2 413.5 436.7ZM424.4 438.6 428.4 434.3 427.5 432.7 417.8 438.1 418.6 441.2ZM441.5 429.6 445.9 428.7 448.5 422.6 446.5 422.8 445.2 423.0 442.0 427.4ZM473.5 405.5 472.7 405.6 461.3 411.3 461.2 412.2 466.8 412.9 473.7 408.1ZM402.1 448.8 401.7 449.0 400.2 451.5 403.7 451.5ZM419.1 448.2 416.8 444.2 413.6 445.8 410.2 451.5 411.6 451.5ZM447.7 428.5 451.2 428.0 452.9 425.4 450.6 422.4 450.2 422.4ZM474.5 409.3 467.7 414.0 467.9 418.4 471.2 418.2 472.8 417.1 476.3 410.1ZM445.5 439.9 444.7 436.6 438.3 437.6 436.3 440.7 436.9 441.2 441.7 442.5ZM444.5 446.4 448.8 444.6 452.3 439.4 451.9 439.4 446.6 441.0 442.6 443.8 442.3 445.0ZM469.2 430.0 473.8 429.5 474.3 424.9ZM467.3 431.7 466.2 432.2 467.0 435.6 473.5 434.5 476.4 431.7 474.4 430.9ZM443.2 450.9 442.0 451.5 443.9 451.5Z"/><path fill="#ee2c58" d="M363.4 385.3 366.7 383.7 357.7 383.7 357.2 384.6ZM370.7 384.2 371.8 383.7 368.9 383.7ZM359.7 399.1 358.5 395.3 356.3 395.9 356.3 401.0ZM369.5 391.7 367.5 392.8 367.3 397.0 370.1 396.6ZM371.0 398.1 370.9 398.0 366.7 398.5 362.3 400.4 361.6 405.5ZM382.7 385.3 378.8 389.4 378.9 393.3 380.9 393.3 389.7 388.3 387.9 384.9 385.9 384.0ZM356.8 409.1 356.3 409.6 356.3 413.3 358.3 414.0 364.6 409.4 361.0 407.5 360.8 407.5ZM391.9 388.9 393.8 393.0 393.9 393.0 402.5 386.7 402.5 385.5 399.5 384.7ZM403.2 384.1 403.9 383.7 401.5 383.7ZM404.0 385.4 404.0 386.7 406.7 388.5 407.4 388.3 414.0 383.7 406.8 383.7ZM358.3 421.2 360.2 421.3 365.3 416.3 365.5 415.5 356.9 419.1ZM384.3 406.5 374.5 411.2 376.1 413.7 379.3 412.5 384.8 406.8ZM398.0 396.8 396.3 399.2 395.1 402.1 398.1 402.2 403.2 396.3 402.0 395.6ZM362.5 435.0 367.3 431.7 367.4 431.5 358.6 430.6 357.0 431.7 356.8 432.0 356.3 434.5 356.3 436.3ZM390.3 412.8 385.0 416.6 382.6 420.1 382.7 420.5 386.2 420.3 396.1 416.0 395.9 415.2ZM425.2 393.6 425.2 393.8 429.8 395.9 431.6 394.7 432.3 391.3ZM363.0 439.9 362.3 436.6 356.3 437.9 356.3 443.1ZM387.3 421.5 388.2 424.1 395.0 422.0 396.1 417.6ZM449.8 383.9 451.0 385.5 455.1 383.7 450.1 383.7ZM396.5 422.5 397.2 423.9 401.8 422.6 402.2 422.2 404.6 415.2 404.5 415.2 397.7 417.1ZM445.2 400.0 446.1 399.5 446.1 399.5 443.6 394.2 441.5 394.8 441.2 394.9 437.4 399.7ZM456.5 391.1 457.6 390.8 460.0 388.0 460.6 383.7 458.9 383.7 451.3 387.0 450.0 389.4ZM373.0 439.7 374.6 441.9 379.1 438.1 378.9 436.0 375.0 436.8ZM391.2 431.6 384.5 432.0 380.3 435.4 380.6 437.8 385.2 439.2 387.0 438.5ZM372.9 447.6 374.8 447.5 379.6 444.4 383.7 440.3 380.1 439.3 375.1 443.5 372.8 447.4ZM430.5 418.6 422.0 418.2 419.1 420.1 418.9 424.3 419.0 424.4 424.4 425.1ZM435.0 413.4 429.4 412.0 425.0 414.4 423.2 416.8 432.0 417.2 433.4 416.5ZM398.2 436.6 390.6 440.5 391.4 442.9 396.9 441.4ZM410.3 429.5 409.1 433.9 411.8 434.1 417.3 426.0ZM435.7 421.7 437.9 419.6 433.9 417.9 432.6 418.6 426.9 424.6ZM453.4 406.6 454.6 408.0 458.2 408.0 465.3 401.0 464.5 399.9 455.9 402.7ZM480.5 395.9 480.5 394.6 478.7 396.8 479.0 397.0ZM386.4 450.2 378.6 451.5 387.0 451.5ZM405.7 444.7 406.0 442.9 401.2 441.8 398.7 442.7 398.4 447.6 401.0 447.6 402.1 447.2ZM406.7 441.5 412.2 435.9 411.9 435.6 408.2 435.3 407.5 435.6 402.6 440.6ZM453.1 415.2 457.9 414.5 459.6 412.6 459.8 411.1 458.2 409.5 454.6 409.5 448.9 415.1ZM480.5 399.8 480.5 397.8 479.7 398.4 479.6 399.9ZM461.2 420.6 463.4 420.2 466.5 418.7 466.2 414.3 460.7 413.7 458.8 415.6 458.5 416.3ZM421.1 448.0 427.2 444.7 428.3 443.5 424.7 440.1 418.5 442.8 418.0 443.4 420.7 447.9ZM438.4 433.7 438.6 436.1 444.9 435.0 450.1 431.4 451.3 429.8 451.2 429.5 446.6 430.1 441.0 431.2ZM477.8 410.3 474.7 416.5 480.1 415.3 480.5 414.7 480.5 409.6ZM421.4 451.5 427.6 451.5 427.7 447.1 427.3 446.3 421.9 449.2ZM429.0 446.3 432.8 447.0 435.6 442.1 435.2 441.7 429.8 444.2 428.6 445.4ZM452.5 428.8 452.7 429.1 459.9 429.1 462.5 421.9 461.1 422.1 454.4 426.0ZM470.7 419.7 467.4 419.9 464.3 421.5 461.4 429.5 461.5 429.6 470.8 421.7ZM432.4 448.4 429.2 447.9 429.1 451.5 432.0 451.5 432.4 451.0ZM466.7 430.3 473.0 424.0 471.6 423.0 462.4 430.8 462.4 430.8 465.1 431.0ZM434.1 451.5 438.7 451.5 442.8 449.4 443.5 447.5 441.5 446.2ZM454.1 439.4 450.4 444.9 450.6 445.1 458.4 442.5 458.9 441.8 454.9 439.1ZM451.4 446.4 451.6 450.3 457.3 446.5 457.9 444.3ZM459.6 443.5 458.9 446.4 462.8 447.2 468.9 442.9 462.1 441.5 460.5 442.2ZM462.1 448.6 458.1 447.8 452.5 451.5 461.6 451.5ZM480.5 440.8 480.5 436.2 476.3 441.3ZM471.0 449.7 466.9 451.5 473.2 451.5ZM478.0 448.4 480.5 445.2 480.5 442.3 474.7 443.0 474.4 443.1 472.0 448.6 474.4 450.5Z"/><path fill="#f23864" d="M371.5 385.5 371.3 389.3 377.6 388.4 381.0 384.9 378.7 383.7 375.8 383.7ZM381.9 394.4 382.2 395.4 385.9 397.9 392.3 393.5 390.5 389.5ZM366.1 413.6 368.2 410.3 368.1 410.0 366.3 410.0 359.0 415.3 358.0 417.0ZM381.7 396.9 377.0 402.8 383.4 401.8 384.0 401.0 385.0 399.1ZM384.6 402.7 385.0 405.2 386.1 405.9 388.2 405.8 393.5 402.3 394.4 399.9 385.1 402.0ZM413.2 393.2 407.6 389.8 407.1 390.0 403.3 394.6 404.6 395.4 410.5 396.1ZM422.0 385.0 421.9 387.9 422.1 387.9 432.5 384.3 432.9 383.7 423.5 383.7ZM389.7 411.2 388.0 407.3 386.3 407.4 380.9 413.0 384.4 415.1 389.6 411.4ZM400.0 404.8 398.2 403.7 394.3 403.5 389.4 406.8 390.8 410.1ZM410.0 397.5 404.6 396.9 399.5 402.8 401.6 404.0 403.4 404.0 406.7 402.4 409.9 397.9ZM419.6 401.0 419.6 398.9 411.0 398.9 408.3 402.7 411.4 404.8ZM378.3 427.5 378.2 427.1 370.8 429.4 369.1 431.2 368.9 431.8 372.1 433.8ZM412.7 405.9 415.4 409.0 422.8 404.4 423.0 403.1 420.4 402.3ZM438.8 389.5 433.9 390.8 433.2 394.3 440.2 393.7ZM366.4 442.4 371.6 439.2 373.4 436.4 372.4 436.0 365.5 440.7ZM374.6 435.3 379.2 434.4 383.4 431.0 383.2 430.1 379.4 428.6 373.3 434.8ZM388.1 425.7 384.7 429.8 384.8 430.5 391.9 430.1 396.0 424.7 395.3 423.5ZM407.5 434.0 408.7 429.6 405.4 428.9 400.8 432.4 400.8 433.7 407.0 434.2ZM391.4 444.5 389.4 446.7 387.7 449.5 388.6 451.5 389.5 451.5 396.9 447.9 397.2 442.9ZM432.8 426.6 434.4 423.7 425.6 426.6 425.7 428.3 427.9 429.7ZM411.7 445.9 406.6 445.9 403.4 448.1 405.5 451.5 408.4 451.5ZM429.5 442.6 434.8 440.3 437.1 436.8 437.0 434.2 429.7 435.1 425.9 439.2ZM446.8 439.3 451.0 438.1 450.1 433.3 446.1 436.1ZM480.5 419.0 480.5 416.9 480.3 416.7 473.7 418.3 472.2 419.3 472.3 421.7 474.4 423.2 475.0 423.2 479.1 421.8ZM475.9 424.5 475.3 429.7 477.7 430.7 479.6 429.9 480.5 429.1 480.5 423.5 479.6 423.2ZM470.5 448.2 472.8 442.9 472.1 442.8 471.1 443.1 463.7 448.4 463.1 451.5 463.2 451.5ZM478.5 449.8 475.6 451.5 479.5 451.5 479.6 451.5 479.7 451.5 479.8 451.5 479.9 451.4 480.0 451.4 480.1 451.3 480.1 451.3 480.2 451.2 480.3 451.1 480.3 451.1 480.4 451.0 480.4 450.9Z"/><path fill="#e62650" d="M356.3 402.7 356.3 407.6 356.4 407.7 360.0 406.2 360.8 400.3 360.6 400.3ZM357.3 415.2 356.3 414.9 356.3 417.0ZM356.9 421.8 356.3 420.9 356.3 422.2ZM420.5 385.2 415.9 384.2 409.1 388.9 414.4 392.2 420.4 388.1ZM371.7 419.3 366.2 417.6 361.5 422.1 362.8 424.1 369.4 422.1 371.5 420.4ZM379.6 413.9 376.3 415.2 373.3 419.1 373.1 420.0 381.3 419.3 383.4 416.3ZM432.7 385.8 423.3 389.1 425.0 392.1 432.5 389.6 432.8 386.0ZM433.9 384.9 433.9 385.0 442.2 383.8 442.2 383.7 434.8 383.7ZM372.5 421.5 370.6 423.1 371.0 427.7 378.2 425.5 381.4 421.2 381.2 420.8ZM407.2 403.8 404.2 405.3 403.1 407.2 406.1 410.4 410.2 405.8ZM382.6 422.0 379.5 426.3 379.8 427.1 383.7 428.7 386.9 424.9 385.8 421.8ZM404.0 413.7 405.2 411.6 402.3 408.5 397.4 414.9 397.5 415.6ZM406.7 412.0 405.6 413.9 405.7 413.9 411.9 413.3 412.6 412.6 414.3 410.1 411.4 406.6ZM443.8 384.9 440.2 388.8 441.6 393.2 443.6 392.6 448.3 389.4 449.8 386.5 448.3 384.3 446.9 383.8 444.0 384.8ZM364.0 441.1 356.3 444.7 356.3 446.5 358.5 448.3 364.8 445.0 365.3 443.6 364.1 441.1ZM414.8 412.0 422.3 410.5 423.6 406.0 423.4 405.8 415.7 410.6ZM427.8 400.7 424.5 403.1 424.3 404.5 424.8 404.9 432.7 404.4 435.0 400.7ZM447.7 398.6 455.0 392.2 449.0 390.7 444.9 393.6 447.4 398.7ZM461.6 387.2 469.6 384.7 470.1 383.7 462.1 383.7ZM399.9 431.2 404.6 427.6 405.0 426.5 402.0 424.1 397.3 425.4 393.4 430.5ZM413.1 414.3 413.4 417.1 416.1 419.0 418.2 419.0 421.2 416.9 423.6 413.8 422.5 412.0 413.6 413.8ZM424.8 412.8 428.8 410.6 432.1 406.0 425.1 406.4 423.7 411.0ZM438.8 406.4 433.7 406.3 430.5 410.7 436.0 412.1 439.3 409.5ZM454.8 399.6 459.5 393.8 457.8 392.3 456.9 392.5 449.8 398.8ZM470.9 385.4 471.8 388.5 474.7 388.7 475.8 387.4 476.3 383.7 471.8 383.7ZM477.5 385.7 479.7 383.7 479.6 383.7 479.5 383.7 477.8 383.7ZM417.5 424.2 417.6 420.5 416.1 420.4 406.5 426.8 406.2 427.5 409.6 428.2ZM445.8 401.3 440.2 406.0 440.8 409.0 443.9 408.5 446.7 407.2 446.0 401.3ZM464.0 398.5 463.1 394.2 461.0 394.4 455.9 400.6 456.0 401.1ZM480.5 388.0 480.5 385.0 477.0 388.2 476.7 388.6ZM370.1 451.5 376.2 451.5 376.4 451.1 374.7 449.0 372.8 449.1ZM424.2 428.3 424.1 426.5 419.1 425.9 413.2 434.8 413.4 435.0ZM446.7 415.3 453.2 408.7 452.1 407.5 447.8 408.3 444.9 409.7 443.9 417.2ZM466.6 400.2 474.5 395.9 474.0 393.0 465.8 399.1ZM480.5 392.3 480.5 389.5 475.7 390.3 475.2 391.7 476.0 395.7 477.4 396.0ZM443.9 422.2 442.5 419.5 439.7 420.1 436.6 422.9 434.6 426.4 440.9 426.3ZM433.5 427.9 428.6 431.0 428.5 431.5 429.8 433.6 437.3 432.6 439.9 430.1 440.3 427.9ZM448.6 421.1 449.5 421.0 450.6 420.8 456.6 416.2 453.5 416.7ZM475.0 405.0 475.2 408.0 477.4 408.9 480.5 408.0 480.5 401.3 479.2 401.4ZM454.0 424.4 459.8 421.1 457.4 417.4 451.9 421.7ZM420.3 449.3 420.3 449.3 415.3 451.5 419.9 451.5ZM441.0 443.9 436.9 442.8 433.9 448.0 433.9 449.8 440.8 444.9ZM460.9 431.0 460.2 430.6 452.5 430.6 451.4 432.2 452.4 437.9 453.6 438.0 454.6 437.6 461.0 431.3ZM450.2 451.3 449.9 446.3 449.2 446.0 445.0 447.8 444.2 449.8 446.1 451.5 450.0 451.5ZM462.1 432.3 456.2 438.1 460.1 440.8 461.6 440.1 465.6 436.2 464.7 432.4ZM472.8 436.1 466.8 437.2 463.6 440.3 470.7 441.7 471.4 441.4ZM478.1 432.1 474.5 435.6 473.0 441.4 473.9 441.6 474.2 441.6 480.5 433.9 480.5 432.4 479.8 431.4ZM480.5 449.2 480.5 447.6 479.6 448.7Z"/><g fill="#5a2870"><circle cx="358.5" cy="395.3" r="0.85"/><circle cx="369.5" cy="391.7" r="0.85"/><circle cx="371.5" cy="385.5" r="0.85"/><circle cx="362.3" cy="400.4" r="0.85"/><circle cx="371.6" cy="396.7" r="0.85"/><circle cx="378.4" cy="394.8" r="0.85"/><circle cx="381.9" cy="394.4" r="0.85"/><circle cx="393.8" cy="393.0" r="0.85"/><circle cx="368.1" cy="410.0" r="0.85"/><circle cx="385.0" cy="399.1" r="0.85"/><circle cx="386.1" cy="400.3" r="0.85"/><circle cx="397.7" cy="395.3" r="0.85"/><circle cx="404.0" cy="385.4" r="0.85"/><circle cx="360.2" cy="421.3" r="0.85"/><circle cx="384.8" cy="406.8" r="0.85"/><circle cx="385.1" cy="402.0" r="0.85"/><circle cx="402.0" cy="395.6" r="0.85"/><circle cx="414.4" cy="392.2" r="0.85"/><circle cx="380.9" cy="413.0" r="0.85"/><circle cx="390.8" cy="410.1" r="0.85"/><circle cx="404.6" cy="396.9" r="0.85"/><circle cx="420.0" cy="397.4" r="0.85"/><circle cx="367.3" cy="431.7" r="0.85"/><circle cx="369.1" cy="423.8" r="0.85"/><circle cx="381.4" cy="421.2" r="0.85"/><circle cx="428.7" cy="397.1" r="0.85"/><circle cx="441.3" cy="385.4" r="0.85"/><circle cx="363.7" cy="436.0" r="0.85"/><circle cx="383.7" cy="428.7" r="0.85"/><circle cx="406.7" cy="412.0" r="0.85"/><circle cx="440.2" cy="393.7" r="0.85"/><circle cx="364.0" cy="441.1" r="0.85"/><circle cx="366.4" cy="442.4" r="0.85"/><circle cx="374.6" cy="435.3" r="0.85"/><circle cx="396.0" cy="424.7" r="0.85"/><circle cx="401.8" cy="422.6" r="0.85"/><circle cx="432.7" cy="404.4" r="0.85"/><circle cx="460.0" cy="388.0" r="0.85"/><circle cx="371.3" cy="446.6" r="0.85"/><circle cx="378.9" cy="436.0" r="0.85"/><circle cx="380.6" cy="437.8" r="0.85"/><circle cx="423.6" cy="413.8" r="0.85"/><circle cx="423.7" cy="411.0" r="0.85"/><circle cx="436.0" cy="412.1" r="0.85"/><circle cx="457.8" cy="392.3" r="0.85"/><circle cx="459.0" cy="391.4" r="0.85"/><circle cx="470.9" cy="385.4" r="0.85"/><circle cx="385.6" cy="440.6" r="0.85"/><circle cx="400.8" cy="432.4" r="0.85"/><circle cx="409.6" cy="428.2" r="0.85"/><circle cx="419.1" cy="420.1" r="0.85"/><circle cx="446.7" cy="407.2" r="0.85"/><circle cx="461.0" cy="394.4" r="0.85"/><circle cx="380.3" cy="445.7" r="0.85"/><circle cx="398.5" cy="441.1" r="0.85"/><circle cx="410.3" cy="429.5" r="0.85"/><circle cx="413.2" cy="434.8" r="0.85"/><circle cx="435.7" cy="421.7" r="0.85"/><circle cx="442.3" cy="418.1" r="0.85"/><circle cx="474.5" cy="395.9" r="0.85"/><circle cx="427.1" cy="431.3" r="0.85"/><circle cx="442.5" cy="419.5" r="0.85"/><circle cx="443.9" cy="418.9" r="0.85"/><circle cx="458.2" cy="409.5" r="0.85"/><circle cx="473.9" cy="404.0" r="0.85"/><circle cx="411.7" cy="445.9" r="0.85"/><circle cx="407.6" cy="442.7" r="0.85"/><circle cx="440.3" cy="427.9" r="0.85"/><circle cx="445.9" cy="428.7" r="0.85"/><circle cx="450.6" cy="420.8" r="0.85"/><circle cx="461.3" cy="411.3" r="0.85"/><circle cx="429.5" cy="442.6" r="0.85"/><circle cx="444.9" cy="435.0" r="0.85"/><circle cx="472.8" cy="417.1" r="0.85"/><circle cx="477.8" cy="410.3" r="0.85"/><circle cx="436.9" cy="441.2" r="0.85"/><circle cx="452.5" cy="428.8" r="0.85"/><circle cx="475.0" cy="423.2" r="0.85"/><circle cx="446.6" cy="441.0" r="0.85"/><circle cx="452.4" cy="437.9" r="0.85"/><circle cx="473.0" cy="424.0" r="0.85"/><circle cx="441.5" cy="446.2" r="0.85"/><circle cx="449.9" cy="446.3" r="0.85"/><circle cx="454.1" cy="439.4" r="0.85"/><circle cx="460.1" cy="440.8" r="0.85"/><circle cx="457.3" cy="446.5" r="0.85"/><circle cx="463.6" cy="440.3" r="0.85"/><circle cx="474.2" cy="441.6" r="0.85"/><circle cx="471.0" cy="449.7" r="0.85"/><circle cx="474.4" cy="443.1" r="0.85"/></g>
</g>
<rect x="464" y="442.6" width="7" height="1.3" fill="#111"/>
<rect x="360.3" y="387.7" width="116.2" height="59.8" filter="url(#nz1)" opacity="0.12"/>
</g>
<rect x="360.3" y="387.7" width="116.2" height="59.8" fill="none" stroke="#111" stroke-width="1.3"/>
<text x="230.88" y="516.3" font-size="11.7" font-weight="bold" fill="#000" textLength="9.95" lengthAdjust="spacingAndGlyphs" >H</text>
<text x="281.38" y="537.8" font-size="10.5" font-weight="normal" fill="#222" textLength="29.85" lengthAdjust="spacingAndGlyphs" >&#945;MCM</text>
<text x="392.91" y="536.3" font-size="10.5" font-weight="normal" fill="#222" textLength="47.70" lengthAdjust="spacingAndGlyphs" >&#945;MCM-Pon</text>
<text x="440.39" y="532.3" font-size="6.5" font-weight="normal" fill="#222" textLength="12.09" lengthAdjust="spacingAndGlyphs" >flox</text>
<text transform="translate(234.6,589.94) rotate(-90)" x="0" y="0" font-size="10.5" font-weight="normal" fill="#222" textLength="31.06" lengthAdjust="spacingAndGlyphs">Vehicle</text>
<text transform="translate(234.6,662.92) rotate(-90)" x="0" y="0" font-size="10.5" font-weight="normal" fill="#222" textLength="45.76" lengthAdjust="spacingAndGlyphs">Tamoxifen</text>
<clipPath id="c5"><rect x="241.6" y="546.2" width="114.8" height="59.1"/></clipPath>
<g clip-path="url(#c5)"><rect x="241.6" y="546.2" width="114.8" height="59.1" fill="#c0171b"/>
<rect x="241.6" y="546.2" width="114.8" height="59.1" filter="url(#nz1)" opacity="0.3"/>
<path d="M309.2 545.7 C315.2 545.0 349.3 538.0 357.3 545.7 C365.3 553.4 358.1 585.6 357.3 592.0 C356.6 598.4 354.4 587.1 352.9 584.0 C351.4 580.8 350.3 576.8 348.4 573.3 C346.5 569.7 344.0 565.6 341.3 562.6 C338.6 559.6 335.7 557.6 332.4 555.5 C329.1 553.3 325.6 551.4 321.7 549.8 C317.8 548.1 303.3 546.4 309.2 545.7Z" fill="#fbf8f8" opacity="1"/>
<path d="M248.0 546.5 L254.6 546.5 L255.3 553.8 L258.6 555.9 L264.1 555.2 L264.8 553.0 L263.4 546.5 L265.9 546.5 L267.4 553.0 L268.1 559.6 L271.4 563.2 L261.9 563.8 L254.6 561.8 L250.9 559.6 L250.2 555.9 L248.8 550.8Z" fill="#fbf4f4"/>
<path d="M241.8 546.8 L248.0 546.8 L249.5 550.8 L247.3 551.7 L242.9 551.0 L241.8 550.1Z" fill="#fbf4f4"/>
<path d="M242.2 566.2 L242.7 566.1 L243.4 566.1 L244.2 566.0 L245.2 565.9 L246.2 565.8 L247.2 565.7 L248.2 565.6 L249.2 565.5 L250.2 565.4 L251.0 565.3 L251.8 565.2 L252.6 565.2 L253.3 565.1 L254.0 565.0 L254.7 564.9 L255.4 564.8 L256.1 564.8 L256.8 564.7 L257.6 564.6 L258.3 564.6 L259.1 564.5 L260.0 564.4 L261.0 564.4 L261.9 564.4 L262.8 564.3 L263.7 564.3 L264.4 564.2 L265.1 564.2 L265.5 564.1 L265.5 564.1 L265.1 564.1 L264.4 564.0 L263.7 563.9 L262.8 563.9 L261.9 563.8 L261.0 563.7 L260.0 563.7 L259.1 563.7 L258.2 563.7 L257.5 563.7 L256.8 563.7 L256.1 563.8 L255.4 563.8 L254.6 563.9 L253.9 564.0 L253.2 564.1 L252.4 564.2 L251.7 564.3 L250.9 564.4 L250.0 564.5 L249.1 564.7 L248.1 564.9 L247.1 565.1 L246.1 565.3 L245.1 565.5 L244.2 565.7 L243.4 565.9 L242.7 566.0 L242.2 566.2Z" fill="#fbf4f4" opacity="1"/>
<path d="M241.2 559.9 C241.7 558.7 243.6 559.8 244.2 560.8 C244.9 561.8 245.6 565.0 245.1 566.2 C244.6 567.3 241.9 569.0 241.2 567.9 C240.6 566.9 240.7 561.1 241.2 559.9Z" fill="#fbf4f4" opacity="1"/>
<path d="M264.7 574.2 L265.5 574.3 L266.4 574.5 L267.6 574.7 L268.9 575.0 L270.2 575.2 L271.7 575.5 L273.1 575.7 L274.5 576.0 L275.9 576.2 L277.1 576.5 L278.2 576.7 L279.3 577.0 L280.4 577.2 L281.5 577.5 L282.6 577.7 L283.7 578.0 L284.7 578.3 L285.7 578.5 L286.7 578.8 L287.7 579.2 L288.6 579.5 L289.6 579.9 L290.6 580.4 L291.6 580.8 L292.6 581.3 L293.5 581.7 L294.4 582.1 L295.2 582.6 L296.0 583.0 L296.6 583.3 L297.3 583.7 L297.9 584.0 L298.4 584.3 L298.8 584.6 L299.2 584.9 L299.6 585.2 L299.8 585.4 L300.1 585.6 L300.3 585.7 L300.3 585.7 L300.1 585.6 L299.9 585.3 L299.7 585.1 L299.4 584.8 L299.0 584.4 L298.6 584.1 L298.1 583.7 L297.5 583.3 L296.9 582.8 L296.3 582.4 L295.5 582.0 L294.7 581.5 L293.9 581.0 L293.0 580.4 L292.0 579.9 L291.1 579.4 L290.1 578.9 L289.1 578.5 L288.1 578.1 L287.1 577.7 L286.0 577.4 L285.0 577.1 L284.0 576.8 L282.9 576.5 L281.8 576.3 L280.7 576.0 L279.6 575.8 L278.4 575.6 L277.3 575.4 L276.0 575.2 L274.7 575.0 L273.2 574.9 L271.8 574.7 L270.3 574.6 L268.9 574.4 L267.6 574.3 L266.5 574.3 L265.5 574.2 L264.7 574.2Z" fill="#fbf4f4" opacity="1"/>
<path d="M289.6 569.7 L290.3 569.9 L291.0 570.2 L292.0 570.4 L293.0 570.7 L294.1 571.1 L295.3 571.4 L296.6 571.8 L297.8 572.1 L299.0 572.5 L300.2 572.9 L301.4 573.3 L302.6 573.7 L303.9 574.2 L305.1 574.7 L306.4 575.1 L307.7 575.6 L309.0 576.1 L310.2 576.6 L311.4 577.0 L312.5 577.5 L313.6 577.9 L314.5 578.3 L315.4 578.7 L316.3 579.1 L317.2 579.5 L318.0 579.9 L318.9 580.4 L319.7 580.8 L320.5 581.3 L321.4 581.7 L322.5 582.3 L323.6 583.0 L324.8 583.8 L326.0 584.5 L327.1 585.3 L328.2 586.0 L329.2 586.6 L330.0 587.1 L330.6 587.5 L330.6 587.5 L330.0 587.0 L329.3 586.4 L328.4 585.7 L327.4 584.9 L326.3 584.0 L325.2 583.2 L324.1 582.3 L323.0 581.5 L322.0 580.8 L321.1 580.3 L320.3 579.8 L319.4 579.3 L318.6 578.8 L317.8 578.4 L316.9 577.9 L316.0 577.5 L315.1 577.1 L314.1 576.6 L313.1 576.2 L312.0 575.7 L310.8 575.3 L309.5 574.8 L308.2 574.3 L306.9 573.9 L305.6 573.4 L304.3 573.0 L303.0 572.6 L301.7 572.2 L300.5 571.9 L299.3 571.6 L298.0 571.3 L296.8 571.0 L295.5 570.7 L294.3 570.5 L293.1 570.3 L292.0 570.1 L291.1 569.9 L290.3 569.8 L289.6 569.7Z" fill="#fbf4f4" opacity="1"/>
<path d="M262.9 578.6 L263.6 578.8 L264.4 579.1 L265.4 579.4 L266.5 579.7 L267.6 580.0 L268.9 580.4 L270.1 580.7 L271.3 581.1 L272.4 581.5 L273.4 581.8 L274.4 582.2 L275.3 582.6 L276.2 583.0 L277.1 583.5 L278.0 583.9 L278.8 584.4 L279.7 584.8 L280.5 585.3 L281.3 585.8 L282.1 586.3 L282.9 586.9 L283.7 587.4 L284.5 588.0 L285.3 588.6 L286.0 589.2 L286.7 589.8 L287.4 590.4 L288.1 591.1 L288.7 591.7 L289.3 592.3 L289.9 592.9 L290.4 593.7 L291.0 594.4 L291.4 595.2 L291.9 596.0 L292.3 596.7 L292.6 597.3 L292.9 597.8 L293.2 598.2 L293.2 598.2 L293.0 597.8 L292.8 597.2 L292.6 596.5 L292.3 595.8 L291.9 595.0 L291.5 594.1 L291.1 593.3 L290.5 592.5 L290.0 591.7 L289.4 591.0 L288.9 590.3 L288.2 589.7 L287.5 589.0 L286.8 588.3 L286.1 587.6 L285.3 587.0 L284.5 586.3 L283.7 585.7 L282.9 585.2 L282.1 584.6 L281.2 584.1 L280.4 583.6 L279.5 583.1 L278.6 582.7 L277.7 582.2 L276.7 581.8 L275.8 581.4 L274.8 581.1 L273.8 580.7 L272.7 580.4 L271.6 580.1 L270.3 579.8 L269.1 579.6 L267.8 579.3 L266.6 579.1 L265.5 579.0 L264.4 578.8 L263.6 578.7 L262.9 578.6Z" fill="#fbf4f4" opacity="1"/>
<path d="M248.7 575.1 L249.4 575.3 L250.4 575.7 L251.6 576.0 L252.9 576.4 L254.3 576.9 L255.7 577.3 L257.1 577.8 L258.5 578.3 L259.8 578.8 L260.9 579.3 L261.9 579.7 L262.9 580.2 L263.8 580.7 L264.7 581.2 L265.5 581.8 L266.3 582.3 L267.1 582.9 L267.9 583.5 L268.7 584.1 L269.5 584.7 L270.3 585.3 L271.0 585.9 L271.8 586.6 L272.5 587.3 L273.2 588.0 L273.9 588.7 L274.6 589.5 L275.3 590.2 L275.9 590.9 L276.6 591.6 L277.2 592.3 L277.8 593.0 L278.4 593.7 L279.0 594.4 L279.5 595.0 L280.1 595.7 L280.6 596.4 L281.1 597.1 L281.6 597.8 L282.1 598.5 L282.6 599.3 L283.2 600.1 L283.7 601.0 L284.2 601.9 L284.6 602.8 L285.1 603.6 L285.5 604.3 L285.8 604.9 L286.1 605.3 L286.1 605.3 L285.9 604.8 L285.7 604.2 L285.4 603.4 L285.1 602.6 L284.7 601.6 L284.3 600.7 L283.9 599.7 L283.4 598.8 L282.9 598.0 L282.5 597.2 L282.1 596.5 L281.6 595.7 L281.1 595.0 L280.6 594.2 L280.1 593.5 L279.5 592.8 L279.0 592.0 L278.4 591.3 L277.8 590.6 L277.2 589.8 L276.5 589.1 L275.9 588.3 L275.2 587.6 L274.5 586.8 L273.7 586.1 L273.0 585.3 L272.2 584.6 L271.4 583.9 L270.6 583.3 L269.8 582.6 L269.0 582.0 L268.1 581.5 L267.3 580.9 L266.4 580.4 L265.5 579.8 L264.5 579.3 L263.5 578.9 L262.5 578.4 L261.4 578.0 L260.2 577.6 L258.9 577.2 L257.4 576.8 L255.9 576.4 L254.5 576.1 L253.0 575.8 L251.7 575.6 L250.5 575.4 L249.5 575.2 L248.7 575.1Z" fill="#fbf4f4" opacity="1"/>
<path d="M245.1 585.7 L245.5 586.0 L246.0 586.4 L246.6 586.7 L247.3 587.2 L248.0 587.6 L248.8 588.1 L249.6 588.6 L250.4 589.0 L251.1 589.5 L251.8 590.0 L252.5 590.5 L253.2 591.0 L253.9 591.5 L254.6 592.1 L255.3 592.6 L256.0 593.1 L256.7 593.7 L257.4 594.2 L258.0 594.8 L258.6 595.4 L259.2 596.0 L259.8 596.7 L260.4 597.4 L261.0 598.1 L261.6 598.8 L262.2 599.5 L262.7 600.2 L263.3 600.9 L263.8 601.5 L264.2 602.1 L264.7 602.7 L265.2 603.2 L265.6 603.7 L266.0 604.1 L266.3 604.5 L266.6 604.9 L266.9 605.2 L267.2 605.5 L267.4 605.7 L267.4 605.7 L267.3 605.4 L267.1 605.1 L266.9 604.7 L266.7 604.3 L266.5 603.8 L266.2 603.2 L265.9 602.7 L265.6 602.1 L265.2 601.4 L264.8 600.8 L264.4 600.1 L264.0 599.4 L263.5 598.6 L263.0 597.8 L262.5 597.0 L262.0 596.2 L261.4 595.4 L260.8 594.6 L260.1 593.9 L259.5 593.2 L258.8 592.6 L258.0 592.0 L257.3 591.5 L256.5 590.9 L255.8 590.4 L255.0 589.9 L254.2 589.5 L253.4 589.0 L252.7 588.6 L251.9 588.2 L251.0 587.8 L250.2 587.4 L249.3 587.1 L248.4 586.8 L247.6 586.5 L246.9 586.2 L246.2 586.0 L245.6 585.9 L245.1 585.7Z" fill="#fbf4f4" opacity="1"/>
<path d="M244.2 587.5 L244.2 588.1 L244.1 588.8 L244.1 589.6 L244.2 590.6 L244.2 591.6 L244.3 592.6 L244.4 593.7 L244.5 594.7 L244.6 595.7 L244.8 596.6 L245.0 597.7 L245.2 598.8 L245.4 600.0 L245.7 601.2 L246.0 602.3 L246.4 603.3 L246.7 604.3 L247.0 605.1 L247.3 605.7 L247.3 605.7 L247.4 605.0 L247.5 604.2 L247.6 603.2 L247.6 602.1 L247.6 600.9 L247.6 599.7 L247.5 598.5 L247.4 597.3 L247.2 596.2 L247.1 595.3 L246.8 594.3 L246.5 593.2 L246.2 592.2 L245.9 591.2 L245.5 590.3 L245.2 589.4 L244.8 588.7 L244.5 588.0 L244.2 587.5Z" fill="#fbf4f4" opacity="1"/>
<path d="M295.0 591.1 L295.6 591.4 L296.4 591.7 L297.4 592.2 L298.5 592.6 L299.7 593.1 L300.9 593.6 L302.1 594.1 L303.3 594.5 L304.5 594.9 L305.5 595.2 L306.5 595.5 L307.5 595.7 L308.4 595.9 L309.3 596.1 L310.2 596.2 L311.1 596.4 L312.0 596.5 L312.8 596.7 L313.6 596.9 L314.4 597.1 L315.1 597.4 L315.8 597.6 L316.6 598.0 L317.3 598.3 L318.0 598.7 L318.6 599.0 L319.3 599.4 L320.0 599.7 L320.8 600.1 L321.5 600.4 L322.3 600.8 L323.2 601.2 L324.2 601.6 L325.1 602.0 L326.0 602.4 L326.9 602.8 L327.7 603.1 L328.3 603.4 L328.8 603.6 L328.8 603.6 L328.4 603.3 L327.8 602.9 L327.1 602.5 L326.3 602.0 L325.4 601.5 L324.5 601.0 L323.6 600.5 L322.7 600.0 L321.9 599.5 L321.2 599.2 L320.6 598.8 L319.9 598.4 L319.2 597.9 L318.6 597.5 L317.9 597.1 L317.1 596.8 L316.4 596.4 L315.6 596.1 L314.8 595.8 L314.0 595.5 L313.1 595.3 L312.2 595.1 L311.3 595.0 L310.5 594.8 L309.6 594.7 L308.6 594.6 L307.7 594.4 L306.8 594.3 L305.8 594.1 L304.8 593.8 L303.6 593.5 L302.4 593.1 L301.2 592.8 L299.9 592.4 L298.7 592.1 L297.5 591.7 L296.5 591.5 L295.7 591.2 L295.0 591.1Z" fill="#fbf4f4" opacity="1"/>
<path d="M302.1 587.5 L302.5 587.8 L303.0 588.1 L303.6 588.4 L304.2 588.8 L304.9 589.2 L305.7 589.6 L306.5 590.1 L307.3 590.5 L308.2 591.0 L309.1 591.4 L310.0 591.9 L310.9 592.4 L311.9 592.9 L312.9 593.4 L313.9 593.9 L315.0 594.5 L316.2 594.9 L317.3 595.4 L318.6 595.7 L319.8 596.0 L321.4 596.3 L323.1 596.5 L324.9 596.6 L326.8 596.6 L328.6 596.6 L330.3 596.6 L331.9 596.5 L333.2 596.5 L334.2 596.4 L334.2 596.4 L333.2 596.3 L331.9 596.2 L330.4 596.1 L328.6 596.0 L326.8 595.9 L325.0 595.7 L323.2 595.5 L321.5 595.3 L320.0 595.0 L318.8 594.7 L317.7 594.4 L316.5 593.9 L315.4 593.5 L314.4 593.0 L313.3 592.5 L312.3 592.0 L311.3 591.6 L310.3 591.1 L309.4 590.7 L308.5 590.4 L307.6 590.0 L306.7 589.6 L305.9 589.2 L305.1 588.8 L304.4 588.5 L303.7 588.2 L303.1 587.9 L302.5 587.7 L302.1 587.5Z" fill="#fbf4f4" opacity="1"/>
<path d="M279.0 564.4 L279.7 564.5 L280.7 564.8 L281.8 565.0 L283.1 565.2 L284.5 565.5 L285.9 565.7 L287.4 566.0 L288.8 566.2 L290.1 566.4 L291.4 566.6 L292.7 566.8 L294.1 567.0 L295.5 567.2 L296.8 567.4 L298.2 567.5 L299.4 567.7 L300.5 567.8 L301.4 567.9 L302.1 567.9 L302.1 567.9 L301.4 567.7 L300.5 567.5 L299.4 567.3 L298.2 567.0 L296.9 566.7 L295.6 566.5 L294.2 566.2 L292.8 565.9 L291.5 565.7 L290.3 565.5 L288.9 565.3 L287.5 565.2 L286.0 565.0 L284.6 564.8 L283.2 564.7 L281.9 564.6 L280.7 564.5 L279.7 564.4 L279.0 564.4Z" fill="#fbf4f4" opacity="1"/>
<path d="M271.8 596.4 L272.2 596.8 L272.7 597.3 L273.3 597.9 L274.0 598.6 L274.8 599.2 L275.6 599.9 L276.4 600.6 L277.2 601.2 L277.9 601.8 L278.6 602.3 L279.3 602.8 L280.1 603.2 L280.8 603.7 L281.5 604.2 L282.2 604.6 L282.8 604.9 L283.4 605.2 L283.9 605.5 L284.3 605.7 L284.3 605.7 L284.0 605.4 L283.6 605.0 L283.1 604.5 L282.6 604.0 L282.0 603.5 L281.4 602.9 L280.7 602.4 L280.0 601.8 L279.3 601.3 L278.7 600.8 L277.9 600.2 L277.1 599.6 L276.2 599.0 L275.4 598.5 L274.5 597.9 L273.7 597.4 L273.0 597.0 L272.3 596.7 L271.8 596.4Z" fill="#fbf4f4" opacity="1"/>
<path d="M255.8 582.2 L256.3 582.7 L257.0 583.3 L257.8 584.0 L258.6 584.7 L259.6 585.6 L260.6 586.4 L261.6 587.3 L262.6 588.2 L263.5 589.0 L264.3 589.7 L265.1 590.5 L265.9 591.2 L266.7 591.8 L267.4 592.5 L268.2 593.2 L268.9 593.9 L269.6 594.5 L270.2 595.2 L270.8 596.0 L271.4 596.7 L272.0 597.6 L272.5 598.7 L273.0 599.8 L273.5 601.0 L274.0 602.2 L274.4 603.3 L274.8 604.3 L275.1 605.1 L275.4 605.7 L275.4 605.7 L275.2 605.0 L275.0 604.2 L274.8 603.1 L274.5 602.0 L274.2 600.8 L273.8 599.6 L273.4 598.3 L272.9 597.2 L272.3 596.1 L271.7 595.3 L271.1 594.5 L270.5 593.7 L269.8 593.0 L269.0 592.3 L268.3 591.6 L267.5 590.9 L266.7 590.2 L265.9 589.6 L265.1 588.9 L264.2 588.1 L263.2 587.4 L262.2 586.6 L261.1 585.8 L260.0 585.0 L259.0 584.3 L258.0 583.6 L257.1 583.0 L256.4 582.5 L255.8 582.2Z" fill="#fbf4f4" opacity="1"/>
<path d="M241.6 571.5 L242.0 571.6 L242.5 571.8 L243.2 571.9 L243.9 572.0 L244.6 572.2 L245.4 572.3 L246.3 572.5 L247.1 572.6 L247.9 572.8 L248.6 572.9 L249.4 573.1 L250.3 573.2 L251.2 573.4 L252.1 573.6 L253.0 573.8 L253.9 573.9 L254.7 574.0 L255.3 574.1 L255.8 574.2 L255.8 574.2 L255.4 574.0 L254.8 573.7 L254.0 573.4 L253.2 573.1 L252.3 572.8 L251.4 572.5 L250.5 572.3 L249.6 572.0 L248.8 571.9 L248.0 571.7 L247.2 571.6 L246.4 571.6 L245.5 571.5 L244.7 571.5 L243.9 571.4 L243.2 571.4 L242.5 571.4 L242.0 571.5 L241.6 571.5Z" fill="#fbf4f4" opacity="1"/>
<path d="M241.6 578.6 L241.9 578.8 L242.3 578.9 L242.7 579.1 L243.3 579.3 L243.8 579.5 L244.4 579.7 L245.0 579.9 L245.6 580.2 L246.2 580.5 L246.7 580.7 L247.3 581.0 L247.8 581.3 L248.3 581.7 L248.9 582.0 L249.4 582.4 L250.0 582.7 L250.5 583.1 L251.0 583.5 L251.4 583.9 L251.9 584.3 L252.3 584.8 L252.7 585.2 L253.1 585.7 L253.5 586.2 L253.8 586.7 L254.2 587.2 L254.5 587.8 L254.8 588.3 L255.1 588.9 L255.4 589.5 L255.7 590.2 L256.0 591.0 L256.3 591.9 L256.6 592.8 L256.8 593.7 L257.0 594.5 L257.2 595.3 L257.4 596.0 L257.6 596.4 L257.6 596.4 L257.5 595.9 L257.5 595.3 L257.4 594.5 L257.2 593.6 L257.1 592.7 L256.9 591.7 L256.7 590.8 L256.5 589.9 L256.2 589.1 L255.9 588.5 L255.7 587.9 L255.4 587.3 L255.0 586.7 L254.7 586.1 L254.3 585.6 L253.9 585.0 L253.5 584.5 L253.1 584.1 L252.6 583.6 L252.1 583.1 L251.6 582.7 L251.1 582.3 L250.5 581.9 L249.9 581.6 L249.4 581.2 L248.8 580.9 L248.2 580.6 L247.6 580.3 L247.1 580.1 L246.5 579.8 L245.9 579.6 L245.2 579.4 L244.6 579.2 L244.0 579.1 L243.4 579.0 L242.8 578.9 L242.3 578.8 L241.9 578.7 L241.6 578.6Z" fill="#fbf4f4" opacity="1"/>
<path d="M268.3 562.6 L268.9 562.7 L269.7 562.8 L270.7 563.0 L271.8 563.1 L273.0 563.3 L274.3 563.4 L275.5 563.5 L276.7 563.7 L277.9 563.8 L278.9 563.9 L280.0 564.1 L281.2 564.2 L282.3 564.4 L283.5 564.6 L284.6 564.8 L285.6 565.0 L286.5 565.1 L287.3 565.2 L287.9 565.3 L287.9 565.3 L287.3 565.1 L286.5 564.8 L285.7 564.6 L284.7 564.3 L283.6 564.0 L282.5 563.7 L281.3 563.5 L280.1 563.2 L279.0 563.0 L278.0 562.9 L276.8 562.8 L275.6 562.7 L274.3 562.6 L273.1 562.6 L271.9 562.6 L270.8 562.6 L269.8 562.6 L268.9 562.6 L268.3 562.6Z" fill="#fbf4f4" opacity="1"/>
<path d="M319.9 571.5 L320.8 571.9 L321.6 572.2 L322.5 572.4 L323.4 572.6 L324.3 572.8 L325.2 572.9 L326.1 573.0 L327.0 573.0 L327.9 572.9 L327.9 572.9 L327.1 572.5 L326.2 572.2 L325.3 572.0 L324.5 571.8 L323.6 571.6 L322.7 571.5 L321.8 571.4 L320.9 571.4 L319.9 571.5Z" fill="#fbf4f4" opacity="1"/>
<path d="M326.2 575.9 L326.9 576.3 L327.7 576.6 L328.4 576.8 L329.2 577.0 L330.0 577.2 L330.8 577.2 L331.6 577.3 L332.4 577.3 L333.3 577.2 L333.3 577.2 L332.5 576.8 L331.8 576.5 L331.0 576.3 L330.2 576.1 L329.4 576.0 L328.6 575.9 L327.8 575.9 L327.0 575.9 L326.2 575.9Z" fill="#fbf4f4" opacity="1"/>
<path d="M257.6 601.8 L257.6 602.4 L257.8 602.9 L258.0 603.4 L258.2 603.9 L258.5 604.3 L258.8 604.7 L259.3 605.1 L259.7 605.4 L260.3 605.7 L260.3 605.7 L260.2 605.1 L260.1 604.5 L259.9 604.0 L259.7 603.6 L259.4 603.1 L259.0 602.7 L258.6 602.4 L258.1 602.0 L257.6 601.8Z" fill="#fbf4f4" opacity="1"/>
<path d="M312.8 585.7 L313.3 586.1 L314.0 586.4 L314.8 586.9 L315.8 587.3 L316.8 587.8 L317.8 588.3 L318.8 588.8 L319.8 589.3 L320.7 589.7 L321.5 590.0 L322.3 590.4 L323.1 590.8 L323.8 591.2 L324.5 591.5 L325.1 591.9 L325.7 592.2 L326.2 592.5 L326.7 592.7 L327.0 592.9 L327.0 592.9 L326.7 592.6 L326.3 592.3 L325.9 591.9 L325.4 591.5 L324.8 591.1 L324.1 590.6 L323.4 590.2 L322.7 589.7 L321.9 589.3 L321.1 588.9 L320.2 588.5 L319.2 588.0 L318.1 587.6 L317.1 587.2 L316.0 586.8 L315.0 586.4 L314.1 586.1 L313.4 585.9 L312.8 585.7Z" fill="#fbf4f4" opacity="1"/>
<path d="M289.6 585.7 L290.0 586.1 L290.6 586.5 L291.2 586.9 L291.9 587.4 L292.7 588.0 L293.5 588.5 L294.3 589.1 L295.1 589.6 L295.8 590.1 L296.5 590.6 L297.1 591.1 L297.7 591.5 L298.2 591.9 L298.8 592.4 L299.3 592.8 L299.9 593.2 L300.4 593.6 L300.8 594.1 L301.3 594.5 L301.8 594.9 L302.3 595.5 L302.8 596.1 L303.3 596.7 L303.8 597.4 L304.2 598.1 L304.7 598.7 L305.1 599.2 L305.4 599.7 L305.7 600.0 L305.7 600.0 L305.5 599.6 L305.3 599.1 L305.0 598.5 L304.6 597.8 L304.3 597.1 L303.8 596.4 L303.4 595.7 L302.9 595.0 L302.4 594.4 L302.0 593.8 L301.5 593.3 L301.0 592.9 L300.5 592.4 L300.0 592.0 L299.5 591.5 L298.9 591.1 L298.3 590.6 L297.7 590.2 L297.1 589.8 L296.4 589.3 L295.6 588.9 L294.8 588.4 L293.9 587.9 L293.0 587.4 L292.2 587.0 L291.4 586.6 L290.7 586.2 L290.1 586.0 L289.6 585.7Z" fill="#fbf4f4" opacity="1"/>
<circle cx="305.7" cy="591.4" r="1.4" fill="#fbf4f4"/>
<ellipse cx="307.5" cy="558.1" rx="2.6" ry="3.6" fill="none" stroke="#f0eaf4" stroke-width="1.2" transform="rotate(30 307.5 558.1)"/>
<ellipse cx="340.4" cy="590.2" rx="1.8" ry="2.2" fill="none" stroke="#e8e0f0" stroke-width="1"/>
<rect x="344" y="598" width="6" height="1.2" fill="#222"/><rect x="343" y="600.5" width="8" height="1" fill="#333" opacity="0.6"/>
</g>
<rect x="241.6" y="546.2" width="114.8" height="59.1" fill="none" stroke="#111" stroke-width="1.3"/>
<clipPath id="c6"><rect x="365.9" y="546.2" width="114.5" height="59.1"/></clipPath>
<g clip-path="url(#c6)"><rect x="365.9" y="546.2" width="114.5" height="59.1" fill="#b3224a"/>
<rect x="365.9" y="546.2" width="114.5" height="59.1" filter="url(#nz1)" opacity="0.3"/>
<rect x="365.9" y="546.2" width="114.5" height="59.1" filter="url(#nzw)" opacity="0.35"/>
<path d="M449.3 545.7 C453.1 544.9 476.0 538.8 481.3 545.7 C486.7 552.5 481.8 581.1 481.3 586.6 C480.9 592.1 479.8 581.7 478.7 578.6 C477.5 575.5 476.1 571.5 474.2 567.9 C472.3 564.4 469.7 560.2 467.1 557.2 C464.4 554.3 461.1 552.1 458.2 550.1 C455.2 548.2 445.4 546.4 449.3 545.7Z" fill="#fbf9f9" opacity="1"/>
<path d="M365.8 585.2 C366.3 581.9 368.2 585.4 369.3 586.0 C370.3 586.6 371.4 587.5 372.3 588.7 C373.2 589.8 373.9 591.4 374.5 593.0 C375.2 594.6 375.5 596.2 376.3 598.3 C377.0 600.3 380.6 604.1 378.9 605.3 C377.1 606.5 367.9 608.7 365.8 605.3 C363.6 601.9 365.2 588.4 365.8 585.2Z" fill="#fbf9f9" opacity="1"/>
<path d="M365.2 553.7 C365.6 552.4 366.9 552.9 367.3 554.0 C367.8 555.2 368.1 559.6 367.7 560.8 C367.3 562.1 365.6 562.7 365.2 561.5 C364.8 560.3 364.8 554.9 365.2 553.7Z" fill="#fbf9f9" opacity="1"/>
<path d="M367.5 568.5 L367.9 568.4 L368.3 568.2 L368.9 568.0 L369.5 567.7 L370.1 567.4 L370.8 567.1 L371.4 566.7 L372.1 566.4 L372.7 566.0 L373.2 565.7 L373.8 565.4 L374.3 565.0 L374.7 564.7 L375.2 564.3 L375.6 563.9 L376.0 563.6 L376.5 563.2 L376.9 562.9 L377.3 562.6 L377.7 562.3 L378.1 562.0 L378.5 561.7 L378.9 561.4 L379.4 561.1 L379.8 560.8 L380.2 560.5 L380.7 560.2 L381.1 559.9 L381.4 559.6 L381.8 559.3 L382.2 559.0 L382.5 558.7 L382.8 558.5 L383.1 558.2 L383.4 557.9 L383.6 557.7 L383.8 557.5 L384.0 557.3 L384.1 557.1 L384.1 557.1 L383.9 557.2 L383.7 557.3 L383.4 557.4 L383.1 557.6 L382.8 557.7 L382.4 557.9 L382.0 558.1 L381.6 558.2 L381.2 558.4 L380.8 558.6 L380.4 558.8 L380.0 559.0 L379.5 559.2 L379.0 559.4 L378.6 559.7 L378.1 559.9 L377.6 560.2 L377.1 560.5 L376.6 560.8 L376.1 561.1 L375.7 561.4 L375.2 561.8 L374.8 562.1 L374.4 562.5 L374.0 562.9 L373.5 563.2 L373.1 563.6 L372.7 564.0 L372.3 564.3 L371.8 564.7 L371.3 565.2 L370.7 565.6 L370.1 566.1 L369.6 566.6 L369.1 567.0 L368.6 567.5 L368.1 567.9 L367.8 568.2 L367.5 568.5Z" fill="#fbf4f6" opacity="1"/>
<path d="M367.5 574.6 L367.8 574.5 L368.3 574.2 L368.8 574.0 L369.3 573.6 L369.9 573.3 L370.5 572.9 L371.2 572.6 L371.8 572.2 L372.4 571.8 L373.0 571.5 L373.5 571.2 L374.1 570.8 L374.6 570.5 L375.1 570.1 L375.7 569.8 L376.2 569.4 L376.7 569.1 L377.3 568.8 L377.8 568.5 L378.3 568.2 L378.8 567.9 L379.3 567.6 L379.9 567.3 L380.4 567.1 L380.9 566.8 L381.4 566.6 L381.9 566.3 L382.5 566.1 L383.0 565.8 L383.5 565.5 L384.1 565.3 L384.6 565.0 L385.1 564.7 L385.6 564.4 L386.1 564.1 L386.6 563.8 L387.1 563.5 L387.6 563.3 L388.1 563.0 L388.7 562.8 L389.3 562.5 L390.0 562.2 L390.8 562.0 L391.6 561.7 L392.3 561.4 L393.1 561.2 L393.7 561.0 L394.2 560.8 L394.6 560.6 L394.6 560.6 L394.2 560.7 L393.7 560.8 L393.0 560.9 L392.2 561.1 L391.5 561.2 L390.6 561.4 L389.8 561.6 L389.1 561.8 L388.4 562.0 L387.8 562.2 L387.2 562.4 L386.7 562.7 L386.1 562.9 L385.6 563.2 L385.1 563.4 L384.6 563.7 L384.0 564.0 L383.5 564.2 L383.0 564.5 L382.5 564.7 L382.0 565.0 L381.4 565.2 L380.9 565.5 L380.4 565.7 L379.8 566.0 L379.3 566.2 L378.8 566.5 L378.2 566.8 L377.7 567.1 L377.2 567.5 L376.7 567.8 L376.1 568.2 L375.6 568.5 L375.1 568.9 L374.6 569.3 L374.1 569.7 L373.5 570.1 L373.0 570.4 L372.5 570.8 L372.0 571.2 L371.4 571.6 L370.8 572.1 L370.3 572.5 L369.7 572.9 L369.1 573.4 L368.6 573.7 L368.2 574.1 L367.8 574.4 L367.5 574.6Z" fill="#fbf4f6" opacity="1"/>
<path d="M387.6 571.1 L388.1 570.9 L388.6 570.6 L389.2 570.2 L389.8 569.8 L390.5 569.3 L391.2 568.8 L391.9 568.3 L392.6 567.8 L393.2 567.4 L393.8 567.0 L394.4 566.7 L395.0 566.4 L395.6 566.0 L396.2 565.7 L396.8 565.4 L397.4 565.1 L397.9 564.8 L398.5 564.5 L399.1 564.2 L399.6 564.0 L400.2 563.8 L400.7 563.5 L401.3 563.3 L401.9 563.1 L402.5 563.0 L403.1 562.8 L403.6 562.6 L404.2 562.4 L404.8 562.3 L405.3 562.1 L405.8 561.9 L406.4 561.8 L407.0 561.6 L407.5 561.5 L408.0 561.3 L408.5 561.2 L408.9 561.1 L409.3 560.9 L409.5 560.8 L409.5 560.8 L409.2 560.7 L408.9 560.6 L408.5 560.5 L408.0 560.4 L407.4 560.3 L406.9 560.2 L406.3 560.1 L405.6 560.1 L405.0 560.0 L404.5 560.0 L403.9 560.0 L403.2 560.0 L402.6 560.1 L401.9 560.1 L401.2 560.2 L400.5 560.3 L399.8 560.4 L399.1 560.6 L398.4 560.8 L397.7 561.0 L397.0 561.3 L396.4 561.7 L395.7 562.0 L395.1 562.4 L394.4 562.8 L393.8 563.3 L393.2 563.7 L392.6 564.2 L392.0 564.7 L391.4 565.3 L390.8 566.0 L390.3 566.7 L389.8 567.4 L389.3 568.2 L388.8 568.9 L388.4 569.6 L388.1 570.2 L387.8 570.7 L387.6 571.1Z" fill="#fbf4f6" opacity="1"/>
<path d="M368.4 580.8 L368.8 580.6 L369.2 580.4 L369.8 580.1 L370.4 579.8 L371.1 579.4 L371.8 579.1 L372.6 578.7 L373.3 578.4 L374.0 578.0 L374.7 577.7 L375.4 577.3 L376.1 577.0 L376.8 576.7 L377.5 576.3 L378.2 576.0 L378.9 575.7 L379.7 575.3 L380.4 575.0 L381.1 574.7 L381.8 574.4 L382.5 574.1 L383.2 573.8 L383.9 573.5 L384.6 573.3 L385.3 573.0 L386.0 572.7 L386.6 572.5 L387.3 572.3 L388.0 572.0 L388.7 571.8 L389.4 571.6 L390.1 571.4 L390.8 571.2 L391.5 571.0 L392.2 570.8 L392.8 570.6 L393.5 570.4 L394.2 570.2 L394.9 570.0 L395.6 569.8 L396.4 569.6 L397.3 569.3 L398.2 569.1 L399.1 568.8 L399.9 568.5 L400.8 568.3 L401.5 568.0 L402.1 567.8 L402.5 567.6 L402.5 567.6 L402.0 567.7 L401.4 567.8 L400.7 567.9 L399.8 568.1 L399.0 568.3 L398.0 568.4 L397.1 568.6 L396.2 568.8 L395.4 569.0 L394.7 569.1 L394.0 569.2 L393.3 569.4 L392.6 569.5 L391.9 569.6 L391.2 569.8 L390.5 570.0 L389.8 570.1 L389.0 570.3 L388.3 570.5 L387.6 570.7 L386.9 570.9 L386.2 571.2 L385.5 571.4 L384.8 571.7 L384.1 572.0 L383.4 572.2 L382.7 572.5 L381.9 572.8 L381.2 573.2 L380.5 573.5 L379.8 573.8 L379.1 574.2 L378.4 574.6 L377.7 574.9 L377.0 575.3 L376.3 575.7 L375.6 576.1 L374.9 576.5 L374.3 576.9 L373.6 577.3 L372.9 577.7 L372.2 578.2 L371.6 578.6 L370.9 579.0 L370.3 579.5 L369.7 579.9 L369.2 580.2 L368.7 580.5 L368.4 580.8Z" fill="#fbf4f6" opacity="1"/>
<path d="M371.9 586.0 L372.3 585.9 L372.9 585.6 L373.5 585.4 L374.3 585.0 L375.0 584.7 L375.9 584.3 L376.7 584.0 L377.5 583.6 L378.3 583.2 L379.1 582.9 L379.8 582.6 L380.5 582.2 L381.2 581.9 L381.9 581.5 L382.6 581.2 L383.3 580.8 L384.0 580.5 L384.7 580.2 L385.4 579.9 L386.1 579.6 L386.8 579.3 L387.5 579.0 L388.2 578.7 L388.9 578.4 L389.6 578.2 L390.2 577.9 L390.9 577.7 L391.6 577.4 L392.3 577.2 L393.1 577.0 L393.8 576.7 L394.6 576.5 L395.4 576.3 L396.1 576.1 L396.9 575.9 L397.7 575.7 L398.5 575.5 L399.3 575.4 L400.1 575.2 L400.8 575.0 L401.7 574.8 L402.6 574.7 L403.5 574.5 L404.4 574.4 L405.2 574.2 L406.0 574.1 L406.7 574.0 L407.3 573.9 L407.8 573.8 L407.8 573.8 L407.3 573.8 L406.7 573.8 L406.0 573.8 L405.2 573.9 L404.3 573.9 L403.4 574.0 L402.5 574.1 L401.6 574.2 L400.7 574.3 L399.9 574.4 L399.2 574.5 L398.4 574.6 L397.5 574.8 L396.7 574.9 L395.9 575.1 L395.1 575.3 L394.3 575.4 L393.5 575.6 L392.7 575.8 L392.0 576.1 L391.3 576.3 L390.5 576.5 L389.8 576.8 L389.1 577.0 L388.4 577.3 L387.7 577.6 L387.0 577.9 L386.4 578.2 L385.7 578.5 L384.9 578.8 L384.2 579.2 L383.5 579.5 L382.8 579.9 L382.1 580.3 L381.5 580.6 L380.8 581.0 L380.1 581.4 L379.4 581.8 L378.7 582.2 L378.0 582.6 L377.2 583.0 L376.4 583.4 L375.6 583.9 L374.8 584.3 L374.1 584.7 L373.4 585.1 L372.8 585.5 L372.3 585.8 L371.9 586.0Z" fill="#fbf4f6" opacity="1"/>
<path d="M373.6 589.5 L374.1 589.4 L374.7 589.2 L375.5 589.0 L376.3 588.8 L377.2 588.5 L378.1 588.3 L379.1 588.0 L380.0 587.7 L380.8 587.5 L381.6 587.3 L382.4 587.1 L383.1 586.9 L383.8 586.8 L384.5 586.6 L385.2 586.5 L385.9 586.3 L386.6 586.2 L387.3 586.0 L388.0 585.9 L388.7 585.7 L389.4 585.6 L390.1 585.4 L390.7 585.2 L391.4 585.1 L392.1 584.9 L392.8 584.7 L393.5 584.6 L394.2 584.4 L394.9 584.2 L395.7 584.0 L396.4 583.9 L397.2 583.7 L398.0 583.5 L398.8 583.3 L399.6 583.1 L400.3 582.9 L401.1 582.7 L401.9 582.5 L402.7 582.4 L403.5 582.2 L404.3 582.1 L405.1 582.0 L405.8 581.9 L406.6 581.8 L407.4 581.7 L408.2 581.6 L409.0 581.5 L409.8 581.4 L410.6 581.3 L411.3 581.1 L412.2 580.9 L413.1 580.7 L414.0 580.4 L414.9 580.2 L415.7 579.9 L416.5 579.6 L417.2 579.4 L417.8 579.2 L418.3 579.0 L418.3 579.0 L417.8 579.1 L417.2 579.2 L416.5 579.4 L415.7 579.6 L414.8 579.8 L413.9 579.9 L413.0 580.1 L412.1 580.3 L411.2 580.4 L410.5 580.5 L409.7 580.6 L408.9 580.6 L408.2 580.7 L407.4 580.7 L406.6 580.8 L405.7 580.8 L404.9 580.9 L404.1 581.0 L403.3 581.1 L402.5 581.2 L401.7 581.3 L400.9 581.5 L400.1 581.7 L399.3 581.9 L398.5 582.0 L397.7 582.2 L396.9 582.4 L396.1 582.6 L395.4 582.8 L394.6 582.9 L393.9 583.1 L393.2 583.3 L392.5 583.5 L391.8 583.7 L391.1 583.8 L390.4 584.0 L389.8 584.2 L389.1 584.4 L388.4 584.6 L387.7 584.8 L387.0 584.9 L386.3 585.1 L385.6 585.3 L385.0 585.5 L384.3 585.7 L383.6 585.9 L382.9 586.1 L382.1 586.3 L381.4 586.5 L380.6 586.8 L379.8 587.1 L378.9 587.4 L378.0 587.8 L377.1 588.1 L376.2 588.5 L375.4 588.8 L374.7 589.1 L374.1 589.3 L373.6 589.5Z" fill="#fbf4f6" opacity="1"/>
<path d="M378.0 593.0 L378.4 593.0 L379.0 592.9 L379.6 592.8 L380.4 592.7 L381.1 592.5 L382.0 592.4 L382.8 592.2 L383.6 592.1 L384.4 591.9 L385.1 591.8 L385.8 591.6 L386.6 591.5 L387.3 591.4 L388.0 591.2 L388.7 591.1 L389.4 590.9 L390.1 590.8 L390.8 590.6 L391.5 590.5 L392.2 590.3 L392.9 590.1 L393.6 590.0 L394.3 589.8 L395.0 589.6 L395.7 589.4 L396.4 589.3 L397.1 589.1 L397.8 588.9 L398.5 588.8 L399.2 588.6 L399.9 588.5 L400.6 588.4 L401.2 588.3 L401.9 588.2 L402.6 588.1 L403.3 588.0 L404.0 587.9 L404.7 587.8 L405.4 587.8 L406.1 587.7 L406.8 587.6 L407.5 587.5 L408.2 587.5 L408.9 587.4 L409.6 587.3 L410.3 587.3 L411.0 587.2 L411.7 587.1 L412.4 587.0 L413.1 587.0 L413.9 586.9 L414.8 586.8 L415.7 586.7 L416.6 586.5 L417.4 586.4 L418.2 586.3 L419.0 586.2 L419.6 586.1 L420.0 586.0 L420.0 586.0 L419.6 586.0 L418.9 586.0 L418.2 586.0 L417.4 586.0 L416.5 586.0 L415.6 586.0 L414.7 586.0 L413.8 586.0 L413.0 586.0 L412.3 586.0 L411.6 586.0 L410.9 586.0 L410.2 586.0 L409.5 586.0 L408.8 586.0 L408.1 586.0 L407.4 586.1 L406.7 586.1 L406.0 586.1 L405.3 586.2 L404.6 586.2 L403.8 586.3 L403.1 586.4 L402.4 586.4 L401.7 586.5 L401.0 586.6 L400.3 586.7 L399.6 586.8 L398.9 586.9 L398.1 587.1 L397.4 587.2 L396.7 587.4 L396.0 587.6 L395.3 587.8 L394.6 588.0 L393.9 588.2 L393.2 588.4 L392.5 588.6 L391.8 588.8 L391.1 589.0 L390.4 589.2 L389.7 589.4 L389.1 589.6 L388.4 589.8 L387.7 590.0 L387.0 590.2 L386.3 590.4 L385.6 590.6 L384.9 590.8 L384.2 591.0 L383.4 591.3 L382.6 591.5 L381.8 591.8 L381.0 592.0 L380.3 592.3 L379.6 592.5 L378.9 592.7 L378.4 592.9 L378.0 593.0Z" fill="#fbf4f6" opacity="1"/>
<path d="M379.8 596.5 L380.2 596.5 L380.7 596.5 L381.4 596.5 L382.1 596.5 L382.9 596.4 L383.7 596.4 L384.5 596.3 L385.3 596.2 L386.1 596.2 L386.8 596.1 L387.6 595.9 L388.3 595.8 L389.0 595.6 L389.7 595.5 L390.4 595.3 L391.1 595.1 L391.8 594.9 L392.5 594.8 L393.2 594.6 L393.9 594.5 L394.6 594.4 L395.3 594.3 L396.0 594.2 L396.7 594.1 L397.4 594.0 L398.0 593.9 L398.7 593.8 L399.4 593.7 L400.1 593.7 L400.8 593.6 L401.5 593.6 L402.2 593.5 L402.9 593.5 L403.6 593.5 L404.3 593.5 L405.0 593.5 L405.7 593.5 L406.4 593.5 L407.1 593.5 L407.8 593.4 L408.6 593.4 L409.5 593.4 L410.4 593.3 L411.3 593.3 L412.2 593.2 L413.0 593.2 L413.7 593.1 L414.3 593.1 L414.8 593.0 L414.8 593.0 L414.3 593.0 L413.7 592.9 L413.0 592.9 L412.2 592.8 L411.3 592.8 L410.4 592.8 L409.5 592.7 L408.6 592.7 L407.8 592.6 L407.1 592.6 L406.4 592.6 L405.7 592.5 L405.0 592.5 L404.3 592.5 L403.6 592.4 L402.9 592.4 L402.2 592.4 L401.5 592.4 L400.7 592.5 L400.0 592.5 L399.3 592.5 L398.6 592.6 L397.9 592.7 L397.2 592.8 L396.5 592.9 L395.8 593.0 L395.1 593.1 L394.4 593.2 L393.7 593.3 L392.9 593.5 L392.2 593.7 L391.5 593.9 L390.8 594.1 L390.1 594.3 L389.4 594.5 L388.7 594.7 L388.1 594.9 L387.4 595.1 L386.7 595.3 L386.0 595.4 L385.2 595.6 L384.4 595.7 L383.6 595.9 L382.8 596.0 L382.0 596.1 L381.3 596.2 L380.7 596.3 L380.2 596.4 L379.8 596.5Z" fill="#fbf4f6" opacity="1"/>
<path d="M381.5 600.0 L382.0 600.0 L382.7 599.9 L383.5 599.8 L384.4 599.6 L385.4 599.5 L386.4 599.3 L387.4 599.1 L388.4 599.0 L389.4 598.8 L390.3 598.7 L391.2 598.6 L392.1 598.5 L393.0 598.5 L393.9 598.4 L394.8 598.4 L395.7 598.3 L396.6 598.2 L397.4 598.2 L398.3 598.1 L399.1 598.0 L399.9 597.9 L400.6 597.8 L401.3 597.7 L402.0 597.6 L402.7 597.5 L403.4 597.4 L404.1 597.3 L404.7 597.2 L405.4 597.2 L406.1 597.1 L406.7 597.1 L407.4 597.0 L408.1 597.0 L408.8 597.0 L409.5 597.0 L410.2 597.0 L410.9 597.0 L411.6 597.0 L412.3 597.0 L413.1 596.9 L413.9 596.8 L414.8 596.7 L415.7 596.5 L416.6 596.4 L417.4 596.2 L418.2 596.1 L419.0 595.9 L419.6 595.8 L420.0 595.7 L420.0 595.7 L419.6 595.7 L418.9 595.7 L418.2 595.8 L417.4 595.9 L416.5 595.9 L415.6 596.0 L414.7 596.1 L413.8 596.1 L413.0 596.2 L412.3 596.2 L411.6 596.2 L410.9 596.1 L410.2 596.1 L409.5 596.1 L408.8 596.0 L408.1 596.0 L407.4 596.0 L406.7 596.0 L406.0 596.0 L405.3 596.0 L404.6 596.1 L403.9 596.1 L403.2 596.2 L402.6 596.3 L401.9 596.4 L401.2 596.5 L400.5 596.6 L399.7 596.7 L399.0 596.8 L398.2 596.9 L397.3 597.0 L396.5 597.1 L395.6 597.2 L394.7 597.2 L393.8 597.3 L392.9 597.4 L392.0 597.6 L391.1 597.7 L390.2 597.9 L389.3 598.0 L388.3 598.2 L387.3 598.5 L386.3 598.7 L385.3 599.0 L384.3 599.2 L383.5 599.5 L382.7 599.7 L382.0 599.9 L381.5 600.0Z" fill="#fbf4f6" opacity="1"/>
<path d="M387.6 603.5 L388.1 603.5 L388.7 603.4 L389.5 603.2 L390.3 603.1 L391.1 602.9 L392.1 602.8 L393.0 602.6 L393.9 602.4 L394.8 602.3 L395.6 602.2 L396.4 602.1 L397.2 602.0 L397.9 601.9 L398.7 601.9 L399.5 601.8 L400.3 601.7 L401.1 601.7 L401.9 601.6 L402.7 601.5 L403.5 601.4 L404.2 601.4 L405.0 601.3 L405.8 601.2 L406.6 601.1 L407.3 601.0 L408.1 600.9 L408.9 600.8 L409.7 600.7 L410.5 600.6 L411.3 600.5 L412.3 600.3 L413.4 600.2 L414.5 600.0 L415.6 599.9 L416.7 599.7 L417.8 599.5 L418.7 599.4 L419.5 599.3 L420.0 599.2 L420.0 599.2 L419.4 599.2 L418.7 599.2 L417.7 599.2 L416.7 599.3 L415.6 599.3 L414.4 599.4 L413.3 599.5 L412.2 599.6 L411.2 599.6 L410.4 599.7 L409.6 599.8 L408.8 599.8 L408.0 599.9 L407.2 600.0 L406.5 600.1 L405.7 600.1 L404.9 600.2 L404.1 600.3 L403.3 600.4 L402.6 600.5 L401.8 600.6 L401.0 600.6 L400.2 600.7 L399.4 600.8 L398.6 600.9 L397.8 601.0 L397.0 601.1 L396.3 601.3 L395.5 601.4 L394.6 601.6 L393.8 601.8 L392.8 602.0 L391.9 602.3 L391.0 602.5 L390.2 602.8 L389.4 603.0 L388.7 603.2 L388.1 603.4 L387.6 603.5Z" fill="#fbf4f6" opacity="1"/>
<path d="M389.4 551.9 L389.4 552.2 L389.5 552.5 L389.7 552.9 L389.8 553.3 L390.0 553.7 L390.2 554.1 L390.4 554.6 L390.6 555.0 L390.9 555.5 L391.1 555.9 L391.3 556.5 L391.6 557.1 L392.0 557.8 L392.4 558.5 L392.9 559.1 L393.4 559.8 L393.8 560.3 L394.3 560.8 L394.6 561.1 L394.6 561.1 L394.7 560.6 L394.6 560.0 L394.5 559.3 L394.4 558.5 L394.2 557.7 L394.0 556.9 L393.7 556.1 L393.3 555.4 L393.0 554.8 L392.6 554.4 L392.3 553.9 L391.9 553.5 L391.5 553.2 L391.1 552.9 L390.7 552.6 L390.3 552.3 L390.0 552.1 L389.7 552.0 L389.4 551.9Z" fill="#fbf4f6" opacity="1"/>
<path d="M377.1 552.8 L377.3 553.0 L377.5 553.3 L377.7 553.6 L378.1 553.9 L378.4 554.2 L378.8 554.5 L379.2 554.8 L379.6 555.0 L380.1 555.2 L380.5 555.3 L381.0 555.3 L381.5 555.1 L381.9 555.0 L382.2 554.7 L382.5 554.5 L382.8 554.2 L383.0 554.0 L383.1 553.8 L383.3 553.6 L383.3 553.6 L383.0 553.6 L382.8 553.6 L382.5 553.7 L382.1 553.7 L381.8 553.8 L381.5 553.8 L381.2 553.8 L380.9 553.8 L380.7 553.7 L380.5 553.7 L380.2 553.6 L379.9 553.4 L379.5 553.3 L379.0 553.1 L378.6 553.0 L378.2 552.9 L377.8 552.8 L377.4 552.8 L377.1 552.8Z" fill="#fbf4f6" opacity="1"/>
<path d="M418.3 547.5 L418.4 547.9 L418.5 548.3 L418.7 548.8 L419.0 549.4 L419.3 550.0 L419.7 550.6 L420.0 551.1 L420.4 551.6 L420.8 552.1 L421.2 552.4 L421.6 552.8 L422.0 553.1 L422.4 553.3 L422.8 553.5 L423.2 553.7 L423.6 553.8 L423.9 553.9 L424.2 554.0 L424.4 554.1 L424.4 554.1 L424.3 553.8 L424.2 553.6 L424.0 553.3 L423.7 553.0 L423.5 552.7 L423.2 552.4 L423.0 552.0 L422.7 551.7 L422.4 551.3 L422.1 550.9 L421.8 550.5 L421.4 550.1 L420.9 549.6 L420.4 549.1 L420.0 548.7 L419.5 548.3 L419.0 547.9 L418.6 547.7 L418.3 547.5Z" fill="#fbf4f6" opacity="1"/>
<path d="M406.0 556.3 L406.4 556.7 L407.0 557.3 L407.6 557.9 L408.4 558.7 L409.2 559.5 L410.0 560.3 L410.8 561.2 L411.5 562.0 L412.2 562.7 L412.8 563.4 L413.4 564.1 L413.9 564.7 L414.4 565.3 L414.8 565.9 L415.2 566.5 L415.6 567.0 L416.0 567.6 L416.4 568.2 L416.8 568.9 L417.1 569.5 L417.4 570.3 L417.7 571.0 L418.0 571.8 L418.3 572.6 L418.6 573.4 L418.8 574.3 L419.1 575.1 L419.3 575.9 L419.5 576.6 L419.7 577.4 L420.0 578.0 L420.2 578.7 L420.3 579.3 L420.5 579.9 L420.7 580.5 L420.9 581.1 L421.0 581.7 L421.2 582.3 L421.4 582.9 L421.6 583.5 L421.9 584.2 L422.1 584.9 L422.4 585.7 L422.7 586.5 L423.0 587.3 L423.3 588.0 L423.6 588.6 L423.8 589.1 L424.0 589.5 L424.0 589.5 L423.9 589.1 L423.7 588.6 L423.5 587.9 L423.2 587.2 L423.0 586.4 L422.7 585.6 L422.4 584.8 L422.2 584.1 L422.0 583.3 L421.8 582.7 L421.6 582.1 L421.5 581.6 L421.3 581.0 L421.2 580.4 L421.0 579.8 L420.9 579.2 L420.7 578.5 L420.5 577.9 L420.3 577.2 L420.1 576.5 L419.9 575.7 L419.7 574.9 L419.5 574.1 L419.2 573.2 L419.0 572.4 L418.7 571.6 L418.4 570.8 L418.1 570.0 L417.7 569.2 L417.4 568.5 L417.0 567.9 L416.6 567.3 L416.2 566.7 L415.8 566.1 L415.3 565.5 L414.8 564.9 L414.3 564.3 L413.8 563.7 L413.2 563.1 L412.6 562.4 L411.9 561.6 L411.1 560.9 L410.2 560.1 L409.4 559.3 L408.5 558.5 L407.8 557.8 L407.1 557.2 L406.5 556.7 L406.0 556.3Z" fill="#fbf4f6" opacity="1"/>
<path d="M367.5 557.1 L367.7 557.2 L368.0 557.2 L368.3 557.2 L368.7 557.2 L369.1 557.2 L369.5 557.1 L370.0 557.1 L370.4 557.0 L370.8 556.9 L371.2 556.7 L371.6 556.6 L372.1 556.4 L372.5 556.1 L372.9 555.8 L373.4 555.5 L373.7 555.2 L374.0 555.0 L374.3 554.7 L374.5 554.5 L374.5 554.5 L374.2 554.6 L373.9 554.6 L373.5 554.8 L373.0 554.9 L372.6 555.1 L372.1 555.3 L371.6 555.4 L371.2 555.6 L370.8 555.8 L370.5 555.9 L370.1 556.0 L369.7 556.2 L369.3 556.3 L369.0 556.5 L368.6 556.6 L368.3 556.8 L367.9 556.9 L367.7 557.0 L367.5 557.1Z" fill="#fbf4f6" opacity="1"/>
<path d="M419.0 546.6 L419.3 547.0 L419.6 547.5 L420.1 548.1 L420.6 548.8 L421.1 549.5 L421.7 550.3 L422.3 551.2 L422.9 552.1 L423.5 553.0 L424.1 553.9 L424.7 554.8 L425.4 555.8 L426.1 556.9 L426.8 558.0 L427.5 559.2 L428.3 560.3 L429.0 561.5 L429.7 562.6 L430.4 563.6 L431.0 564.7 L431.6 565.6 L432.2 566.6 L432.8 567.5 L433.3 568.4 L433.8 569.3 L434.4 570.1 L434.9 571.0 L435.3 571.8 L435.8 572.7 L436.2 573.6 L436.7 574.4 L437.1 575.3 L437.4 576.1 L437.8 577.0 L438.1 577.8 L438.4 578.7 L438.8 579.6 L439.1 580.5 L439.5 581.4 L439.8 582.4 L440.2 583.4 L440.5 584.4 L440.9 585.4 L441.3 586.4 L441.7 587.4 L442.0 588.5 L442.4 589.6 L442.8 590.7 L443.2 591.8 L443.5 593.0 L444.0 594.4 L444.5 595.9 L445.0 597.5 L445.5 599.2 L446.0 600.8 L446.4 602.3 L446.8 603.7 L447.2 604.8 L447.5 605.7 L447.5 605.7 L447.3 604.8 L447.0 603.6 L446.7 602.2 L446.3 600.7 L445.9 599.1 L445.5 597.4 L445.1 595.7 L444.7 594.2 L444.3 592.7 L444.0 591.6 L443.6 590.4 L443.3 589.3 L443.0 588.2 L442.6 587.1 L442.3 586.1 L441.9 585.0 L441.6 584.0 L441.3 583.0 L440.9 582.0 L440.6 581.0 L440.2 580.1 L439.9 579.2 L439.6 578.3 L439.3 577.4 L438.9 576.5 L438.6 575.7 L438.2 574.8 L437.8 573.9 L437.4 573.0 L436.9 572.1 L436.4 571.2 L435.9 570.4 L435.4 569.5 L434.9 568.6 L434.3 567.7 L433.7 566.9 L433.2 566.0 L432.5 565.0 L431.9 564.1 L431.3 563.1 L430.6 562.0 L429.8 560.9 L429.0 559.8 L428.3 558.7 L427.5 557.6 L426.7 556.5 L426.0 555.4 L425.3 554.4 L424.6 553.5 L423.9 552.6 L423.3 551.8 L422.6 550.9 L422.0 550.1 L421.3 549.4 L420.8 548.7 L420.2 548.0 L419.7 547.4 L419.3 547.0 L419.0 546.6Z" fill="#fbf4f6" opacity="1"/>
<path d="M410.1 557.2 L410.4 557.9 L410.8 558.7 L411.3 559.7 L411.8 560.8 L412.4 562.0 L413.0 563.2 L413.7 564.5 L414.2 565.7 L414.8 566.9 L415.2 568.0 L415.7 569.1 L416.1 570.1 L416.5 571.2 L416.8 572.3 L417.2 573.4 L417.5 574.4 L417.9 575.5 L418.2 576.6 L418.5 577.6 L418.7 578.7 L419.0 579.7 L419.2 580.7 L419.4 581.7 L419.6 582.7 L419.8 583.7 L420.0 584.7 L420.1 585.7 L420.3 586.9 L420.4 588.0 L420.5 589.3 L420.7 591.0 L420.8 592.8 L421.0 594.9 L421.1 596.9 L421.3 599.0 L421.4 601.0 L421.5 602.7 L421.6 604.2 L421.7 605.3 L421.7 605.3 L421.6 604.2 L421.6 602.7 L421.6 601.0 L421.5 599.0 L421.4 596.9 L421.3 594.8 L421.2 592.8 L421.1 590.9 L421.0 589.3 L420.9 588.0 L420.7 586.8 L420.6 585.7 L420.5 584.6 L420.3 583.6 L420.1 582.6 L419.9 581.6 L419.7 580.6 L419.5 579.6 L419.2 578.6 L419.0 577.5 L418.7 576.4 L418.4 575.3 L418.0 574.3 L417.7 573.2 L417.3 572.1 L416.9 571.1 L416.5 570.0 L416.1 568.9 L415.6 567.9 L415.1 566.7 L414.5 565.6 L413.9 564.3 L413.3 563.1 L412.6 561.9 L412.0 560.7 L411.4 559.6 L410.9 558.7 L410.4 557.9 L410.1 557.2Z" fill="#fbf4f6" opacity="1"/>
<path d="M456.4 569.7 L456.5 570.5 L456.7 571.4 L456.9 572.6 L457.1 573.9 L457.3 575.2 L457.6 576.7 L457.9 578.1 L458.1 579.6 L458.4 581.0 L458.6 582.3 L458.8 583.5 L459.0 584.8 L459.2 586.1 L459.4 587.3 L459.6 588.6 L459.8 589.8 L460.0 591.1 L460.1 592.3 L460.3 593.5 L460.4 594.7 L460.5 596.0 L460.6 597.4 L460.6 598.8 L460.7 600.3 L460.7 601.6 L460.7 602.9 L460.8 604.0 L460.8 605.0 L460.8 605.7 L460.8 605.7 L460.9 605.0 L461.0 604.0 L461.1 602.9 L461.2 601.6 L461.2 600.3 L461.3 598.8 L461.3 597.4 L461.3 596.0 L461.3 594.6 L461.2 593.4 L461.1 592.2 L461.0 590.9 L460.8 589.7 L460.6 588.4 L460.5 587.2 L460.2 585.9 L460.0 584.6 L459.8 583.3 L459.5 582.1 L459.3 580.8 L459.0 579.4 L458.6 578.0 L458.3 576.5 L457.9 575.1 L457.5 573.8 L457.2 572.5 L456.9 571.4 L456.6 570.4 L456.4 569.7Z" fill="#fbf4f6" opacity="1"/>
<path d="M430.6 575.9 L430.7 576.2 L431.0 576.5 L431.3 576.8 L431.6 577.1 L432.0 577.4 L432.3 577.8 L432.7 578.1 L433.0 578.4 L433.3 578.7 L433.6 579.0 L433.8 579.4 L434.1 579.9 L434.3 580.4 L434.6 580.9 L434.9 581.4 L435.2 582.0 L435.4 582.4 L435.7 582.8 L435.9 583.1 L435.9 583.1 L435.9 582.7 L435.9 582.3 L435.9 581.7 L435.8 581.2 L435.7 580.5 L435.5 579.9 L435.3 579.3 L435.0 578.7 L434.7 578.2 L434.3 577.8 L433.9 577.4 L433.5 577.1 L433.0 576.8 L432.5 576.6 L432.0 576.4 L431.6 576.2 L431.2 576.1 L430.8 576.0 L430.6 575.9Z" fill="#fbf4f6" opacity="1"/>
<path d="M438.6 591.1 L439.0 591.5 L439.5 591.9 L440.2 592.4 L440.9 592.9 L441.7 593.5 L442.5 594.1 L443.3 594.7 L444.1 595.4 L444.7 596.1 L445.3 596.7 L445.8 597.6 L446.3 598.6 L446.8 599.7 L447.3 600.9 L447.8 602.1 L448.2 603.2 L448.6 604.2 L449.0 605.1 L449.3 605.7 L449.3 605.7 L449.1 605.0 L449.0 604.1 L448.7 603.1 L448.5 601.9 L448.1 600.6 L447.7 599.4 L447.3 598.2 L446.7 597.1 L446.1 596.1 L445.5 595.4 L444.7 594.7 L443.9 594.0 L443.0 593.4 L442.1 592.9 L441.2 592.4 L440.4 592.0 L439.7 591.6 L439.1 591.3 L438.6 591.1Z" fill="#fbf4f6" opacity="1"/>
<path d="M369.1 564.4 L369.6 564.2 L370.2 564.0 L370.8 563.7 L371.6 563.4 L372.4 563.1 L373.2 562.7 L374.1 562.3 L374.9 562.0 L375.7 561.6 L376.4 561.2 L377.3 560.8 L378.2 560.3 L379.1 559.8 L380.0 559.3 L380.8 558.8 L381.6 558.4 L382.3 557.9 L382.9 557.6 L383.4 557.2 L383.4 557.2 L382.9 557.4 L382.2 557.7 L381.4 558.0 L380.6 558.3 L379.7 558.7 L378.7 559.1 L377.8 559.6 L376.9 560.0 L376.0 560.4 L375.3 560.8 L374.5 561.2 L373.7 561.6 L372.9 562.1 L372.1 562.5 L371.3 563.0 L370.7 563.4 L370.0 563.8 L369.5 564.1 L369.1 564.4Z" fill="#fbf4f6" opacity="1"/>
<path d="M440.4 553.7 L440.7 554.2 L441.0 554.9 L441.5 555.8 L442.1 556.7 L442.6 557.7 L443.2 558.7 L443.9 559.8 L444.4 560.8 L445.0 561.8 L445.5 562.7 L446.0 563.7 L446.5 564.8 L446.9 566.0 L447.4 567.1 L447.9 568.2 L448.3 569.2 L448.7 570.1 L449.0 570.9 L449.3 571.5 L449.3 571.5 L449.1 570.9 L448.8 570.1 L448.5 569.1 L448.2 568.1 L447.8 567.0 L447.4 565.8 L446.9 564.6 L446.4 563.5 L445.9 562.5 L445.5 561.5 L444.9 560.5 L444.3 559.5 L443.6 558.5 L443.0 557.5 L442.3 556.5 L441.7 555.6 L441.2 554.9 L440.7 554.2 L440.4 553.7Z" fill="#fbf4f6" opacity="1"/>
<path d="M372.7 547.5 C375.1 546.7 386.3 546.6 388.7 547.5 C391.1 548.3 388.4 551.8 386.9 552.8 C385.4 553.8 381.9 553.8 379.8 553.7 C377.7 553.5 375.7 552.9 374.5 551.9 C373.3 550.9 370.3 548.2 372.7 547.5Z" fill="#7a1024" opacity="0.6"/>
<rect x="466" y="598.5" width="6" height="1.2" fill="#222"/><rect x="465" y="601" width="8" height="1" fill="#333" opacity="0.6"/>
</g>
<rect x="365.9" y="546.2" width="114.5" height="59.1" fill="none" stroke="#111" stroke-width="1.3"/>
<clipPath id="c7"><rect x="241.6" y="611.6" width="115.9" height="59.7"/></clipPath>
<g clip-path="url(#c7)"><rect x="241.6" y="611.6" width="115.9" height="59.7" fill="#c0171b"/>
<rect x="241.6" y="611.6" width="115.9" height="59.7" filter="url(#nz1)" opacity="0.3"/>
<path d="M241.2 620.7 C242.3 619.5 245.6 623.8 248.0 624.3 C250.3 624.8 253.1 624.7 255.2 623.8 C257.3 623.0 259.1 620.9 260.6 619.3 C262.1 617.7 263.2 615.6 264.2 614.3 C265.3 613.1 266.4 612.1 267.0 611.6 C267.6 611.2 268.2 610.4 267.9 611.6 C267.6 612.8 266.1 616.4 265.1 618.9 C264.2 621.3 262.2 624.0 262.0 626.1 C261.8 628.2 262.7 629.9 263.8 631.5 C264.9 633.2 267.2 634.3 268.8 636.1 C270.4 637.8 272.1 640.0 273.3 641.9 C274.5 643.9 275.9 645.9 276.0 647.8 C276.1 649.7 273.7 651.4 273.7 653.2 C273.7 655.1 275.3 656.7 276.0 658.7 C276.8 660.6 277.5 662.9 278.3 665.0 C279.0 667.1 286.7 670.3 280.5 671.3 C274.3 672.4 247.7 672.4 241.2 671.3 C234.6 670.3 240.2 666.5 241.2 665.0 C242.1 663.5 244.9 663.4 247.0 662.3 C249.2 661.2 252.2 660.2 254.3 658.7 C256.4 657.2 258.7 655.4 259.7 653.2 C260.7 651.1 260.8 648.4 260.2 646.0 C259.6 643.6 258.0 640.7 256.1 638.8 C254.2 636.8 251.3 635.5 248.9 634.2 C246.4 633.0 242.4 633.8 241.2 631.5 C239.9 629.3 240.0 621.9 241.2 620.7Z" fill="#fbf9f9" opacity="1"/>
<path d="M281.5 622.1 L282.3 622.0 L283.2 622.0 L284.3 621.8 L285.5 621.7 L286.8 621.5 L288.1 621.2 L289.5 621.0 L290.8 620.7 L292.0 620.4 L293.2 620.1 L294.4 619.7 L295.6 619.3 L296.8 618.8 L298.0 618.4 L299.1 617.9 L300.1 617.5 L301.1 617.1 L301.8 616.7 L302.4 616.4 L302.4 616.4 L301.8 616.5 L300.9 616.6 L299.9 616.8 L298.8 617.0 L297.6 617.2 L296.4 617.5 L295.1 617.8 L293.9 618.1 L292.7 618.4 L291.6 618.7 L290.4 619.0 L289.1 619.4 L287.8 619.8 L286.5 620.2 L285.3 620.6 L284.1 621.1 L283.1 621.4 L282.2 621.8 L281.5 622.1Z" fill="#fbf2f2" opacity="1"/>
<path d="M285.3 629.7 L286.3 629.6 L287.5 629.5 L288.9 629.4 L290.4 629.2 L292.1 629.0 L293.9 628.8 L295.6 628.5 L297.4 628.3 L299.1 628.0 L300.7 627.7 L302.3 627.5 L303.9 627.2 L305.6 626.8 L307.2 626.5 L308.9 626.1 L310.5 625.8 L312.0 625.4 L313.4 625.1 L314.7 624.8 L315.8 624.5 L316.9 624.2 L317.8 624.0 L318.6 623.8 L319.2 623.6 L319.8 623.5 L320.3 623.4 L320.7 623.2 L321.1 623.1 L321.4 623.0 L321.4 623.0 L321.1 623.0 L320.7 623.0 L320.3 623.1 L319.8 623.1 L319.2 623.1 L318.5 623.2 L317.7 623.3 L316.7 623.3 L315.6 623.5 L314.5 623.6 L313.2 623.8 L311.7 624.0 L310.2 624.2 L308.6 624.4 L306.9 624.7 L305.2 625.0 L303.5 625.3 L301.9 625.6 L300.4 625.9 L298.8 626.2 L297.1 626.6 L295.4 627.0 L293.6 627.4 L291.9 627.9 L290.2 628.3 L288.7 628.7 L287.4 629.0 L286.2 629.4 L285.3 629.7Z" fill="#fbf2f2" opacity="1"/>
<path d="M270.2 644.9 L271.2 645.1 L272.3 645.2 L273.4 645.2 L274.5 645.2 L275.5 645.1 L276.6 644.9 L277.6 644.6 L278.6 644.3 L279.7 643.9 L279.7 643.9 L278.6 643.7 L277.5 643.6 L276.4 643.5 L275.4 643.6 L274.3 643.7 L273.3 643.9 L272.2 644.1 L271.2 644.4 L270.2 644.9Z" fill="#fbf2f2" opacity="1"/>
<path d="M285.3 650.5 L286.1 650.9 L287.1 651.2 L288.3 651.6 L289.7 652.1 L291.1 652.5 L292.6 652.9 L294.2 653.4 L295.7 653.8 L297.1 654.2 L298.4 654.5 L299.6 654.8 L300.8 655.1 L302.1 655.5 L303.3 655.8 L304.5 656.1 L305.7 656.4 L306.9 656.7 L308.0 656.8 L309.0 656.9 L310.0 657.0 L311.0 656.9 L311.9 656.7 L312.7 656.4 L313.4 656.0 L314.0 655.6 L314.6 655.2 L315.0 654.9 L315.4 654.6 L315.7 654.3 L315.7 654.3 L315.3 654.4 L314.9 654.6 L314.3 654.8 L313.7 655.0 L313.1 655.2 L312.4 655.4 L311.7 655.5 L310.9 655.6 L310.0 655.5 L309.2 655.4 L308.3 655.1 L307.3 654.8 L306.2 654.5 L305.1 654.1 L303.9 653.7 L302.7 653.3 L301.4 652.9 L300.2 652.6 L298.9 652.3 L297.6 652.0 L296.1 651.8 L294.6 651.5 L293.0 651.3 L291.4 651.1 L289.9 650.9 L288.5 650.8 L287.2 650.6 L286.2 650.6 L285.3 650.5Z" fill="#fbf2f2" opacity="1"/>
<path d="M289.1 661.9 L289.9 662.3 L290.9 662.7 L292.0 663.2 L293.4 663.7 L294.8 664.3 L296.3 664.8 L297.8 665.4 L299.3 665.8 L300.8 666.2 L302.2 666.6 L303.8 666.9 L305.5 667.1 L307.2 667.3 L309.0 667.4 L310.7 667.5 L312.2 667.6 L313.6 667.6 L314.8 667.7 L315.7 667.6 L315.7 667.6 L314.8 667.4 L313.7 667.1 L312.3 666.8 L310.8 666.5 L309.1 666.2 L307.5 665.9 L305.8 665.5 L304.1 665.2 L302.6 664.9 L301.2 664.6 L299.8 664.2 L298.2 663.9 L296.7 663.5 L295.1 663.1 L293.6 662.8 L292.3 662.5 L291.0 662.2 L290.0 662.0 L289.1 661.9Z" fill="#fbf2f2" opacity="1"/>
<path d="M342.3 656.2 L342.9 656.6 L343.8 657.1 L344.9 657.6 L346.2 658.1 L347.5 658.7 L348.8 659.2 L350.1 659.6 L351.4 660.0 L352.5 660.4 L353.5 660.6 L354.3 660.9 L355.1 661.1 L355.8 661.3 L356.4 661.4 L356.9 661.6 L357.3 661.7 L357.8 661.8 L358.1 661.9 L358.4 661.9 L358.4 661.9 L358.2 661.7 L357.9 661.6 L357.5 661.3 L357.1 661.1 L356.6 660.8 L356.1 660.5 L355.4 660.2 L354.7 659.8 L353.9 659.4 L353.0 659.1 L351.9 658.6 L350.6 658.2 L349.3 657.8 L347.9 657.4 L346.5 657.0 L345.2 656.7 L344.0 656.5 L343.0 656.3 L342.3 656.2Z" fill="#fbf2f2" opacity="1"/>
<path d="M279.7 616.4 L280.3 616.3 L281.0 616.2 L281.9 616.1 L282.9 615.9 L284.0 615.7 L285.1 615.4 L286.2 615.2 L287.3 614.9 L288.4 614.7 L289.3 614.5 L290.4 614.3 L291.5 614.1 L292.7 613.9 L293.9 613.6 L295.1 613.4 L296.2 613.2 L297.2 613.0 L298.0 612.8 L298.6 612.6 L298.6 612.6 L298.0 612.5 L297.1 612.4 L296.1 612.3 L295.0 612.3 L293.8 612.2 L292.6 612.2 L291.3 612.3 L290.1 612.4 L289.0 612.6 L287.9 612.8 L286.9 613.2 L285.8 613.5 L284.7 613.9 L283.6 614.4 L282.6 614.8 L281.7 615.3 L280.9 615.7 L280.2 616.1 L279.7 616.4Z" fill="#fbf2f2" opacity="1"/>
<path d="M292.9 635.4 L293.6 635.3 L294.5 635.2 L295.5 635.1 L296.7 635.0 L298.0 634.9 L299.3 634.7 L300.6 634.5 L301.9 634.3 L303.2 634.1 L304.4 633.9 L305.7 633.7 L307.1 633.5 L308.6 633.2 L310.1 632.9 L311.5 632.6 L312.8 632.3 L314.0 632.0 L315.0 631.8 L315.7 631.6 L315.7 631.6 L314.9 631.6 L313.9 631.7 L312.7 631.8 L311.4 632.0 L310.0 632.2 L308.5 632.4 L307.0 632.6 L305.6 632.8 L304.2 633.0 L303.1 633.2 L301.8 633.4 L300.5 633.7 L299.2 633.9 L297.9 634.2 L296.6 634.5 L295.5 634.7 L294.5 635.0 L293.6 635.2 L292.9 635.4Z" fill="#fbf2f2" opacity="1"/>
<path d="M298.6 643.0 L299.4 643.0 L300.5 642.9 L301.7 642.9 L303.1 642.9 L304.6 642.8 L306.1 642.8 L307.7 642.7 L309.2 642.6 L310.6 642.5 L311.9 642.4 L313.4 642.3 L314.8 642.1 L316.3 642.0 L317.8 641.8 L319.1 641.6 L320.4 641.5 L321.6 641.3 L322.6 641.2 L323.3 641.1 L323.3 641.1 L322.5 641.1 L321.6 641.1 L320.4 641.1 L319.1 641.2 L317.7 641.3 L316.2 641.3 L314.8 641.4 L313.3 641.5 L311.9 641.6 L310.6 641.7 L309.1 641.8 L307.6 642.0 L306.1 642.1 L304.5 642.3 L303.1 642.4 L301.7 642.6 L300.5 642.7 L299.4 642.8 L298.6 643.0Z" fill="#fbf2f2" opacity="1"/>
<path d="M325.2 616.4 L325.7 616.9 L326.5 617.5 L327.3 618.2 L328.3 619.1 L329.3 619.9 L330.4 620.8 L331.5 621.7 L332.5 622.6 L333.5 623.5 L334.4 624.3 L335.4 625.1 L336.4 626.1 L337.4 627.0 L338.4 628.0 L339.4 628.9 L340.3 629.7 L341.1 630.5 L341.7 631.1 L342.3 631.6 L342.3 631.6 L341.8 631.0 L341.2 630.3 L340.5 629.5 L339.7 628.6 L338.8 627.6 L337.9 626.6 L336.9 625.6 L335.9 624.6 L334.9 623.7 L334.0 622.9 L333.0 622.1 L331.9 621.2 L330.8 620.3 L329.6 619.5 L328.5 618.7 L327.5 618.0 L326.6 617.3 L325.8 616.8 L325.2 616.4Z" fill="#fbf2f2" opacity="1"/>
<path d="M308.1 612.6 L308.3 613.1 L308.5 613.7 L308.8 614.4 L309.1 615.2 L309.4 616.0 L309.8 616.9 L310.2 617.8 L310.7 618.7 L311.1 619.6 L311.6 620.4 L312.2 621.3 L312.9 622.2 L313.6 623.2 L314.4 624.2 L315.2 625.1 L315.9 625.9 L316.6 626.7 L317.2 627.3 L317.6 627.8 L317.6 627.8 L317.3 627.2 L316.8 626.5 L316.2 625.7 L315.6 624.8 L314.9 623.8 L314.2 622.8 L313.5 621.8 L312.8 620.9 L312.2 620.0 L311.8 619.2 L311.3 618.4 L310.8 617.5 L310.3 616.7 L309.9 615.8 L309.5 615.0 L309.1 614.2 L308.7 613.6 L308.4 613.0 L308.1 612.6Z" fill="#fbf2f2" opacity="1"/>
<path d="M338.1 628.7 L338.3 629.1 L338.5 629.5 L338.8 630.0 L339.2 630.6 L339.5 631.2 L339.9 631.8 L340.3 632.4 L340.7 633.0 L341.1 633.5 L341.4 634.1 L341.7 634.6 L341.9 635.1 L342.2 635.7 L342.5 636.3 L342.8 636.9 L343.1 637.5 L343.4 638.1 L343.7 638.6 L344.1 639.2 L344.4 639.6 L344.9 640.1 L345.3 640.5 L345.8 640.8 L346.2 641.1 L346.7 641.4 L347.1 641.6 L347.4 641.8 L347.7 641.9 L348.0 642.0 L348.0 642.0 L347.9 641.8 L347.7 641.5 L347.4 641.2 L347.2 640.8 L346.9 640.4 L346.6 640.0 L346.3 639.6 L346.1 639.1 L345.8 638.7 L345.6 638.3 L345.5 637.8 L345.3 637.2 L345.0 636.6 L344.8 636.0 L344.6 635.4 L344.3 634.7 L343.9 634.1 L343.6 633.5 L343.2 632.9 L342.7 632.3 L342.2 631.8 L341.7 631.3 L341.1 630.8 L340.5 630.3 L339.9 629.9 L339.4 629.5 L338.9 629.2 L338.5 628.9 L338.1 628.7Z" fill="#9a80bc" opacity="0.85"/>
<rect x="344" y="665" width="6" height="1.2" fill="#222"/><rect x="343" y="667.5" width="8" height="1" fill="#333" opacity="0.6"/>
</g>
<rect x="241.6" y="611.6" width="115.9" height="59.7" fill="none" stroke="#111" stroke-width="1.3"/>
<clipPath id="c8"><rect x="365.3" y="611.3" width="117.1" height="61.0"/></clipPath>
<g clip-path="url(#c8)"><rect x="365.3" y="611.3" width="117.1" height="61.0" fill="#fbf9f9"/>
<clipPath id="h4t"><path d="M413.6 610.7 C423.6 610.0 465.6 608.8 476.4 610.7 C487.2 612.7 478.4 618.4 478.2 622.5 C478.0 626.6 476.4 631.5 475.1 635.2 C473.9 638.8 471.2 641.5 470.6 644.2 C470.0 646.9 471.8 649.0 471.5 651.4 C471.2 653.9 470.2 656.0 468.8 658.7 C467.4 661.4 465.2 665.3 463.4 667.7 C461.6 670.2 469.4 672.3 457.9 673.2 C446.5 674.1 405.3 675.0 394.6 673.2 C383.9 671.4 393.1 665.3 393.7 662.3 C394.3 659.4 395.9 656.9 398.2 655.4 C400.5 653.9 405.9 654.5 407.3 653.3 C408.6 652.0 406.9 649.6 406.4 647.8 C405.8 646.0 403.8 643.9 404.0 642.4 C404.1 640.9 406.2 640.6 407.3 638.8 C408.3 637.0 409.0 633.2 410.5 631.5 C412.0 629.9 414.4 629.1 416.3 628.8 C418.2 628.5 420.4 630.5 421.7 629.7 C423.1 629.0 424.5 626.1 424.5 624.3 C424.5 622.5 423.1 620.4 421.7 618.9 C420.4 617.4 417.7 616.6 416.3 615.2 C415.0 613.9 403.6 611.5 413.6 610.7Z"/><path d="M393.7 632.4 C395.0 630.8 397.8 629.6 400.0 628.8 C402.3 628.1 405.7 627.2 407.3 627.9 C408.8 628.7 409.7 631.5 409.4 633.3 C409.2 635.2 406.0 636.7 405.8 638.8 C405.6 640.9 408.4 643.8 408.3 646.0 C408.3 648.2 407.1 651.0 405.4 651.8 C403.8 652.6 400.3 651.7 398.2 650.7 C396.1 649.8 393.8 648.0 392.8 646.0 C391.7 644.0 391.7 641.0 391.9 638.8 C392.0 636.5 392.3 634.1 393.7 632.4Z"/><circle cx="380.1" cy="635.2" r="12.3"/><circle cx="393.7" cy="652.4" r="7.2"/><circle cx="379.2" cy="656.9" r="6.5"/><circle cx="389.2" cy="666.3" r="4.0"/><circle cx="404.5" cy="660.5" r="5.1"/><circle cx="368.3" cy="671.7" r="2.5"/></clipPath>
<g clip-path="url(#h4t)">
<rect x="365.3" y="611.3" width="117.1" height="61.0" fill="#b52a58"/>
<rect x="365.3" y="611.3" width="117.1" height="61.0" filter="url(#nzB)" opacity="0.35"/>
<rect x="365.3" y="611.3" width="117.1" height="61.0" filter="url(#nz1)" opacity="0.3"/>
<rect x="365.3" y="611.3" width="117.1" height="61.0" filter="url(#nzw)" opacity="0.3"/>
<path d="M430.8 669.5 L431.3 668.7 L431.9 667.6 L432.6 666.3 L433.4 664.9 L434.3 663.3 L435.1 661.7 L436.0 660.0 L436.9 658.3 L437.7 656.7 L438.4 655.2 L439.0 653.8 L439.6 652.3 L440.2 650.9 L440.7 649.4 L441.3 648.0 L441.8 646.5 L442.3 645.1 L442.8 643.6 L443.4 642.2 L443.9 640.7 L444.4 639.3 L445.0 637.8 L445.6 636.3 L446.1 634.9 L446.7 633.4 L447.2 631.9 L447.8 630.4 L448.3 629.0 L448.7 627.6 L449.2 626.2 L449.7 624.6 L450.1 623.0 L450.6 621.3 L451.0 619.7 L451.4 618.1 L451.7 616.7 L452.1 615.4 L452.3 614.3 L452.5 613.4 L452.5 613.4 L452.2 614.3 L451.9 615.3 L451.5 616.6 L451.1 618.1 L450.6 619.6 L450.2 621.2 L449.6 622.8 L449.1 624.5 L448.6 626.0 L448.1 627.4 L447.6 628.8 L447.0 630.2 L446.5 631.6 L445.9 633.1 L445.3 634.6 L444.7 636.0 L444.2 637.5 L443.6 639.0 L443.0 640.4 L442.5 641.9 L442.0 643.3 L441.5 644.8 L441.0 646.2 L440.5 647.7 L439.9 649.1 L439.4 650.6 L438.9 652.0 L438.3 653.5 L437.7 654.9 L437.0 656.4 L436.3 658.1 L435.5 659.7 L434.7 661.4 L433.9 663.1 L433.1 664.7 L432.4 666.2 L431.7 667.5 L431.2 668.7 L430.8 669.5Z" fill="#f0dcea" opacity="0.9"/>
<path d="M441.7 669.5 L442.1 668.7 L442.7 667.6 L443.4 666.3 L444.2 664.9 L445.1 663.3 L446.0 661.6 L446.8 660.0 L447.7 658.3 L448.5 656.7 L449.2 655.2 L449.8 653.7 L450.4 652.3 L451.0 650.8 L451.5 649.4 L452.0 647.9 L452.6 646.5 L453.1 645.0 L453.6 643.6 L454.1 642.2 L454.7 640.7 L455.2 639.3 L455.8 637.8 L456.3 636.3 L456.9 634.8 L457.5 633.3 L458.0 631.9 L458.5 630.4 L459.1 629.0 L459.5 627.6 L460.0 626.2 L460.5 624.6 L460.9 623.0 L461.4 621.3 L461.8 619.7 L462.2 618.1 L462.6 616.7 L462.9 615.4 L463.2 614.3 L463.4 613.4 L463.4 613.4 L463.1 614.3 L462.8 615.3 L462.4 616.6 L462.0 618.1 L461.5 619.6 L461.1 621.2 L460.6 622.9 L460.0 624.5 L459.5 626.0 L459.0 627.4 L458.5 628.8 L458.0 630.2 L457.4 631.7 L456.8 633.1 L456.3 634.6 L455.7 636.1 L455.1 637.5 L454.5 639.0 L454.0 640.5 L453.4 641.9 L452.9 643.4 L452.4 644.8 L451.9 646.3 L451.4 647.7 L450.9 649.2 L450.3 650.6 L449.8 652.1 L449.2 653.5 L448.6 655.0 L448.0 656.5 L447.2 658.1 L446.4 659.8 L445.6 661.5 L444.8 663.1 L444.0 664.7 L443.3 666.2 L442.6 667.6 L442.1 668.7 L441.7 669.5Z" fill="#f0dcea" opacity="0.9"/>
<path d="M419.9 667.7 L420.4 667.0 L421.0 666.1 L421.7 665.0 L422.4 663.7 L423.3 662.4 L424.1 661.0 L425.0 659.5 L425.8 658.1 L426.7 656.6 L427.4 655.2 L428.2 653.8 L429.0 652.4 L429.7 651.0 L430.5 649.6 L431.2 648.1 L432.0 646.6 L432.7 645.1 L433.4 643.7 L434.1 642.2 L434.7 640.7 L435.4 639.0 L436.1 637.2 L436.8 635.3 L437.4 633.4 L438.1 631.6 L438.6 629.9 L439.1 628.4 L439.5 627.1 L439.8 626.1 L439.8 626.1 L439.4 627.1 L439.0 628.3 L438.4 629.8 L437.7 631.5 L437.1 633.3 L436.3 635.1 L435.6 637.0 L434.8 638.8 L434.1 640.5 L433.5 641.9 L432.8 643.4 L432.1 644.8 L431.3 646.3 L430.6 647.8 L429.8 649.2 L429.1 650.7 L428.3 652.1 L427.6 653.5 L426.9 654.9 L426.2 656.3 L425.4 657.8 L424.6 659.3 L423.7 660.8 L422.9 662.2 L422.2 663.6 L421.5 664.9 L420.9 666.0 L420.3 667.0 L419.9 667.7Z" fill="#f0dcea" opacity="0.9"/>
<path d="M452.5 670.5 L453.0 669.7 L453.6 668.7 L454.3 667.4 L455.1 666.1 L455.9 664.6 L456.8 663.1 L457.7 661.5 L458.5 660.0 L459.3 658.4 L460.0 657.0 L460.6 655.6 L461.2 654.1 L461.8 652.7 L462.3 651.2 L462.8 649.8 L463.4 648.3 L463.9 646.9 L464.4 645.4 L464.9 643.9 L465.4 642.5 L466.0 640.8 L466.7 639.0 L467.4 637.1 L468.0 635.2 L468.7 633.4 L469.3 631.7 L469.8 630.2 L470.3 628.9 L470.6 627.9 L470.6 627.9 L470.2 628.9 L469.7 630.1 L469.1 631.6 L468.5 633.3 L467.8 635.1 L467.0 637.0 L466.3 638.8 L465.6 640.6 L465.0 642.3 L464.4 643.8 L463.9 645.2 L463.4 646.7 L462.8 648.1 L462.3 649.6 L461.8 651.1 L461.3 652.5 L460.7 653.9 L460.1 655.4 L459.5 656.8 L458.9 658.2 L458.1 659.8 L457.3 661.4 L456.5 662.9 L455.7 664.5 L454.9 666.0 L454.1 667.4 L453.5 668.6 L452.9 669.6 L452.5 670.5Z" fill="#f0dcea" opacity="0.9"/>
<path d="M409.1 662.3 L409.5 661.9 L410.1 661.4 L410.8 660.7 L411.6 660.0 L412.4 659.2 L413.3 658.4 L414.1 657.6 L415.0 656.8 L415.8 656.0 L416.5 655.3 L417.4 654.6 L418.3 653.9 L419.2 653.2 L420.1 652.4 L421.0 651.8 L421.8 651.1 L422.5 650.5 L423.1 650.0 L423.5 649.6 L423.5 649.6 L423.0 649.9 L422.4 650.4 L421.6 650.8 L420.7 651.4 L419.8 652.0 L418.8 652.7 L417.9 653.4 L416.9 654.1 L416.1 654.8 L415.3 655.5 L414.5 656.3 L413.7 657.1 L412.8 658.0 L412.0 658.8 L411.3 659.7 L410.6 660.5 L410.0 661.2 L409.5 661.8 L409.1 662.3Z" fill="#f0dcea" opacity="0.9"/>
</g>
<path d="M407.3 628.3 L407.5 628.4 L408.0 628.5 L408.4 628.6 L409.0 628.7 L409.5 628.8 L410.0 628.9 L410.5 629.1 L410.8 629.3 L411.0 629.5 L411.1 629.7 L411.1 630.0 L411.1 630.4 L411.0 631.0 L410.8 631.7 L410.6 632.5 L410.3 633.3 L410.1 634.2 L410.0 635.2 L409.9 636.2 L410.0 637.2 L410.2 638.2 L410.5 639.2 L410.9 640.1 L411.4 641.1 L411.8 642.1 L412.3 643.0 L412.7 643.9 L413.1 644.7 L413.4 645.5 L413.6 646.1 L413.8 646.8 L413.8 647.5 L413.7 648.3 L413.6 649.0 L413.5 649.7 L413.3 650.3 L413.2 650.9 L413.1 651.4 L413.0 651.8 L413.0 651.8 L413.3 651.5 L413.5 651.1 L413.9 650.5 L414.2 650.0 L414.6 649.3 L414.9 648.5 L415.2 647.7 L415.3 646.9 L415.4 645.9 L415.3 645.0 L415.0 644.1 L414.8 643.1 L414.4 642.1 L414.0 641.1 L413.6 640.1 L413.3 639.2 L412.9 638.3 L412.7 637.5 L412.5 636.8 L412.4 636.1 L412.4 635.3 L412.4 634.5 L412.5 633.7 L412.6 632.9 L412.7 632.0 L412.8 631.2 L412.8 630.5 L412.7 629.7 L412.5 629.0 L412.0 628.5 L411.4 628.1 L410.8 628.0 L410.2 627.9 L409.6 627.9 L409.0 628.0 L408.4 628.1 L408.0 628.2 L407.6 628.2 L407.3 628.3Z" fill="#fbf9f9" opacity="1"/>
<ellipse cx="450.7" cy="659.6" rx="3.2" ry="2.6" fill="#fbf9f9" stroke="#a898cc" stroke-width="1"/>
<rect x="467.5" y="663.5" width="6" height="1.2" fill="#222"/><rect x="466.5" y="666" width="8" height="1" fill="#333" opacity="0.6"/>
</g>
<rect x="365.3" y="611.3" width="117.1" height="61.0" fill="none" stroke="#111" stroke-width="1.3"/>
<text x="238.71" y="732.1" font-size="11.7" font-weight="bold" fill="#000" textLength="8.50" lengthAdjust="spacingAndGlyphs" >K</text>
<text x="277.57" y="743.7" font-size="10.5" font-weight="normal" fill="#222" textLength="30.27" lengthAdjust="spacingAndGlyphs" >&#945;MCM</text>
<text x="388.01" y="737.8" font-size="10.5" font-weight="normal" fill="#222" textLength="47.60" lengthAdjust="spacingAndGlyphs" >&#945;MCM-Pon</text>
<text x="435.39" y="733.8" font-size="6.5" font-weight="normal" fill="#222" textLength="12.30" lengthAdjust="spacingAndGlyphs" >flox</text>
<text transform="translate(230.2,796.94) rotate(-90)" x="0" y="0" font-size="10.5" font-weight="normal" fill="#222" textLength="31.16" lengthAdjust="spacingAndGlyphs">Vehicle</text>
<text transform="translate(229.8,887.92) rotate(-90)" x="0" y="0" font-size="10.5" font-weight="normal" fill="#222" textLength="45.86" lengthAdjust="spacingAndGlyphs">Tamoxifen</text>
<clipPath id="c9"><rect x="237.7" y="750.3" width="113.5" height="69.7"/></clipPath>
<g clip-path="url(#c9)"><rect x="237.7" y="750.3" width="113.5" height="69.7" fill="#c80a16"/>
<rect x="237.7" y="750.3" width="113.5" height="69.7" filter="url(#nzR)" opacity="0.35"/>
<rect x="237.7" y="750.3" width="113.5" height="69.7" filter="url(#nzD)" opacity="0.3"/>
<rect x="237.7" y="750.3" width="113.5" height="69.7" filter="url(#nzb)" opacity="0.3"/>
<path d="M236.0 748.0 C244.2 746.0 338.2 747.7 358.6 748.0 C379.1 748.3 359.9 749.3 358.6 749.8 C357.3 750.2 354.8 749.9 350.8 750.6 C346.7 751.4 339.5 753.0 334.1 754.1 C328.7 755.3 322.4 756.7 318.3 757.6 C314.3 758.6 323.3 761.5 309.6 759.9 C295.9 758.3 227.8 750.0 236.0 748.0Z" fill="#2a0608" opacity="0.85"/>
<path d="M235.1 747.1 L358.6 747.1 L358.6 752.9 L350.8 753.3 L337.6 756.8 L323.6 761.1 L309.6 765.5 L293.8 772.5 L281.6 779.5 L267.5 790.0 L253.5 800.6 L238.1 815.4 L235.1 817.2Z" fill="#26060a"/>
<path d="M311.3 760.6 L312.5 760.5 L314.0 760.3 L315.7 760.0 L317.7 759.7 L319.8 759.3 L322.0 758.9 L324.3 758.6 L326.5 758.2 L328.7 757.8 L330.7 757.5 L333.0 757.1 L335.5 756.7 L338.1 756.3 L340.7 755.9 L343.2 755.5 L345.5 755.1 L347.6 754.7 L349.4 754.4 L350.8 754.1 L350.8 754.1 L349.4 754.2 L347.6 754.3 L345.5 754.4 L343.1 754.6 L340.5 754.8 L337.9 755.1 L335.3 755.4 L332.8 755.7 L330.5 756.1 L328.4 756.4 L326.3 756.9 L324.0 757.3 L321.8 757.9 L319.6 758.4 L317.5 758.9 L315.6 759.4 L313.9 759.9 L312.5 760.3 L311.3 760.6Z" fill="#400810" opacity="0.9"/>
<path d="M288.6 819.0 L289.6 818.3 L290.8 817.2 L292.2 815.9 L293.7 814.4 L295.4 812.8 L297.1 811.1 L298.7 809.5 L300.4 807.9 L301.9 806.5 L303.3 805.2 L304.6 804.2 L305.8 803.2 L307.0 802.3 L308.2 801.5 L309.3 800.7 L310.5 799.9 L311.6 799.2 L312.9 798.4 L314.2 797.6 L315.5 796.8 L316.9 795.9 L318.4 795.0 L319.8 794.1 L321.3 793.2 L322.8 792.3 L324.4 791.4 L326.0 790.5 L327.6 789.7 L329.3 788.8 L331.1 788.0 L333.2 787.0 L335.7 786.0 L338.3 785.0 L341.0 784.0 L343.7 783.0 L346.2 782.0 L348.4 781.1 L350.3 780.3 L351.6 779.5 L351.6 779.5 L350.1 779.7 L348.1 780.2 L345.8 780.8 L343.2 781.5 L340.5 782.3 L337.7 783.1 L335.0 784.0 L332.4 784.9 L330.1 785.8 L328.3 786.6 L326.5 787.5 L324.8 788.3 L323.1 789.2 L321.5 790.1 L320.0 791.0 L318.5 791.9 L317.0 792.8 L315.6 793.7 L314.1 794.6 L312.8 795.4 L311.5 796.2 L310.3 797.0 L309.1 797.8 L307.9 798.6 L306.7 799.5 L305.5 800.4 L304.3 801.4 L303.1 802.4 L301.8 803.6 L300.4 804.9 L298.9 806.5 L297.4 808.1 L295.8 809.9 L294.2 811.7 L292.7 813.4 L291.4 815.1 L290.2 816.6 L289.2 817.9 L288.6 819.0Z" fill="#3a1cc0" opacity="0.6"/>
<path d="M292.1 819.8 L293.0 819.2 L294.2 818.2 L295.5 816.9 L297.0 815.6 L298.6 814.1 L300.3 812.6 L302.0 811.1 L303.6 809.7 L305.1 808.4 L306.5 807.2 L307.8 806.3 L309.0 805.4 L310.2 804.6 L311.4 803.8 L312.5 803.1 L313.7 802.4 L314.9 801.7 L316.1 801.0 L317.4 800.3 L318.7 799.5 L320.2 798.7 L321.6 797.9 L323.1 797.1 L324.7 796.3 L326.2 795.4 L327.8 794.6 L329.5 793.8 L331.1 793.1 L332.7 792.3 L334.4 791.6 L336.3 790.7 L338.4 789.9 L340.7 789.1 L342.9 788.2 L345.1 787.4 L347.1 786.7 L349.0 786.0 L350.5 785.4 L351.6 784.8 L351.6 784.8 L350.4 785.0 L348.8 785.4 L346.9 786.0 L344.8 786.6 L342.6 787.3 L340.3 788.0 L338.0 788.7 L335.8 789.5 L333.8 790.3 L332.2 791.0 L330.5 791.7 L328.8 792.5 L327.2 793.3 L325.5 794.1 L323.9 794.9 L322.4 795.7 L320.9 796.5 L319.4 797.3 L317.9 798.1 L316.6 798.9 L315.3 799.6 L314.1 800.3 L312.9 801.0 L311.7 801.8 L310.5 802.5 L309.4 803.3 L308.2 804.2 L306.9 805.1 L305.6 806.1 L304.2 807.3 L302.7 808.7 L301.2 810.2 L299.5 811.8 L298.0 813.4 L296.4 815.0 L295.0 816.4 L293.8 817.8 L292.8 818.9 L292.1 819.8Z" fill="#3a0810" opacity="0.6"/>
<path d="M341.1 791.8 L341.1 792.5 L341.3 793.2 L341.5 794.1 L341.8 795.1 L342.1 796.0 L342.5 797.0 L343.0 797.9 L343.5 798.7 L344.1 799.5 L344.6 800.1 L345.1 800.7 L345.7 801.3 L346.4 801.8 L347.0 802.4 L347.7 802.8 L348.3 803.3 L348.9 803.6 L349.4 803.9 L349.9 804.1 L349.9 804.1 L349.9 803.5 L349.9 803.0 L349.8 802.3 L349.6 801.5 L349.5 800.7 L349.2 799.9 L348.9 799.1 L348.6 798.3 L348.2 797.5 L347.7 796.8 L347.1 796.1 L346.5 795.3 L345.7 794.6 L344.9 793.9 L344.1 793.3 L343.3 792.8 L342.5 792.3 L341.7 792.0 L341.1 791.8Z" fill="#2a0508" opacity="1"/>
<path d="M316.6 808.4 L317.1 808.6 L317.7 808.7 L318.4 808.8 L319.2 808.9 L320.0 808.9 L320.8 809.0 L321.6 809.0 L322.3 809.0 L323.0 809.0 L323.5 809.0 L324.0 809.0 L324.7 809.1 L325.5 809.1 L326.3 809.2 L327.1 809.3 L327.8 809.4 L328.6 809.4 L329.2 809.4 L329.7 809.3 L329.7 809.3 L329.4 808.9 L329.0 808.4 L328.5 807.9 L327.9 807.4 L327.2 806.8 L326.4 806.3 L325.6 805.9 L324.7 805.6 L323.7 805.5 L322.8 805.5 L322.0 805.6 L321.1 805.8 L320.2 806.1 L319.4 806.5 L318.7 806.9 L318.0 807.3 L317.4 807.7 L316.9 808.1 L316.6 808.4Z" fill="#2a0508" opacity="0.95"/>
<path d="M308.7 816.3 L309.1 816.4 L309.6 816.4 L310.2 816.4 L310.8 816.4 L311.4 816.3 L312.0 816.3 L312.6 816.3 L313.1 816.2 L313.5 816.3 L313.8 816.3 L314.2 816.4 L314.8 816.5 L315.5 816.7 L316.3 816.9 L317.2 817.0 L318.0 817.2 L318.8 817.3 L319.5 817.3 L320.1 817.2 L320.1 817.2 L319.8 816.7 L319.4 816.2 L318.9 815.5 L318.3 814.9 L317.6 814.3 L316.8 813.7 L315.9 813.3 L315.0 813.0 L314.1 812.8 L313.2 812.9 L312.4 813.1 L311.7 813.4 L311.1 813.8 L310.5 814.2 L310.0 814.7 L309.6 815.2 L309.2 815.6 L308.9 816.0 L308.7 816.3Z" fill="#2a0508" opacity="0.95"/>
<path d="M330.6 817.2 L331.3 817.3 L332.1 817.3 L333.1 817.3 L334.2 817.3 L335.4 817.2 L336.6 817.2 L337.8 817.1 L339.0 817.0 L340.1 817.0 L341.1 816.9 L342.2 817.0 L343.5 817.0 L344.8 817.1 L346.1 817.2 L347.5 817.3 L348.7 817.3 L349.9 817.3 L350.9 817.3 L351.6 817.2 L351.6 817.2 L351.0 816.8 L350.1 816.4 L349.1 815.9 L347.9 815.4 L346.6 815.0 L345.2 814.6 L343.8 814.2 L342.5 814.0 L341.1 813.9 L339.9 814.0 L338.7 814.2 L337.4 814.4 L336.2 814.8 L335.0 815.2 L333.9 815.6 L332.8 816.1 L331.9 816.5 L331.2 816.9 L330.6 817.2Z" fill="#2a0508" opacity="0.8"/>
<circle cx="312.2" cy="779.5" r="2.2" fill="#f02838" opacity="0.8"/>
<rect x="339" y="814.5" width="5.5" height="2" fill="#ddd" opacity="0.8"/>
</g>
<rect x="237.7" y="750.3" width="113.5" height="69.7" fill="none" stroke="#111" stroke-width="1.3"/>
<clipPath id="c10"><rect x="356.7" y="748.8" width="111.5" height="71.7"/></clipPath>
<g clip-path="url(#c10)"><rect x="356.7" y="748.8" width="111.5" height="71.7" fill="#ae0e28"/>
<rect x="356.7" y="748.8" width="111.5" height="71.7" filter="url(#nzR)" opacity="0.4"/>
<rect x="356.7" y="748.8" width="111.5" height="71.7" filter="url(#nzD)" opacity="0.3"/>
<rect x="356.7" y="748.8" width="111.5" height="71.7" filter="url(#nzb)" opacity="0.45"/>
<path d="M354.2 746.2 L472.5 746.2 L472.5 757.4 L467.5 757.9 L455.7 759.6 L442.3 763.8 L427.2 770.5 L413.8 777.2 L403.7 783.9 L393.6 789.0 L380.2 797.4 L370.1 805.8 L365.1 820.9 L354.2 822.5Z" fill="#1e0407"/>
<path d="M427.2 770.5 L427.5 771.2 L428.0 771.9 L428.7 772.7 L429.4 773.6 L430.3 774.5 L431.2 775.5 L432.1 776.6 L433.1 777.6 L434.0 778.6 L434.9 779.6 L435.9 780.5 L436.8 781.5 L437.9 782.6 L438.9 783.6 L440.0 784.7 L441.0 785.7 L442.1 786.8 L443.0 787.8 L444.0 788.8 L444.8 789.7 L445.6 790.6 L446.3 791.4 L446.9 792.2 L447.5 793.0 L448.1 793.8 L448.7 794.5 L449.3 795.4 L450.0 796.2 L450.8 797.1 L451.6 798.0 L452.7 799.2 L454.1 800.5 L455.5 801.8 L457.0 803.2 L458.4 804.6 L459.9 805.8 L461.1 806.9 L462.3 807.8 L463.3 808.3 L463.3 808.3 L462.8 807.3 L461.9 806.2 L460.7 804.9 L459.5 803.5 L458.1 802.1 L456.7 800.6 L455.4 799.2 L454.2 797.8 L453.1 796.7 L452.3 795.8 L451.6 794.9 L451.0 794.1 L450.4 793.3 L449.8 792.5 L449.2 791.7 L448.6 790.9 L448.0 790.0 L447.3 789.1 L446.5 788.2 L445.6 787.3 L444.6 786.3 L443.6 785.3 L442.5 784.2 L441.5 783.2 L440.4 782.1 L439.3 781.1 L438.2 780.1 L437.2 779.2 L436.2 778.2 L435.3 777.3 L434.3 776.4 L433.2 775.4 L432.2 774.5 L431.2 773.6 L430.3 772.7 L429.4 772.0 L428.6 771.3 L427.9 770.8 L427.2 770.5Z" fill="#f03c80" opacity="0.85"/>
<path d="M397.0 787.3 L397.0 788.1 L397.4 789.1 L398.0 790.1 L398.6 791.3 L399.3 792.5 L400.1 793.7 L400.9 794.9 L401.6 796.0 L402.3 797.0 L402.9 797.9 L403.5 798.7 L404.0 799.5 L404.6 800.3 L405.1 801.0 L405.6 801.6 L406.0 802.2 L406.5 802.7 L406.8 803.0 L407.4 803.2 L407.4 803.2 L407.4 802.7 L407.3 802.2 L407.0 801.6 L406.7 800.9 L406.4 800.2 L406.0 799.4 L405.5 798.6 L405.0 797.7 L404.5 796.8 L403.9 795.9 L403.3 794.9 L402.5 793.8 L401.7 792.6 L400.9 791.4 L400.0 790.3 L399.2 789.3 L398.4 788.4 L397.7 787.7 L397.0 787.3Z" fill="#e83070" opacity="0.7"/>
<path d="M391.9 794.0 L392.8 793.7 L393.8 793.2 L394.9 792.5 L396.2 791.7 L397.5 790.9 L398.9 790.0 L400.3 789.0 L401.6 788.1 L403.0 787.2 L404.2 786.4 L405.5 785.4 L407.0 784.5 L408.5 783.4 L410.0 782.4 L411.4 781.4 L412.7 780.5 L413.8 779.6 L414.8 778.8 L415.4 778.1 L415.4 778.1 L414.5 778.3 L413.4 778.8 L412.1 779.5 L410.7 780.3 L409.1 781.1 L407.6 782.1 L406.0 783.0 L404.6 784.0 L403.2 784.9 L401.9 785.7 L400.6 786.7 L399.3 787.6 L398.0 788.7 L396.6 789.7 L395.4 790.7 L394.3 791.6 L393.3 792.5 L392.5 793.3 L391.9 794.0Z" fill="#300612" opacity="0.7"/>
<path d="M408.7 793.2 L409.5 792.7 L410.4 792.0 L411.4 791.2 L412.5 790.2 L413.7 789.1 L414.9 787.9 L416.1 786.8 L417.2 785.7 L418.3 784.7 L419.4 783.8 L420.5 782.9 L421.7 781.9 L423.0 781.0 L424.2 780.1 L425.4 779.3 L426.5 778.5 L427.5 777.7 L428.3 777.0 L428.9 776.4 L428.9 776.4 L428.0 776.6 L427.1 777.0 L426.0 777.5 L424.7 778.2 L423.4 778.9 L422.1 779.7 L420.7 780.6 L419.4 781.5 L418.2 782.4 L417.1 783.3 L416.0 784.4 L414.8 785.6 L413.7 786.8 L412.6 788.0 L411.5 789.2 L410.6 790.4 L409.8 791.4 L409.1 792.4 L408.7 793.2Z" fill="#300612" opacity="0.7"/>
<path d="M371.8 814.1 L372.6 813.6 L373.4 812.7 L374.4 811.7 L375.5 810.5 L376.6 809.2 L377.8 807.9 L379.0 806.5 L380.2 805.2 L381.3 804.0 L382.4 803.0 L383.7 801.9 L385.0 800.8 L386.5 799.6 L388.0 798.5 L389.4 797.5 L390.8 796.5 L392.0 795.6 L393.0 794.8 L393.6 794.0 L393.6 794.0 L392.7 794.3 L391.5 794.9 L390.2 795.6 L388.8 796.5 L387.2 797.4 L385.7 798.5 L384.1 799.5 L382.7 800.7 L381.3 801.8 L380.2 802.9 L379.0 804.2 L377.8 805.6 L376.7 807.0 L375.6 808.4 L374.6 809.8 L373.6 811.1 L372.8 812.3 L372.2 813.3 L371.8 814.1Z" fill="#300612" opacity="0.6"/>
<path d="M418.8 804.9 C420.5 802.1 430.5 803.4 435.6 804.1 C440.6 804.8 443.7 808.6 449.0 809.1 C454.3 809.7 464.4 805.5 467.5 807.4 C470.6 809.4 474.5 818.6 467.5 820.9 C460.5 823.1 433.6 823.5 425.5 820.9 C417.4 818.2 417.1 807.7 418.8 804.9Z" fill="#3a0818" opacity="0.55"/>
<circle cx="376.0" cy="754.5" r="1.0080000000000002" fill="#ff7020"/>
<circle cx="364.0" cy="761.0" r="0.8960000000000001" fill="#c02040"/>
<circle cx="392.5" cy="757.0" r="0.784" fill="#4030c0"/>
<rect x="456" y="815" width="5.5" height="2" fill="#ddd" opacity="0.8"/>
</g>
<rect x="356.7" y="748.8" width="111.5" height="71.7" fill="none" stroke="#111" stroke-width="1.3"/>
<clipPath id="c11"><rect x="236.7" y="824.1" width="115.3" height="71.7"/></clipPath>
<g clip-path="url(#c11)"><rect x="236.7" y="824.1" width="115.3" height="71.7" fill="#981640"/>
<rect x="236.7" y="824.1" width="115.3" height="71.7" filter="url(#nzR)" opacity="0.45"/>
<rect x="236.7" y="824.1" width="115.3" height="71.7" filter="url(#nzD)" opacity="0.35"/>
<rect x="236.7" y="824.1" width="115.3" height="71.7" filter="url(#nzb)" opacity="0.5"/>
<path d="M237.6 882.4 L238.5 882.3 L239.4 881.8 L240.5 881.2 L241.7 880.4 L243.0 879.7 L244.3 878.8 L245.7 878.0 L247.0 877.1 L248.4 876.2 L249.6 875.4 L250.8 874.6 L252.1 873.7 L253.3 872.9 L254.6 872.0 L255.8 871.1 L257.1 870.2 L258.3 869.4 L259.6 868.5 L260.8 867.7 L262.0 866.9 L263.2 866.2 L264.5 865.4 L265.7 864.7 L267.0 863.9 L268.2 863.2 L269.5 862.5 L270.7 861.9 L271.9 861.3 L273.0 860.7 L274.2 860.2 L275.2 859.7 L276.2 859.4 L277.3 859.1 L278.3 858.8 L279.3 858.5 L280.3 858.3 L281.4 858.0 L282.5 857.6 L283.6 857.2 L284.8 856.7 L285.9 856.1 L287.0 855.5 L288.1 854.8 L289.2 854.1 L290.2 853.3 L291.3 852.5 L292.3 851.8 L293.4 851.0 L294.4 850.3 L295.5 849.6 L296.5 848.9 L297.6 848.2 L298.6 847.4 L299.6 846.7 L300.6 846.0 L301.6 845.3 L302.7 844.6 L303.7 843.9 L304.7 843.3 L305.8 842.6 L306.9 842.1 L308.1 841.5 L309.3 840.9 L310.5 840.4 L311.7 839.9 L312.9 839.4 L314.1 838.8 L315.4 838.3 L316.6 837.8 L317.9 837.4 L319.1 836.9 L320.3 836.4 L321.6 835.9 L322.8 835.4 L324.0 834.9 L325.3 834.5 L326.5 834.0 L327.7 833.6 L328.8 833.2 L330.0 832.8 L331.1 832.5 L332.1 832.1 L333.2 831.8 L334.2 831.5 L335.2 831.2 L336.2 831.0 L337.2 830.7 L338.2 830.5 L339.2 830.2 L340.3 829.9 L341.6 829.7 L342.9 829.4 L344.4 829.1 L345.8 828.8 L347.3 828.5 L348.6 828.2 L349.8 828.0 L350.8 827.7 L351.5 827.3 L351.5 827.3 L350.7 827.0 L349.7 827.1 L348.4 827.1 L347.1 827.2 L345.6 827.3 L344.1 827.5 L342.7 827.7 L341.2 827.9 L339.9 828.1 L338.8 828.3 L337.8 828.4 L336.7 828.6 L335.7 828.9 L334.6 829.1 L333.6 829.3 L332.6 829.6 L331.5 829.8 L330.4 830.1 L329.2 830.5 L328.1 830.8 L326.9 831.2 L325.6 831.6 L324.4 832.0 L323.1 832.4 L321.9 832.8 L320.6 833.3 L319.3 833.7 L318.1 834.2 L316.8 834.7 L315.6 835.1 L314.3 835.6 L313.1 836.1 L311.8 836.6 L310.5 837.1 L309.3 837.6 L308.0 838.1 L306.8 838.7 L305.5 839.3 L304.3 839.9 L303.2 840.6 L302.0 841.2 L300.9 841.9 L299.9 842.6 L298.8 843.4 L297.8 844.1 L296.7 844.8 L295.7 845.5 L294.7 846.3 L293.7 847.0 L292.6 847.7 L291.5 848.4 L290.5 849.2 L289.4 850.0 L288.4 850.7 L287.4 851.4 L286.3 852.1 L285.3 852.8 L284.3 853.3 L283.4 853.9 L282.4 854.3 L281.5 854.7 L280.5 855.0 L279.5 855.3 L278.5 855.5 L277.5 855.8 L276.4 856.1 L275.3 856.5 L274.1 856.9 L272.9 857.4 L271.7 858.0 L270.5 858.6 L269.3 859.3 L268.0 860.0 L266.8 860.7 L265.5 861.5 L264.3 862.3 L263.0 863.0 L261.8 863.9 L260.5 864.7 L259.3 865.5 L258.1 866.4 L256.8 867.3 L255.6 868.2 L254.4 869.1 L253.2 870.1 L252.0 871.0 L250.8 871.9 L249.6 872.8 L248.4 873.7 L247.2 874.6 L246.0 875.5 L244.7 876.5 L243.4 877.5 L242.1 878.4 L240.9 879.4 L239.9 880.2 L238.9 881.0 L238.1 881.7 L237.6 882.4Z" fill="#e0182c" opacity="0.6"/>
<path d="M234.1 821.1 L357.6 821.1 L357.6 825.2 L350.6 825.5 L340.1 827.3 L329.6 829.9 L317.3 834.3 L305.1 839.5 L294.6 846.5 L284.1 853.5 L273.5 857.0 L261.3 864.0 L249.0 872.8 L237.6 880.7 L234.1 881.6Z" fill="#1a0306"/>
<path d="M305.1 875.4 L306.0 875.6 L307.1 875.6 L308.4 875.5 L309.8 875.4 L311.4 875.2 L313.0 875.0 L314.6 874.8 L316.3 874.6 L317.9 874.3 L319.4 874.0 L320.8 873.8 L322.1 873.5 L323.5 873.2 L324.8 872.8 L326.2 872.5 L327.5 872.2 L328.9 871.8 L330.4 871.4 L331.9 871.0 L333.4 870.6 L335.4 870.1 L337.6 869.5 L339.9 868.9 L342.2 868.2 L344.6 867.5 L346.8 866.9 L348.7 866.2 L350.3 865.6 L351.5 864.9 L351.5 864.9 L350.1 864.8 L348.4 865.0 L346.4 865.3 L344.1 865.7 L341.7 866.1 L339.3 866.6 L337.0 867.1 L334.7 867.5 L332.8 868.0 L331.2 868.3 L329.7 868.7 L328.2 869.1 L326.8 869.5 L325.5 869.8 L324.1 870.2 L322.8 870.5 L321.5 870.9 L320.2 871.2 L318.8 871.6 L317.4 871.9 L315.8 872.3 L314.2 872.7 L312.6 873.1 L311.1 873.5 L309.5 873.9 L308.1 874.2 L306.9 874.6 L305.9 875.0 L305.1 875.4Z" fill="#300612" opacity="0.8"/>
<path d="M319.1 885.1 C320.3 882.7 327.7 881.0 333.1 879.8 C338.5 878.6 348.4 875.7 351.5 878.1 C354.6 880.4 355.7 891.2 351.5 893.8 C347.3 896.5 331.5 895.3 326.1 893.8 C320.7 892.4 317.9 887.4 319.1 885.1Z" fill="#2a0510" opacity="0.75"/>
<path d="M310.3 864.0 L311.3 863.8 L312.6 863.3 L314.1 862.6 L315.8 861.9 L317.5 861.2 L319.4 860.4 L321.2 859.6 L323.0 858.8 L324.7 858.2 L326.3 857.6 L327.8 857.1 L329.2 856.7 L330.7 856.3 L332.1 855.9 L333.5 855.5 L334.9 855.2 L336.3 854.9 L337.6 854.6 L338.9 854.3 L340.2 854.0 L341.6 853.7 L343.1 853.4 L344.6 853.2 L346.0 852.9 L347.4 852.7 L348.7 852.4 L349.8 852.2 L350.8 852.0 L351.5 851.8 L351.5 851.8 L350.7 851.8 L349.8 851.8 L348.6 851.9 L347.3 852.0 L345.9 852.2 L344.5 852.3 L343.0 852.5 L341.5 852.8 L340.0 853.0 L338.7 853.3 L337.4 853.5 L336.0 853.8 L334.7 854.1 L333.2 854.4 L331.8 854.7 L330.4 855.1 L328.9 855.5 L327.4 856.0 L325.9 856.5 L324.3 857.1 L322.6 857.8 L320.8 858.6 L319.0 859.5 L317.2 860.4 L315.4 861.2 L313.8 862.1 L312.4 862.8 L311.2 863.5 L310.3 864.0Z" fill="#300612" opacity="0.6"/>
<path d="M270.0 878.1 L270.7 878.0 L271.5 877.9 L272.5 877.7 L273.6 877.5 L274.8 877.2 L276.0 876.9 L277.2 876.5 L278.5 876.1 L279.7 875.6 L280.8 875.1 L282.1 874.4 L283.4 873.6 L284.8 872.7 L286.1 871.7 L287.4 870.8 L288.6 869.8 L289.6 869.0 L290.5 868.2 L291.1 867.6 L291.1 867.6 L290.2 867.9 L289.3 868.5 L288.1 869.2 L286.8 870.0 L285.5 870.9 L284.1 871.8 L282.8 872.6 L281.5 873.4 L280.3 874.0 L279.2 874.5 L278.1 875.0 L276.9 875.5 L275.7 875.9 L274.5 876.3 L273.4 876.7 L272.3 877.1 L271.4 877.4 L270.6 877.7 L270.0 878.1Z" fill="#3a1cc0" opacity="0.5"/>
<rect x="341" y="890.5" width="5.5" height="2" fill="#ddd" opacity="0.8"/>
</g>
<rect x="236.7" y="824.1" width="115.3" height="71.7" fill="none" stroke="#111" stroke-width="1.3"/>
<clipPath id="c12"><rect x="356.7" y="824.1" width="111.5" height="71.7"/></clipPath>
<g clip-path="url(#c12)"><rect x="356.7" y="824.1" width="111.5" height="71.7" fill="#7a1430"/>
<rect x="356.7" y="824.1" width="111.5" height="71.7" filter="url(#nzR)" opacity="0.45"/>
<rect x="356.7" y="824.1" width="111.5" height="71.7" filter="url(#nzD)" opacity="0.45"/>
<rect x="356.7" y="824.1" width="111.5" height="71.7" filter="url(#nzb)" opacity="0.5"/>
<path d="M355.0 822.0 C358.6 814.4 373.5 820.9 376.8 822.0 C380.2 823.1 375.8 825.6 375.1 828.7 C374.4 831.8 373.2 836.0 372.6 840.5 C372.1 844.9 373.0 852.2 371.8 855.6 C370.5 858.9 367.9 858.7 365.1 860.6 C362.3 862.6 356.7 873.8 355.0 867.3 C353.3 860.9 351.4 829.6 355.0 822.0Z" fill="#3a0608" opacity="0.85"/>
<path d="M363.4 861.4 L364.1 861.5 L365.0 861.5 L366.0 861.4 L367.2 861.3 L368.4 861.1 L369.6 860.9 L370.8 860.7 L371.9 860.4 L372.9 860.2 L373.7 860.1 L374.6 860.0 L375.7 859.9 L376.8 859.8 L378.0 859.7 L379.1 859.6 L380.2 859.5 L381.2 859.3 L382.0 859.2 L382.7 858.9 L382.7 858.9 L382.1 858.5 L381.4 858.1 L380.5 857.7 L379.5 857.2 L378.3 856.8 L377.1 856.4 L375.8 856.2 L374.5 856.1 L373.2 856.1 L372.0 856.3 L370.8 856.7 L369.6 857.1 L368.4 857.7 L367.3 858.3 L366.3 859.0 L365.4 859.7 L364.5 860.3 L363.9 860.9 L363.4 861.4Z" fill="#2a0408" opacity="0.8"/>
<path d="M383.5 872.4 L384.8 871.6 L386.3 870.4 L388.0 869.0 L390.0 867.3 L392.0 865.6 L394.2 863.7 L396.4 861.8 L398.6 859.9 L400.7 858.1 L402.7 856.4 L404.7 854.7 L406.8 853.0 L408.9 851.3 L411.1 849.6 L413.3 847.9 L415.4 846.2 L417.5 844.5 L419.4 842.8 L421.2 841.1 L422.8 839.4 L424.5 837.5 L425.9 835.5 L427.3 833.5 L428.4 831.5 L429.5 829.6 L430.4 827.8 L431.2 826.2 L431.8 824.8 L432.2 823.7 L432.2 823.7 L431.4 824.6 L430.5 825.8 L429.6 827.3 L428.5 829.0 L427.3 830.8 L426.0 832.6 L424.6 834.5 L423.1 836.4 L421.5 838.1 L419.9 839.7 L418.1 841.3 L416.1 842.9 L414.1 844.5 L411.9 846.2 L409.7 847.9 L407.6 849.6 L405.4 851.3 L403.3 853.1 L401.3 854.8 L399.3 856.6 L397.3 858.5 L395.1 860.5 L393.0 862.5 L391.0 864.5 L389.1 866.4 L387.3 868.2 L385.7 869.8 L384.4 871.2 L383.5 872.4Z" fill="#2a0410" opacity="0.55"/>
<path d="M397.0 880.8 L398.5 879.8 L400.3 878.3 L402.4 876.6 L404.7 874.6 L407.2 872.4 L409.7 870.2 L412.3 867.9 L414.9 865.6 L417.3 863.4 L419.5 861.4 L421.6 859.5 L423.8 857.6 L425.9 855.7 L428.1 853.8 L430.2 852.0 L432.3 850.1 L434.3 848.3 L436.2 846.4 L438.0 844.6 L439.6 842.8 L441.4 840.7 L443.0 838.5 L444.5 836.2 L445.9 834.0 L447.2 831.9 L448.4 829.9 L449.4 828.1 L450.2 826.6 L450.7 825.4 L450.7 825.4 L449.7 826.3 L448.7 827.7 L447.5 829.4 L446.2 831.3 L444.8 833.3 L443.3 835.4 L441.7 837.5 L440.0 839.5 L438.2 841.5 L436.6 843.2 L434.8 845.0 L432.8 846.7 L430.8 848.5 L428.8 850.4 L426.7 852.2 L424.5 854.1 L422.3 856.0 L420.2 857.9 L418.1 859.8 L415.9 861.9 L413.5 864.1 L411.0 866.5 L408.5 868.9 L406.1 871.3 L403.7 873.6 L401.6 875.7 L399.7 877.7 L398.1 879.3 L397.0 880.8Z" fill="#2a0410" opacity="0.55"/>
<path d="M413.8 892.5 L415.3 891.5 L417.1 890.1 L419.1 888.4 L421.5 886.4 L423.9 884.3 L426.5 882.0 L429.1 879.7 L431.7 877.4 L434.1 875.2 L436.3 873.1 L438.5 871.1 L440.6 869.0 L442.8 866.8 L444.9 864.7 L447.0 862.5 L449.1 860.4 L451.1 858.4 L453.0 856.4 L454.7 854.5 L456.3 852.8 L458.0 851.1 L459.7 849.4 L461.2 847.7 L462.6 846.2 L463.9 844.8 L465.0 843.5 L466.1 842.4 L466.9 841.4 L467.5 840.5 L467.5 840.5 L466.6 841.0 L465.6 841.9 L464.4 842.9 L463.1 844.0 L461.7 845.3 L460.2 846.8 L458.6 848.3 L456.9 849.9 L455.1 851.6 L453.4 853.2 L451.6 855.0 L449.6 856.9 L447.6 858.9 L445.5 861.0 L443.4 863.1 L441.2 865.3 L439.1 867.4 L436.9 869.5 L434.8 871.6 L432.6 873.7 L430.3 876.0 L427.8 878.3 L425.3 880.7 L422.9 883.1 L420.5 885.4 L418.4 887.5 L416.4 889.4 L414.9 891.1 L413.8 892.5Z" fill="#2a0410" opacity="0.55"/>
<path d="M425.5 897.5 L427.1 896.6 L428.9 895.1 L431.0 893.3 L433.3 891.2 L435.8 889.0 L438.4 886.7 L440.9 884.4 L443.4 882.1 L445.8 880.1 L448.0 878.3 L450.4 876.4 L452.9 874.5 L455.4 872.7 L458.0 871.0 L460.4 869.3 L462.7 867.8 L464.6 866.3 L466.3 865.1 L467.5 864.0 L467.5 864.0 L465.9 864.5 L464.1 865.5 L462.0 866.6 L459.6 868.0 L457.0 869.5 L454.4 871.1 L451.7 872.9 L449.1 874.7 L446.6 876.5 L444.4 878.4 L442.0 880.5 L439.5 882.8 L437.0 885.2 L434.5 887.6 L432.2 890.0 L430.0 892.3 L428.1 894.3 L426.6 896.1 L425.5 897.5Z" fill="#2a0410" opacity="0.55"/>
<path d="M375.1 895.9 L376.2 895.3 L377.3 894.4 L378.6 893.3 L380.0 892.1 L381.5 890.7 L383.1 889.2 L384.7 887.7 L386.3 886.2 L387.9 884.7 L389.4 883.2 L391.0 881.5 L392.9 879.7 L394.8 877.7 L396.7 875.7 L398.5 873.7 L400.2 871.8 L401.7 870.1 L402.9 868.6 L403.7 867.3 L403.7 867.3 L402.4 868.1 L400.9 869.3 L399.2 870.8 L397.3 872.5 L395.3 874.3 L393.3 876.2 L391.3 878.1 L389.5 880.0 L387.8 881.7 L386.3 883.1 L384.8 884.7 L383.3 886.3 L381.8 887.9 L380.3 889.5 L378.9 891.0 L377.7 892.4 L376.6 893.7 L375.7 894.8 L375.1 895.9Z" fill="#2a0410" opacity="0.55"/>
<path d="M449.0 828.7 L450.1 828.7 L451.0 828.3 L451.9 827.9 L452.6 827.3 L453.4 826.8 L454.1 826.2 L454.8 825.5 L455.4 824.8 L455.7 823.7 L455.7 823.7 L454.6 823.7 L453.7 824.1 L452.9 824.5 L452.1 825.0 L451.3 825.6 L450.6 826.2 L450.0 826.9 L449.4 827.6 L449.0 828.7Z" fill="#2a0410" opacity="0.55"/>
<circle cx="380.2" cy="856.4" r="0.6" fill="#f0f0b0" opacity="0.8"/>
<circle cx="410.4" cy="861.4" r="0.6" fill="#f0f0b0" opacity="0.8"/>
<circle cx="428.0" cy="856.4" r="0.6" fill="#f0f0b0" opacity="0.8"/>
<circle cx="428.9" cy="840.5" r="0.6" fill="#f0f0b0" opacity="0.8"/>
<circle cx="442.3" cy="881.6" r="0.6" fill="#f0f0b0" opacity="0.8"/>
<circle cx="462.4" cy="845.5" r="0.6" fill="#f0f0b0" opacity="0.8"/>
<circle cx="358.4" cy="863.1" r="0.6" fill="#f0f0b0" opacity="0.8"/>
<circle cx="454.0" cy="867.3" r="0.6" fill="#f0f0b0" opacity="0.8"/>
<rect x="456" y="890.5" width="5.5" height="2" fill="#ddd" opacity="0.8"/>
</g>
<rect x="356.7" y="824.1" width="111.5" height="71.7" fill="none" stroke="#111" stroke-width="1.3"/>
</svg></body></html>
